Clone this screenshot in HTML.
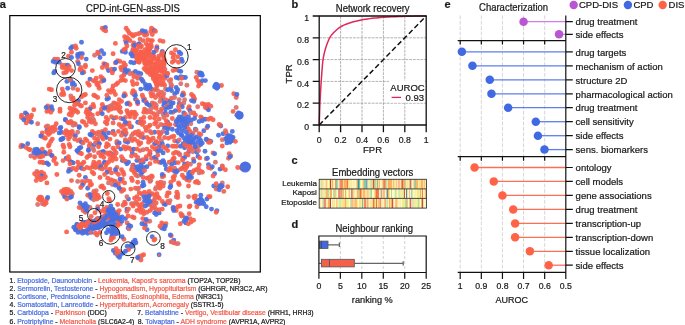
<!DOCTYPE html>
<html><head><meta charset="utf-8"><style>
html,body{margin:0;padding:0;background:#fff;}
svg{display:block;will-change:transform;font-family:"Liberation Sans", sans-serif;}
text{fill:#1a1a1a;stroke:#1a1a1a;stroke-width:0.22px;}
</style></head><body>
<svg width="685" height="325" viewBox="0 0 685 325">
<text x="-0.3" y="8" font-size="11" font-weight="bold">a</text>
<text transform="translate(133 11.6) scale(1 1.08)" font-size="9.5" text-anchor="middle">CPD-int-GEN-ass-DIS</text>
<g><circle cx="113.8" cy="118.3" r="2.45" fill="#4a6fe0" fill-opacity="0.93"/><circle cx="126.9" cy="123.7" r="2.45" fill="#4a6fe0" fill-opacity="0.93"/><circle cx="141.5" cy="122.2" r="2.45" fill="#4a6fe0" fill-opacity="0.93"/><circle cx="131.5" cy="126.8" r="2.45" fill="#4a6fe0" fill-opacity="0.93"/><circle cx="123.1" cy="132.9" r="2.45" fill="#4a6fe0" fill-opacity="0.93"/><circle cx="125.4" cy="134.5" r="2.45" fill="#4a6fe0" fill-opacity="0.93"/><circle cx="113.1" cy="131.4" r="2.45" fill="#4a6fe0" fill-opacity="0.93"/><circle cx="140.0" cy="135.2" r="2.45" fill="#4a6fe0" fill-opacity="0.93"/><circle cx="143.1" cy="137.5" r="2.45" fill="#4a6fe0" fill-opacity="0.93"/><circle cx="125.4" cy="141.4" r="2.45" fill="#4a6fe0" fill-opacity="0.93"/><circle cx="127.7" cy="142.2" r="2.45" fill="#4a6fe0" fill-opacity="0.93"/><circle cx="116.9" cy="142.9" r="2.45" fill="#4a6fe0" fill-opacity="0.93"/><circle cx="132.3" cy="152.9" r="2.45" fill="#4a6fe0" fill-opacity="0.93"/><circle cx="156.2" cy="142.9" r="2.45" fill="#4a6fe0" fill-opacity="0.93"/><circle cx="163.1" cy="152.9" r="2.45" fill="#4a6fe0" fill-opacity="0.93"/><circle cx="156.9" cy="149.1" r="2.45" fill="#4a6fe0" fill-opacity="0.93"/><circle cx="159.2" cy="146.8" r="2.45" fill="#4a6fe0" fill-opacity="0.93"/><circle cx="167.7" cy="146.0" r="2.45" fill="#4a6fe0" fill-opacity="0.93"/><circle cx="156.2" cy="159.1" r="2.45" fill="#4a6fe0" fill-opacity="0.93"/><circle cx="160.8" cy="162.2" r="2.45" fill="#4a6fe0" fill-opacity="0.93"/><circle cx="163.8" cy="162.2" r="2.45" fill="#4a6fe0" fill-opacity="0.93"/><circle cx="143.1" cy="162.2" r="2.45" fill="#4a6fe0" fill-opacity="0.93"/><circle cx="140.8" cy="160.6" r="2.45" fill="#4a6fe0" fill-opacity="0.93"/><circle cx="146.2" cy="159.1" r="2.45" fill="#4a6fe0" fill-opacity="0.93"/><circle cx="122.3" cy="160.6" r="2.45" fill="#4a6fe0" fill-opacity="0.93"/><circle cx="125.4" cy="161.4" r="2.45" fill="#4a6fe0" fill-opacity="0.93"/><circle cx="128.5" cy="162.2" r="2.45" fill="#4a6fe0" fill-opacity="0.93"/><circle cx="133.1" cy="165.2" r="2.45" fill="#4a6fe0" fill-opacity="0.93"/><circle cx="150.0" cy="153.7" r="2.45" fill="#4a6fe0" fill-opacity="0.93"/><circle cx="154.6" cy="132.2" r="2.45" fill="#4a6fe0" fill-opacity="0.93"/><circle cx="160.8" cy="132.9" r="2.45" fill="#4a6fe0" fill-opacity="0.93"/><circle cx="168.5" cy="126.8" r="2.45" fill="#4a6fe0" fill-opacity="0.93"/><circle cx="167.7" cy="122.2" r="2.45" fill="#4a6fe0" fill-opacity="0.93"/><circle cx="110.0" cy="152.9" r="2.45" fill="#4a6fe0" fill-opacity="0.93"/><circle cx="112.3" cy="154.5" r="2.45" fill="#4a6fe0" fill-opacity="0.93"/><circle cx="60.0" cy="128.3" r="2.45" fill="#4a6fe0" fill-opacity="0.93"/><circle cx="61.5" cy="139.1" r="2.45" fill="#4a6fe0" fill-opacity="0.93"/><circle cx="79.2" cy="126.8" r="2.45" fill="#4a6fe0" fill-opacity="0.93"/><circle cx="96.9" cy="142.9" r="2.45" fill="#4a6fe0" fill-opacity="0.93"/><circle cx="99.2" cy="143.7" r="2.45" fill="#4a6fe0" fill-opacity="0.93"/><circle cx="104.6" cy="136.0" r="2.45" fill="#4a6fe0" fill-opacity="0.93"/><circle cx="106.2" cy="137.5" r="2.45" fill="#4a6fe0" fill-opacity="0.93"/><circle cx="76.9" cy="150.6" r="2.45" fill="#4a6fe0" fill-opacity="0.93"/><circle cx="78.5" cy="152.2" r="2.45" fill="#4a6fe0" fill-opacity="0.93"/><circle cx="88.5" cy="150.6" r="2.45" fill="#4a6fe0" fill-opacity="0.93"/><circle cx="103.8" cy="152.2" r="2.45" fill="#4a6fe0" fill-opacity="0.93"/><circle cx="71.5" cy="162.2" r="2.45" fill="#4a6fe0" fill-opacity="0.93"/><circle cx="66.2" cy="158.3" r="2.45" fill="#4a6fe0" fill-opacity="0.93"/><circle cx="104.6" cy="162.2" r="2.45" fill="#4a6fe0" fill-opacity="0.93"/><circle cx="65.4" cy="119.8" r="2.45" fill="#4a6fe0" fill-opacity="0.93"/><circle cx="66.9" cy="132.2" r="2.45" fill="#4a6fe0" fill-opacity="0.93"/><circle cx="145.8" cy="70.3" r="2.45" fill="#f8604c" fill-opacity="0.93"/><circle cx="162.6" cy="55.4" r="2.45" fill="#f8604c" fill-opacity="0.93"/><circle cx="162.6" cy="64.8" r="2.45" fill="#f8604c" fill-opacity="0.93"/><circle cx="163.7" cy="66.9" r="2.45" fill="#f8604c" fill-opacity="0.93"/><circle cx="159.8" cy="69.8" r="2.45" fill="#f8604c" fill-opacity="0.93"/><circle cx="164.1" cy="75.1" r="2.45" fill="#f8604c" fill-opacity="0.93"/><circle cx="137.3" cy="53.6" r="2.45" fill="#f8604c" fill-opacity="0.93"/><circle cx="148.1" cy="71.3" r="2.45" fill="#f8604c" fill-opacity="0.93"/><circle cx="150.7" cy="60.9" r="2.45" fill="#f8604c" fill-opacity="0.93"/><circle cx="153.5" cy="69.5" r="2.45" fill="#f8604c" fill-opacity="0.93"/><circle cx="157.0" cy="84.4" r="2.45" fill="#f8604c" fill-opacity="0.93"/><circle cx="152.9" cy="75.1" r="2.45" fill="#f8604c" fill-opacity="0.93"/><circle cx="162.4" cy="69.0" r="2.45" fill="#f8604c" fill-opacity="0.93"/><circle cx="161.3" cy="62.0" r="2.45" fill="#f8604c" fill-opacity="0.93"/><circle cx="158.3" cy="58.5" r="2.45" fill="#f8604c" fill-opacity="0.93"/><circle cx="133.5" cy="52.7" r="2.45" fill="#f8604c" fill-opacity="0.93"/><circle cx="164.8" cy="60.6" r="2.45" fill="#f8604c" fill-opacity="0.93"/><circle cx="151.2" cy="72.1" r="2.45" fill="#f8604c" fill-opacity="0.93"/><circle cx="152.6" cy="71.1" r="2.45" fill="#f8604c" fill-opacity="0.93"/><circle cx="150.7" cy="62.9" r="2.45" fill="#f8604c" fill-opacity="0.93"/><circle cx="141.0" cy="57.2" r="2.45" fill="#f8604c" fill-opacity="0.93"/><circle cx="151.2" cy="67.9" r="2.45" fill="#d9706e" fill-opacity="0.93"/><circle cx="147.4" cy="69.3" r="2.45" fill="#f8604c" fill-opacity="0.93"/><circle cx="154.6" cy="71.6" r="2.45" fill="#f8604c" fill-opacity="0.93"/><circle cx="155.0" cy="64.4" r="2.45" fill="#f8604c" fill-opacity="0.93"/><circle cx="148.9" cy="69.9" r="2.45" fill="#f8604c" fill-opacity="0.93"/><circle cx="145.5" cy="57.7" r="2.45" fill="#f8604c" fill-opacity="0.93"/><circle cx="153.9" cy="57.2" r="2.45" fill="#f8604c" fill-opacity="0.93"/><circle cx="153.0" cy="76.0" r="2.45" fill="#f8604c" fill-opacity="0.93"/><circle cx="141.0" cy="52.3" r="2.45" fill="#f8604c" fill-opacity="0.93"/><circle cx="144.0" cy="58.7" r="2.45" fill="#f8604c" fill-opacity="0.93"/><circle cx="138.5" cy="58.8" r="2.45" fill="#f8604c" fill-opacity="0.93"/><circle cx="164.3" cy="63.7" r="2.45" fill="#f8604c" fill-opacity="0.93"/><circle cx="155.6" cy="79.1" r="2.45" fill="#f8604c" fill-opacity="0.93"/><circle cx="137.1" cy="56.8" r="2.45" fill="#f8604c" fill-opacity="0.93"/><circle cx="142.2" cy="59.2" r="2.45" fill="#f8604c" fill-opacity="0.93"/><circle cx="147.6" cy="61.9" r="2.45" fill="#f8604c" fill-opacity="0.93"/><circle cx="138.0" cy="44.4" r="2.45" fill="#f8604c" fill-opacity="0.93"/><circle cx="159.3" cy="80.4" r="2.45" fill="#f8604c" fill-opacity="0.93"/><circle cx="151.1" cy="56.7" r="2.45" fill="#f8604c" fill-opacity="0.93"/><circle cx="140.6" cy="47.1" r="2.45" fill="#f8604c" fill-opacity="0.93"/><circle cx="157.4" cy="84.2" r="2.45" fill="#f8604c" fill-opacity="0.93"/><circle cx="164.9" cy="69.2" r="2.45" fill="#d9706e" fill-opacity="0.93"/><circle cx="151.4" cy="62.1" r="2.45" fill="#f8604c" fill-opacity="0.93"/><circle cx="154.5" cy="59.0" r="2.45" fill="#f8604c" fill-opacity="0.93"/><circle cx="163.5" cy="64.9" r="2.45" fill="#f8604c" fill-opacity="0.93"/><circle cx="145.1" cy="52.7" r="2.45" fill="#f8604c" fill-opacity="0.93"/><circle cx="161.0" cy="84.1" r="2.45" fill="#f8604c" fill-opacity="0.93"/><circle cx="155.1" cy="81.5" r="2.45" fill="#f8604c" fill-opacity="0.93"/><circle cx="142.2" cy="55.8" r="2.45" fill="#f8604c" fill-opacity="0.93"/><circle cx="147.7" cy="64.7" r="2.45" fill="#f8604c" fill-opacity="0.93"/><circle cx="137.0" cy="49.6" r="2.45" fill="#f8604c" fill-opacity="0.93"/><circle cx="143.8" cy="57.8" r="2.45" fill="#f8604c" fill-opacity="0.93"/><circle cx="155.8" cy="69.6" r="2.45" fill="#f8604c" fill-opacity="0.93"/><circle cx="139.3" cy="58.4" r="2.45" fill="#f8604c" fill-opacity="0.93"/><circle cx="152.5" cy="75.2" r="2.45" fill="#f8604c" fill-opacity="0.93"/><circle cx="135.3" cy="51.9" r="2.45" fill="#f8604c" fill-opacity="0.93"/><circle cx="154.2" cy="78.1" r="2.45" fill="#f8604c" fill-opacity="0.93"/><circle cx="161.3" cy="71.2" r="2.45" fill="#f8604c" fill-opacity="0.93"/><circle cx="145.8" cy="65.7" r="2.45" fill="#f8604c" fill-opacity="0.93"/><circle cx="149.0" cy="54.8" r="2.45" fill="#f8604c" fill-opacity="0.93"/><circle cx="147.7" cy="62.6" r="2.45" fill="#f8604c" fill-opacity="0.93"/><circle cx="164.8" cy="78.4" r="2.45" fill="#f8604c" fill-opacity="0.93"/><circle cx="149.2" cy="49.5" r="2.45" fill="#f8604c" fill-opacity="0.93"/><circle cx="156.3" cy="82.6" r="2.45" fill="#f8604c" fill-opacity="0.93"/><circle cx="156.5" cy="76.0" r="2.45" fill="#f8604c" fill-opacity="0.93"/><circle cx="132.6" cy="50.4" r="2.45" fill="#f8604c" fill-opacity="0.93"/><circle cx="134.0" cy="48.2" r="2.45" fill="#f8604c" fill-opacity="0.93"/><circle cx="156.7" cy="80.4" r="2.45" fill="#f8604c" fill-opacity="0.93"/><circle cx="153.3" cy="78.8" r="2.45" fill="#f8604c" fill-opacity="0.93"/><circle cx="160.1" cy="66.3" r="2.45" fill="#f8604c" fill-opacity="0.93"/><circle cx="144.1" cy="68.6" r="2.45" fill="#f8604c" fill-opacity="0.93"/><circle cx="141.1" cy="52.0" r="2.45" fill="#f8604c" fill-opacity="0.93"/><circle cx="154.6" cy="76.8" r="2.45" fill="#f8604c" fill-opacity="0.93"/><circle cx="145.7" cy="61.4" r="2.45" fill="#f8604c" fill-opacity="0.93"/><circle cx="147.5" cy="47.8" r="2.45" fill="#f8604c" fill-opacity="0.93"/><circle cx="157.3" cy="76.9" r="2.45" fill="#f8604c" fill-opacity="0.93"/><circle cx="151.1" cy="65.1" r="2.45" fill="#f8604c" fill-opacity="0.93"/><circle cx="139.1" cy="55.8" r="2.45" fill="#f8604c" fill-opacity="0.93"/><circle cx="153.5" cy="57.8" r="2.45" fill="#f8604c" fill-opacity="0.93"/><circle cx="157.3" cy="85.5" r="2.45" fill="#f8604c" fill-opacity="0.93"/><circle cx="157.9" cy="62.1" r="2.45" fill="#f8604c" fill-opacity="0.93"/><circle cx="153.5" cy="55.8" r="2.45" fill="#f8604c" fill-opacity="0.93"/><circle cx="146.2" cy="51.7" r="2.45" fill="#f8604c" fill-opacity="0.93"/><circle cx="149.7" cy="70.1" r="2.45" fill="#f8604c" fill-opacity="0.93"/><circle cx="162.5" cy="79.8" r="2.45" fill="#f8604c" fill-opacity="0.93"/><circle cx="163.3" cy="61.5" r="2.45" fill="#f8604c" fill-opacity="0.93"/><circle cx="140.7" cy="54.4" r="2.45" fill="#f8604c" fill-opacity="0.93"/><circle cx="156.8" cy="85.7" r="2.45" fill="#f8604c" fill-opacity="0.93"/><circle cx="141.1" cy="52.4" r="2.45" fill="#f8604c" fill-opacity="0.93"/><circle cx="163.4" cy="83.2" r="2.45" fill="#f8604c" fill-opacity="0.93"/><circle cx="163.6" cy="57.8" r="2.45" fill="#f8604c" fill-opacity="0.93"/><circle cx="142.9" cy="59.6" r="2.45" fill="#f8604c" fill-opacity="0.93"/><circle cx="144.5" cy="63.1" r="2.45" fill="#f8604c" fill-opacity="0.93"/><circle cx="160.3" cy="77.0" r="2.45" fill="#f8604c" fill-opacity="0.93"/><circle cx="156.8" cy="72.5" r="2.45" fill="#f8604c" fill-opacity="0.93"/><circle cx="167.1" cy="73.3" r="2.45" fill="#f8604c" fill-opacity="0.93"/><circle cx="156.9" cy="68.7" r="2.45" fill="#f8604c" fill-opacity="0.93"/><circle cx="155.7" cy="71.5" r="2.45" fill="#f8604c" fill-opacity="0.93"/><circle cx="164.5" cy="72.6" r="2.45" fill="#f8604c" fill-opacity="0.93"/><circle cx="154.0" cy="68.2" r="2.45" fill="#f8604c" fill-opacity="0.93"/><circle cx="148.9" cy="57.7" r="2.45" fill="#f8604c" fill-opacity="0.93"/><circle cx="159.6" cy="67.7" r="2.45" fill="#f8604c" fill-opacity="0.93"/><circle cx="145.4" cy="55.7" r="2.45" fill="#f8604c" fill-opacity="0.93"/><circle cx="150.6" cy="54.9" r="2.45" fill="#f8604c" fill-opacity="0.93"/><circle cx="145.2" cy="58.6" r="2.45" fill="#f8604c" fill-opacity="0.93"/><circle cx="136.4" cy="55.9" r="2.45" fill="#f8604c" fill-opacity="0.93"/><circle cx="139.2" cy="62.2" r="2.45" fill="#f8604c" fill-opacity="0.93"/><circle cx="161.8" cy="76.6" r="2.45" fill="#f8604c" fill-opacity="0.93"/><circle cx="137.7" cy="61.5" r="2.45" fill="#f8604c" fill-opacity="0.93"/><circle cx="151.4" cy="68.8" r="2.45" fill="#f8604c" fill-opacity="0.93"/><circle cx="164.6" cy="85.3" r="2.45" fill="#f8604c" fill-opacity="0.93"/><circle cx="152.3" cy="69.4" r="2.45" fill="#f8604c" fill-opacity="0.93"/><circle cx="149.9" cy="70.2" r="2.45" fill="#f8604c" fill-opacity="0.93"/><circle cx="156.3" cy="65.5" r="2.45" fill="#f8604c" fill-opacity="0.93"/><circle cx="149.0" cy="52.6" r="2.45" fill="#f8604c" fill-opacity="0.93"/><circle cx="155.7" cy="63.4" r="2.45" fill="#f8604c" fill-opacity="0.93"/><circle cx="145.4" cy="54.3" r="2.45" fill="#f8604c" fill-opacity="0.93"/><circle cx="163.4" cy="70.2" r="2.45" fill="#f8604c" fill-opacity="0.93"/><circle cx="158.2" cy="76.2" r="2.45" fill="#f8604c" fill-opacity="0.93"/><circle cx="161.5" cy="84.5" r="2.45" fill="#f8604c" fill-opacity="0.93"/><circle cx="149.9" cy="48.9" r="2.45" fill="#f8604c" fill-opacity="0.93"/><circle cx="135.2" cy="52.9" r="2.45" fill="#f8604c" fill-opacity="0.93"/><circle cx="150.3" cy="74.5" r="2.45" fill="#f8604c" fill-opacity="0.93"/><circle cx="147.6" cy="72.3" r="2.45" fill="#f8604c" fill-opacity="0.93"/><circle cx="146.9" cy="52.0" r="2.45" fill="#f8604c" fill-opacity="0.93"/><circle cx="158.4" cy="60.1" r="2.45" fill="#f8604c" fill-opacity="0.93"/><circle cx="151.5" cy="70.0" r="2.45" fill="#f8604c" fill-opacity="0.93"/><circle cx="149.0" cy="52.7" r="2.45" fill="#f8604c" fill-opacity="0.93"/><circle cx="138.6" cy="61.7" r="2.45" fill="#f8604c" fill-opacity="0.93"/><circle cx="133.4" cy="49.0" r="2.45" fill="#f8604c" fill-opacity="0.93"/><circle cx="144.9" cy="49.6" r="2.45" fill="#f8604c" fill-opacity="0.93"/><circle cx="158.7" cy="56.1" r="2.45" fill="#f8604c" fill-opacity="0.93"/><circle cx="143.2" cy="55.0" r="2.45" fill="#f8604c" fill-opacity="0.93"/><circle cx="161.8" cy="71.4" r="2.45" fill="#f8604c" fill-opacity="0.93"/><circle cx="135.7" cy="51.6" r="2.45" fill="#f8604c" fill-opacity="0.93"/><circle cx="161.4" cy="83.9" r="2.45" fill="#f8604c" fill-opacity="0.93"/><circle cx="135.6" cy="56.9" r="2.45" fill="#f8604c" fill-opacity="0.93"/><circle cx="136.5" cy="61.1" r="2.45" fill="#f8604c" fill-opacity="0.93"/><circle cx="156.9" cy="84.4" r="2.45" fill="#f8604c" fill-opacity="0.93"/><circle cx="159.1" cy="76.0" r="2.45" fill="#f8604c" fill-opacity="0.93"/><circle cx="145.5" cy="62.2" r="2.45" fill="#f8604c" fill-opacity="0.93"/><circle cx="160.5" cy="65.0" r="2.45" fill="#f8604c" fill-opacity="0.93"/><circle cx="81.2" cy="226.4" r="2.45" fill="#4a6fe0" fill-opacity="0.93"/><circle cx="108.2" cy="218.5" r="2.45" fill="#4a6fe0" fill-opacity="0.93"/><circle cx="80.4" cy="226.2" r="2.45" fill="#4a6fe0" fill-opacity="0.93"/><circle cx="96.0" cy="227.3" r="2.45" fill="#4a6fe0" fill-opacity="0.93"/><circle cx="109.3" cy="217.3" r="2.45" fill="#4a6fe0" fill-opacity="0.93"/><circle cx="76.7" cy="224.7" r="2.45" fill="#4a6fe0" fill-opacity="0.93"/><circle cx="104.9" cy="223.2" r="2.45" fill="#d9706e" fill-opacity="0.93"/><circle cx="84.2" cy="232.2" r="2.45" fill="#4a6fe0" fill-opacity="0.93"/><circle cx="100.8" cy="219.3" r="2.45" fill="#4a6fe0" fill-opacity="0.93"/><circle cx="113.9" cy="212.1" r="2.45" fill="#4a6fe0" fill-opacity="0.93"/><circle cx="116.2" cy="217.6" r="2.45" fill="#4a6fe0" fill-opacity="0.93"/><circle cx="113.4" cy="214.3" r="2.45" fill="#4a6fe0" fill-opacity="0.93"/><circle cx="95.9" cy="226.6" r="2.45" fill="#4a6fe0" fill-opacity="0.93"/><circle cx="90.0" cy="220.8" r="2.45" fill="#4a6fe0" fill-opacity="0.93"/><circle cx="100.3" cy="226.8" r="2.45" fill="#4a6fe0" fill-opacity="0.93"/><circle cx="105.1" cy="223.7" r="2.45" fill="#4a6fe0" fill-opacity="0.93"/><circle cx="80.9" cy="231.4" r="2.45" fill="#4a6fe0" fill-opacity="0.93"/><circle cx="99.4" cy="219.3" r="2.45" fill="#4a6fe0" fill-opacity="0.93"/><circle cx="96.9" cy="227.7" r="2.45" fill="#4a6fe0" fill-opacity="0.93"/><circle cx="87.3" cy="231.4" r="2.45" fill="#4a6fe0" fill-opacity="0.93"/><circle cx="77.5" cy="226.4" r="2.45" fill="#4a6fe0" fill-opacity="0.93"/><circle cx="98.6" cy="224.5" r="2.45" fill="#4a6fe0" fill-opacity="0.93"/><circle cx="109.9" cy="215.9" r="2.45" fill="#4a6fe0" fill-opacity="0.93"/><circle cx="89.9" cy="226.9" r="2.45" fill="#4a6fe0" fill-opacity="0.93"/><circle cx="116.4" cy="218.2" r="2.45" fill="#4a6fe0" fill-opacity="0.93"/><circle cx="98.9" cy="222.2" r="2.45" fill="#4a6fe0" fill-opacity="0.93"/><circle cx="115.2" cy="216.1" r="2.45" fill="#4a6fe0" fill-opacity="0.93"/><circle cx="113.0" cy="209.6" r="2.45" fill="#4a6fe0" fill-opacity="0.93"/><circle cx="99.2" cy="222.0" r="2.45" fill="#4a6fe0" fill-opacity="0.93"/><circle cx="111.1" cy="220.4" r="2.45" fill="#4a6fe0" fill-opacity="0.93"/><circle cx="112.7" cy="219.3" r="2.45" fill="#4a6fe0" fill-opacity="0.93"/><circle cx="104.0" cy="225.3" r="2.45" fill="#4a6fe0" fill-opacity="0.93"/><circle cx="113.0" cy="215.2" r="2.45" fill="#4a6fe0" fill-opacity="0.93"/><circle cx="117.9" cy="220.4" r="2.45" fill="#4a6fe0" fill-opacity="0.93"/><circle cx="102.8" cy="219.2" r="2.45" fill="#4a6fe0" fill-opacity="0.93"/><circle cx="100.0" cy="219.0" r="2.45" fill="#4a6fe0" fill-opacity="0.93"/><circle cx="95.4" cy="228.3" r="2.45" fill="#4a6fe0" fill-opacity="0.93"/><circle cx="88.4" cy="221.7" r="2.45" fill="#4a6fe0" fill-opacity="0.93"/><circle cx="100.1" cy="220.9" r="2.45" fill="#4a6fe0" fill-opacity="0.93"/><circle cx="77.8" cy="225.2" r="2.45" fill="#4a6fe0" fill-opacity="0.93"/><circle cx="82.4" cy="231.1" r="2.45" fill="#4a6fe0" fill-opacity="0.93"/><circle cx="91.8" cy="228.9" r="2.45" fill="#4a6fe0" fill-opacity="0.93"/><circle cx="86.2" cy="231.8" r="2.45" fill="#4a6fe0" fill-opacity="0.93"/><circle cx="99.0" cy="226.9" r="2.45" fill="#4a6fe0" fill-opacity="0.93"/><circle cx="86.1" cy="222.3" r="2.45" fill="#4a6fe0" fill-opacity="0.93"/><circle cx="84.5" cy="232.0" r="2.45" fill="#4a6fe0" fill-opacity="0.93"/><circle cx="117.9" cy="213.6" r="2.45" fill="#4a6fe0" fill-opacity="0.93"/><circle cx="110.6" cy="213.6" r="2.45" fill="#4a6fe0" fill-opacity="0.93"/><circle cx="99.4" cy="218.4" r="2.45" fill="#4a6fe0" fill-opacity="0.93"/><circle cx="96.9" cy="226.0" r="2.45" fill="#4a6fe0" fill-opacity="0.93"/><circle cx="101.1" cy="220.4" r="2.45" fill="#4a6fe0" fill-opacity="0.93"/><circle cx="94.8" cy="222.0" r="2.45" fill="#4a6fe0" fill-opacity="0.93"/><circle cx="82.7" cy="223.4" r="2.45" fill="#4a6fe0" fill-opacity="0.93"/><circle cx="115.0" cy="213.6" r="2.45" fill="#4a6fe0" fill-opacity="0.93"/><circle cx="114.6" cy="213.4" r="2.45" fill="#4a6fe0" fill-opacity="0.93"/><circle cx="116.2" cy="212.1" r="2.45" fill="#d9706e" fill-opacity="0.93"/><circle cx="98.9" cy="227.5" r="2.45" fill="#4a6fe0" fill-opacity="0.93"/><circle cx="99.7" cy="219.8" r="2.45" fill="#4a6fe0" fill-opacity="0.93"/><circle cx="102.7" cy="217.0" r="2.45" fill="#4a6fe0" fill-opacity="0.93"/><circle cx="90.6" cy="223.6" r="2.45" fill="#4a6fe0" fill-opacity="0.93"/><circle cx="114.4" cy="216.2" r="2.45" fill="#4a6fe0" fill-opacity="0.93"/><circle cx="97.7" cy="226.7" r="2.45" fill="#4a6fe0" fill-opacity="0.93"/><circle cx="104.9" cy="216.1" r="2.45" fill="#4a6fe0" fill-opacity="0.93"/><circle cx="95.3" cy="220.7" r="2.45" fill="#4a6fe0" fill-opacity="0.93"/><circle cx="99.1" cy="219.8" r="2.45" fill="#4a6fe0" fill-opacity="0.93"/><circle cx="75.7" cy="229.6" r="2.45" fill="#4a6fe0" fill-opacity="0.93"/><circle cx="83.4" cy="222.3" r="2.45" fill="#4a6fe0" fill-opacity="0.93"/><circle cx="108.2" cy="217.9" r="2.45" fill="#4a6fe0" fill-opacity="0.93"/><circle cx="97.9" cy="218.8" r="2.45" fill="#4a6fe0" fill-opacity="0.93"/><circle cx="99.4" cy="226.8" r="2.45" fill="#4a6fe0" fill-opacity="0.93"/><circle cx="94.7" cy="225.5" r="2.45" fill="#4a6fe0" fill-opacity="0.93"/><circle cx="116.6" cy="218.3" r="2.45" fill="#4a6fe0" fill-opacity="0.93"/><circle cx="117.1" cy="216.2" r="2.45" fill="#4a6fe0" fill-opacity="0.93"/><circle cx="114.2" cy="213.7" r="2.45" fill="#4a6fe0" fill-opacity="0.93"/><circle cx="92.1" cy="221.5" r="2.45" fill="#4a6fe0" fill-opacity="0.93"/><circle cx="104.1" cy="225.0" r="2.45" fill="#4a6fe0" fill-opacity="0.93"/><circle cx="94.7" cy="227.2" r="2.45" fill="#4a6fe0" fill-opacity="0.93"/><circle cx="96.6" cy="219.4" r="2.45" fill="#4a6fe0" fill-opacity="0.93"/><circle cx="113.9" cy="217.2" r="2.45" fill="#4a6fe0" fill-opacity="0.93"/><circle cx="77.1" cy="224.5" r="2.45" fill="#4a6fe0" fill-opacity="0.93"/><circle cx="102.3" cy="28.3" r="2.45" fill="#f8604c" fill-opacity="0.93"/><circle cx="103.8" cy="29.8" r="2.45" fill="#f8604c" fill-opacity="0.93"/><circle cx="105.4" cy="27.5" r="2.45" fill="#4a6fe0" fill-opacity="0.93"/><circle cx="105.7" cy="30.9" r="2.45" fill="#f8604c" fill-opacity="0.93"/><circle cx="81.5" cy="42.2" r="2.45" fill="#4a6fe0" fill-opacity="0.93"/><circle cx="70.8" cy="48.3" r="2.45" fill="#4a6fe0" fill-opacity="0.93"/><circle cx="72.3" cy="46.8" r="2.45" fill="#4a6fe0" fill-opacity="0.93"/><circle cx="75.4" cy="46.0" r="2.45" fill="#f8604c" fill-opacity="0.93"/><circle cx="76.2" cy="48.3" r="2.45" fill="#f8604c" fill-opacity="0.93"/><circle cx="71.5" cy="52.2" r="2.45" fill="#f8604c" fill-opacity="0.93"/><circle cx="77.7" cy="54.5" r="2.45" fill="#4a6fe0" fill-opacity="0.93"/><circle cx="80.0" cy="53.7" r="2.45" fill="#4a6fe0" fill-opacity="0.93"/><circle cx="82.3" cy="53.7" r="2.45" fill="#4a6fe0" fill-opacity="0.93"/><circle cx="81.5" cy="57.5" r="2.45" fill="#f8604c" fill-opacity="0.93"/><circle cx="77.7" cy="56.8" r="2.45" fill="#4a6fe0" fill-opacity="0.93"/><circle cx="86.2" cy="59.1" r="2.45" fill="#4a6fe0" fill-opacity="0.93"/><circle cx="68.5" cy="56.3" r="2.45" fill="#f8604c" fill-opacity="0.93"/><circle cx="71.5" cy="57.5" r="2.45" fill="#4a6fe0" fill-opacity="0.93"/><circle cx="77.7" cy="61.4" r="2.45" fill="#f8604c" fill-opacity="0.93"/><circle cx="78.5" cy="63.7" r="2.45" fill="#4a6fe0" fill-opacity="0.93"/><circle cx="97.7" cy="52.2" r="2.45" fill="#f8604c" fill-opacity="0.93"/><circle cx="101.5" cy="50.6" r="2.45" fill="#4a6fe0" fill-opacity="0.93"/><circle cx="98.5" cy="53.7" r="2.45" fill="#f8604c" fill-opacity="0.93"/><circle cx="94.6" cy="55.2" r="2.45" fill="#d9706e" fill-opacity="0.93"/><circle cx="100.0" cy="57.5" r="2.45" fill="#4a6fe0" fill-opacity="0.93"/><circle cx="103.8" cy="53.7" r="2.45" fill="#4a6fe0" fill-opacity="0.93"/><circle cx="54.6" cy="59.1" r="2.45" fill="#f8604c" fill-opacity="0.93"/><circle cx="57.7" cy="59.1" r="2.45" fill="#f8604c" fill-opacity="0.93"/><circle cx="53.1" cy="61.4" r="2.45" fill="#4a6fe0" fill-opacity="0.93"/><circle cx="55.4" cy="62.2" r="2.45" fill="#4a6fe0" fill-opacity="0.93"/><circle cx="59.2" cy="62.2" r="2.45" fill="#4a6fe0" fill-opacity="0.93"/><circle cx="62.3" cy="65.2" r="2.45" fill="#f8604c" fill-opacity="0.93"/><circle cx="65.4" cy="65.2" r="2.45" fill="#f8604c" fill-opacity="0.93"/><circle cx="67.7" cy="65.2" r="2.45" fill="#4a6fe0" fill-opacity="0.93"/><circle cx="103.8" cy="63.7" r="2.45" fill="#f8604c" fill-opacity="0.93"/><circle cx="105.4" cy="64.5" r="2.45" fill="#4a6fe0" fill-opacity="0.93"/><circle cx="106.9" cy="64.9" r="2.45" fill="#f8604c" fill-opacity="0.93"/><circle cx="85.4" cy="65.2" r="2.45" fill="#d9706e" fill-opacity="0.93"/><circle cx="126.2" cy="28.3" r="2.45" fill="#f8604c" fill-opacity="0.93"/><circle cx="127.7" cy="30.6" r="2.45" fill="#f8604c" fill-opacity="0.93"/><circle cx="129.2" cy="32.9" r="2.45" fill="#f8604c" fill-opacity="0.93"/><circle cx="131.5" cy="34.5" r="2.45" fill="#f8604c" fill-opacity="0.93"/><circle cx="133.1" cy="36.0" r="2.45" fill="#f8604c" fill-opacity="0.93"/><circle cx="124.6" cy="36.8" r="2.45" fill="#f8604c" fill-opacity="0.93"/><circle cx="126.9" cy="37.5" r="2.45" fill="#f8604c" fill-opacity="0.93"/><circle cx="128.5" cy="39.1" r="2.45" fill="#f8604c" fill-opacity="0.93"/><circle cx="130.0" cy="40.6" r="2.45" fill="#f8604c" fill-opacity="0.93"/><circle cx="125.4" cy="40.6" r="2.45" fill="#f8604c" fill-opacity="0.93"/><circle cx="135.4" cy="34.5" r="2.45" fill="#f8604c" fill-opacity="0.93"/><circle cx="138.5" cy="33.7" r="2.45" fill="#f8604c" fill-opacity="0.93"/><circle cx="140.8" cy="32.9" r="2.45" fill="#f8604c" fill-opacity="0.93"/><circle cx="143.1" cy="32.2" r="2.45" fill="#f8604c" fill-opacity="0.93"/><circle cx="145.4" cy="33.7" r="2.45" fill="#f8604c" fill-opacity="0.93"/><circle cx="144.6" cy="35.2" r="2.45" fill="#f8604c" fill-opacity="0.93"/><circle cx="146.9" cy="34.5" r="2.45" fill="#f8604c" fill-opacity="0.93"/><circle cx="142.3" cy="30.6" r="2.45" fill="#4a6fe0" fill-opacity="0.93"/><circle cx="145.4" cy="31.4" r="2.45" fill="#4a6fe0" fill-opacity="0.93"/><circle cx="151.5" cy="28.3" r="2.45" fill="#f8604c" fill-opacity="0.93"/><circle cx="153.1" cy="29.8" r="2.45" fill="#f8604c" fill-opacity="0.93"/><circle cx="150.8" cy="31.4" r="2.45" fill="#f8604c" fill-opacity="0.93"/><circle cx="152.3" cy="34.5" r="2.45" fill="#f8604c" fill-opacity="0.93"/><circle cx="154.6" cy="30.6" r="2.45" fill="#4a6fe0" fill-opacity="0.93"/><circle cx="155.4" cy="31.4" r="2.45" fill="#f8604c" fill-opacity="0.93"/><circle cx="140.0" cy="39.1" r="2.45" fill="#f8604c" fill-opacity="0.93"/><circle cx="143.1" cy="40.6" r="2.45" fill="#f8604c" fill-opacity="0.93"/><circle cx="147.7" cy="39.8" r="2.45" fill="#f8604c" fill-opacity="0.93"/><circle cx="150.8" cy="40.6" r="2.45" fill="#f8604c" fill-opacity="0.93"/><circle cx="152.3" cy="40.6" r="2.45" fill="#f8604c" fill-opacity="0.93"/><circle cx="160.0" cy="40.6" r="2.45" fill="#f8604c" fill-opacity="0.93"/><circle cx="163.1" cy="41.4" r="2.45" fill="#f8604c" fill-opacity="0.93"/><circle cx="115.4" cy="43.4" r="2.45" fill="#f8604c" fill-opacity="0.93"/><circle cx="133.8" cy="42.9" r="2.45" fill="#f8604c" fill-opacity="0.93"/><circle cx="133.1" cy="45.2" r="2.45" fill="#f8604c" fill-opacity="0.93"/><circle cx="134.6" cy="45.2" r="2.45" fill="#4a6fe0" fill-opacity="0.93"/><circle cx="139.2" cy="43.7" r="2.45" fill="#4a6fe0" fill-opacity="0.93"/><circle cx="138.5" cy="46.0" r="2.45" fill="#f8604c" fill-opacity="0.93"/><circle cx="141.5" cy="46.0" r="2.45" fill="#f8604c" fill-opacity="0.93"/><circle cx="146.2" cy="43.7" r="2.45" fill="#f8604c" fill-opacity="0.93"/><circle cx="148.5" cy="45.2" r="2.45" fill="#f8604c" fill-opacity="0.93"/><circle cx="150.8" cy="44.5" r="2.45" fill="#f8604c" fill-opacity="0.93"/><circle cx="151.5" cy="46.8" r="2.45" fill="#f8604c" fill-opacity="0.93"/><circle cx="149.2" cy="48.3" r="2.45" fill="#f8604c" fill-opacity="0.93"/><circle cx="126.2" cy="42.9" r="2.45" fill="#4a6fe0" fill-opacity="0.93"/><circle cx="126.9" cy="46.0" r="2.45" fill="#f8604c" fill-opacity="0.93"/><circle cx="125.4" cy="49.1" r="2.45" fill="#f8604c" fill-opacity="0.93"/><circle cx="122.3" cy="51.4" r="2.45" fill="#4a6fe0" fill-opacity="0.93"/><circle cx="125.4" cy="52.2" r="2.45" fill="#4a6fe0" fill-opacity="0.93"/><circle cx="123.8" cy="49.8" r="2.45" fill="#f8604c" fill-opacity="0.93"/><circle cx="156.9" cy="46.8" r="2.45" fill="#f8604c" fill-opacity="0.93"/><circle cx="156.9" cy="48.3" r="2.45" fill="#4a6fe0" fill-opacity="0.93"/><circle cx="156.2" cy="50.6" r="2.45" fill="#f8604c" fill-opacity="0.93"/><circle cx="113.1" cy="53.7" r="2.45" fill="#f8604c" fill-opacity="0.93"/><circle cx="130.8" cy="53.7" r="2.45" fill="#4a6fe0" fill-opacity="0.93"/><circle cx="132.3" cy="56.0" r="2.45" fill="#4a6fe0" fill-opacity="0.93"/><circle cx="153.8" cy="52.2" r="2.45" fill="#4a6fe0" fill-opacity="0.93"/><circle cx="162.3" cy="51.4" r="2.45" fill="#4a6fe0" fill-opacity="0.93"/><circle cx="130.8" cy="62.2" r="2.45" fill="#4a6fe0" fill-opacity="0.93"/><circle cx="133.8" cy="62.9" r="2.45" fill="#4a6fe0" fill-opacity="0.93"/><circle cx="117.7" cy="60.6" r="2.45" fill="#f8604c" fill-opacity="0.93"/><circle cx="120.0" cy="61.4" r="2.45" fill="#f8604c" fill-opacity="0.93"/><circle cx="115.4" cy="62.9" r="2.45" fill="#f8604c" fill-opacity="0.93"/><circle cx="116.2" cy="62.2" r="2.45" fill="#4a6fe0" fill-opacity="0.93"/><circle cx="123.8" cy="62.9" r="2.45" fill="#f8604c" fill-opacity="0.93"/><circle cx="125.4" cy="65.2" r="2.45" fill="#f8604c" fill-opacity="0.93"/><circle cx="175.4" cy="49.8" r="2.45" fill="#f8604c" fill-opacity="0.93"/><circle cx="171.5" cy="52.9" r="2.45" fill="#f8604c" fill-opacity="0.93"/><circle cx="173.8" cy="54.5" r="2.45" fill="#f8604c" fill-opacity="0.93"/><circle cx="173.1" cy="57.5" r="2.45" fill="#f8604c" fill-opacity="0.93"/><circle cx="174.6" cy="60.6" r="2.45" fill="#f8604c" fill-opacity="0.93"/><circle cx="172.3" cy="62.2" r="2.45" fill="#f8604c" fill-opacity="0.93"/><circle cx="179.2" cy="52.2" r="2.45" fill="#4a6fe0" fill-opacity="0.93"/><circle cx="180.8" cy="53.7" r="2.45" fill="#4a6fe0" fill-opacity="0.93"/><circle cx="181.5" cy="59.1" r="2.45" fill="#4a6fe0" fill-opacity="0.93"/><circle cx="182.3" cy="61.4" r="2.45" fill="#4a6fe0" fill-opacity="0.93"/><circle cx="177.7" cy="56.8" r="2.45" fill="#f8604c" fill-opacity="0.93"/><circle cx="178.5" cy="62.2" r="2.45" fill="#f8604c" fill-opacity="0.93"/><circle cx="163.1" cy="52.9" r="2.45" fill="#f8604c" fill-opacity="0.93"/><circle cx="161.5" cy="53.7" r="2.45" fill="#f8604c" fill-opacity="0.93"/><circle cx="62.3" cy="67.5" r="2.45" fill="#f8604c" fill-opacity="0.93"/><circle cx="65.4" cy="68.3" r="2.45" fill="#f8604c" fill-opacity="0.93"/><circle cx="67.7" cy="69.8" r="2.45" fill="#f8604c" fill-opacity="0.93"/><circle cx="63.8" cy="72.9" r="2.45" fill="#f8604c" fill-opacity="0.93"/><circle cx="66.2" cy="72.2" r="2.45" fill="#f8604c" fill-opacity="0.93"/><circle cx="71.5" cy="70.6" r="2.45" fill="#f8604c" fill-opacity="0.93"/><circle cx="69.2" cy="66.8" r="2.45" fill="#f8604c" fill-opacity="0.93"/><circle cx="54.6" cy="71.4" r="2.45" fill="#4a6fe0" fill-opacity="0.93"/><circle cx="53.8" cy="72.9" r="2.45" fill="#4a6fe0" fill-opacity="0.93"/><circle cx="80.8" cy="67.5" r="2.45" fill="#f8604c" fill-opacity="0.93"/><circle cx="82.3" cy="70.6" r="2.45" fill="#f8604c" fill-opacity="0.93"/><circle cx="83.8" cy="72.2" r="2.45" fill="#f8604c" fill-opacity="0.93"/><circle cx="82.3" cy="72.9" r="2.45" fill="#4a6fe0" fill-opacity="0.93"/><circle cx="80.0" cy="69.8" r="2.45" fill="#f8604c" fill-opacity="0.93"/><circle cx="85.4" cy="66.8" r="2.45" fill="#f8604c" fill-opacity="0.93"/><circle cx="92.3" cy="70.6" r="2.45" fill="#f8604c" fill-opacity="0.93"/><circle cx="102.3" cy="67.5" r="2.45" fill="#f8604c" fill-opacity="0.93"/><circle cx="106.9" cy="67.5" r="2.45" fill="#f8604c" fill-opacity="0.93"/><circle cx="108.5" cy="70.6" r="2.45" fill="#4a6fe0" fill-opacity="0.93"/><circle cx="66.9" cy="81.4" r="2.45" fill="#4a6fe0" fill-opacity="0.93"/><circle cx="70.8" cy="80.6" r="2.45" fill="#4a6fe0" fill-opacity="0.93"/><circle cx="73.1" cy="82.9" r="2.45" fill="#4a6fe0" fill-opacity="0.93"/><circle cx="74.6" cy="85.2" r="2.45" fill="#4a6fe0" fill-opacity="0.93"/><circle cx="72.3" cy="84.5" r="2.45" fill="#4a6fe0" fill-opacity="0.93"/><circle cx="70.0" cy="79.8" r="2.45" fill="#d9706e" fill-opacity="0.93"/><circle cx="67.7" cy="88.3" r="2.45" fill="#4a6fe0" fill-opacity="0.93"/><circle cx="73.1" cy="88.3" r="2.45" fill="#d9706e" fill-opacity="0.93"/><circle cx="62.3" cy="89.1" r="2.45" fill="#f8604c" fill-opacity="0.93"/><circle cx="63.1" cy="92.2" r="2.45" fill="#f8604c" fill-opacity="0.93"/><circle cx="61.5" cy="94.5" r="2.45" fill="#f8604c" fill-opacity="0.93"/><circle cx="63.8" cy="94.5" r="2.45" fill="#f8604c" fill-opacity="0.93"/><circle cx="77.7" cy="89.8" r="2.45" fill="#f8604c" fill-opacity="0.93"/><circle cx="70.8" cy="96.0" r="2.45" fill="#d9706e" fill-opacity="0.93"/><circle cx="71.5" cy="99.1" r="2.45" fill="#f8604c" fill-opacity="0.93"/><circle cx="73.1" cy="98.3" r="2.45" fill="#f8604c" fill-opacity="0.93"/><circle cx="74.6" cy="101.4" r="2.45" fill="#f8604c" fill-opacity="0.93"/><circle cx="77.7" cy="102.2" r="2.45" fill="#f8604c" fill-opacity="0.93"/><circle cx="78.5" cy="100.6" r="2.45" fill="#4a6fe0" fill-opacity="0.93"/><circle cx="49.2" cy="89.1" r="2.45" fill="#f8604c" fill-opacity="0.93"/><circle cx="51.5" cy="89.8" r="2.45" fill="#f8604c" fill-opacity="0.93"/><circle cx="90.0" cy="79.1" r="2.45" fill="#4a6fe0" fill-opacity="0.93"/><circle cx="87.7" cy="82.9" r="2.45" fill="#f8604c" fill-opacity="0.93"/><circle cx="89.2" cy="85.2" r="2.45" fill="#f8604c" fill-opacity="0.93"/><circle cx="93.1" cy="80.6" r="2.45" fill="#f8604c" fill-opacity="0.93"/><circle cx="95.4" cy="81.4" r="2.45" fill="#f8604c" fill-opacity="0.93"/><circle cx="97.7" cy="82.9" r="2.45" fill="#f8604c" fill-opacity="0.93"/><circle cx="96.9" cy="84.5" r="2.45" fill="#f8604c" fill-opacity="0.93"/><circle cx="98.5" cy="86.0" r="2.45" fill="#f8604c" fill-opacity="0.93"/><circle cx="99.2" cy="88.3" r="2.45" fill="#f8604c" fill-opacity="0.93"/><circle cx="96.2" cy="78.3" r="2.45" fill="#f8604c" fill-opacity="0.93"/><circle cx="100.8" cy="76.8" r="2.45" fill="#f8604c" fill-opacity="0.93"/><circle cx="102.3" cy="78.3" r="2.45" fill="#f8604c" fill-opacity="0.93"/><circle cx="103.8" cy="79.8" r="2.45" fill="#f8604c" fill-opacity="0.93"/><circle cx="101.5" cy="81.4" r="2.45" fill="#f8604c" fill-opacity="0.93"/><circle cx="103.8" cy="80.6" r="2.45" fill="#4a6fe0" fill-opacity="0.93"/><circle cx="108.5" cy="90.6" r="2.45" fill="#f8604c" fill-opacity="0.93"/><circle cx="83.8" cy="95.2" r="2.45" fill="#f8604c" fill-opacity="0.93"/><circle cx="85.4" cy="94.5" r="2.45" fill="#f8604c" fill-opacity="0.93"/><circle cx="81.5" cy="96.8" r="2.45" fill="#f8604c" fill-opacity="0.93"/><circle cx="93.8" cy="95.2" r="2.45" fill="#f8604c" fill-opacity="0.93"/><circle cx="95.4" cy="96.0" r="2.45" fill="#f8604c" fill-opacity="0.93"/><circle cx="97.7" cy="97.5" r="2.45" fill="#f8604c" fill-opacity="0.93"/><circle cx="106.9" cy="99.1" r="2.45" fill="#4a6fe0" fill-opacity="0.93"/><circle cx="108.5" cy="98.3" r="2.45" fill="#4a6fe0" fill-opacity="0.93"/><circle cx="106.9" cy="95.2" r="2.45" fill="#f8604c" fill-opacity="0.93"/><circle cx="85.4" cy="102.9" r="2.45" fill="#f8604c" fill-opacity="0.93"/><circle cx="77.7" cy="103.7" r="2.45" fill="#f8604c" fill-opacity="0.93"/><circle cx="80.0" cy="105.2" r="2.45" fill="#f8604c" fill-opacity="0.93"/><circle cx="81.5" cy="106.0" r="2.45" fill="#f8604c" fill-opacity="0.93"/><circle cx="74.6" cy="105.2" r="2.45" fill="#f8604c" fill-opacity="0.93"/><circle cx="70.0" cy="108.3" r="2.45" fill="#f8604c" fill-opacity="0.93"/><circle cx="72.3" cy="109.1" r="2.45" fill="#f8604c" fill-opacity="0.93"/><circle cx="74.6" cy="109.8" r="2.45" fill="#f8604c" fill-opacity="0.93"/><circle cx="70.8" cy="112.2" r="2.45" fill="#f8604c" fill-opacity="0.93"/><circle cx="73.1" cy="112.2" r="2.45" fill="#f8604c" fill-opacity="0.93"/><circle cx="76.2" cy="110.6" r="2.45" fill="#f8604c" fill-opacity="0.93"/><circle cx="77.7" cy="112.2" r="2.45" fill="#f8604c" fill-opacity="0.93"/><circle cx="69.2" cy="114.5" r="2.45" fill="#f8604c" fill-opacity="0.93"/><circle cx="71.5" cy="115.2" r="2.45" fill="#f8604c" fill-opacity="0.93"/><circle cx="93.1" cy="104.5" r="2.45" fill="#f8604c" fill-opacity="0.93"/><circle cx="93.8" cy="106.8" r="2.45" fill="#f8604c" fill-opacity="0.93"/><circle cx="90.8" cy="107.5" r="2.45" fill="#f8604c" fill-opacity="0.93"/><circle cx="90.0" cy="109.1" r="2.45" fill="#4a6fe0" fill-opacity="0.93"/><circle cx="86.9" cy="109.8" r="2.45" fill="#f8604c" fill-opacity="0.93"/><circle cx="88.5" cy="112.2" r="2.45" fill="#f8604c" fill-opacity="0.93"/><circle cx="86.2" cy="112.2" r="2.45" fill="#f8604c" fill-opacity="0.93"/><circle cx="87.7" cy="114.5" r="2.45" fill="#f8604c" fill-opacity="0.93"/><circle cx="90.0" cy="113.7" r="2.45" fill="#f8604c" fill-opacity="0.93"/><circle cx="92.3" cy="115.2" r="2.45" fill="#f8604c" fill-opacity="0.93"/><circle cx="102.3" cy="104.5" r="2.45" fill="#f8604c" fill-opacity="0.93"/><circle cx="103.1" cy="106.8" r="2.45" fill="#f8604c" fill-opacity="0.93"/><circle cx="101.5" cy="109.1" r="2.45" fill="#f8604c" fill-opacity="0.93"/><circle cx="104.6" cy="108.3" r="2.45" fill="#4a6fe0" fill-opacity="0.93"/><circle cx="106.9" cy="107.5" r="2.45" fill="#4a6fe0" fill-opacity="0.93"/><circle cx="109.2" cy="106.8" r="2.45" fill="#f8604c" fill-opacity="0.93"/><circle cx="108.5" cy="110.6" r="2.45" fill="#f8604c" fill-opacity="0.93"/><circle cx="97.7" cy="113.7" r="2.45" fill="#f8604c" fill-opacity="0.93"/><circle cx="100.8" cy="112.2" r="2.45" fill="#f8604c" fill-opacity="0.93"/><circle cx="102.3" cy="113.7" r="2.45" fill="#4a6fe0" fill-opacity="0.93"/><circle cx="47.7" cy="106.0" r="2.45" fill="#f8604c" fill-opacity="0.93"/><circle cx="50.0" cy="108.3" r="2.45" fill="#f8604c" fill-opacity="0.93"/><circle cx="48.5" cy="110.6" r="2.45" fill="#f8604c" fill-opacity="0.93"/><circle cx="46.9" cy="111.4" r="2.45" fill="#f8604c" fill-opacity="0.93"/><circle cx="46.2" cy="107.5" r="2.45" fill="#4a6fe0" fill-opacity="0.93"/><circle cx="51.5" cy="106.8" r="2.45" fill="#4a6fe0" fill-opacity="0.93"/><circle cx="52.3" cy="109.8" r="2.45" fill="#4a6fe0" fill-opacity="0.93"/><circle cx="50.8" cy="112.2" r="2.45" fill="#f8604c" fill-opacity="0.93"/><circle cx="60.0" cy="109.1" r="2.45" fill="#f8604c" fill-opacity="0.93"/><circle cx="60.0" cy="111.4" r="2.45" fill="#f8604c" fill-opacity="0.93"/><circle cx="33.8" cy="109.8" r="2.45" fill="#f8604c" fill-opacity="0.93"/><circle cx="21.5" cy="115.2" r="2.45" fill="#f8604c" fill-opacity="0.93"/><circle cx="25.4" cy="112.9" r="2.45" fill="#4a6fe0" fill-opacity="0.93"/><circle cx="26.9" cy="114.5" r="2.45" fill="#4a6fe0" fill-opacity="0.93"/><circle cx="31.5" cy="115.2" r="2.45" fill="#f8604c" fill-opacity="0.93"/><circle cx="111.5" cy="69.1" r="2.45" fill="#f8604c" fill-opacity="0.93"/><circle cx="113.1" cy="70.6" r="2.45" fill="#f8604c" fill-opacity="0.93"/><circle cx="112.3" cy="72.9" r="2.45" fill="#f8604c" fill-opacity="0.93"/><circle cx="114.6" cy="69.1" r="2.45" fill="#4a6fe0" fill-opacity="0.93"/><circle cx="120.8" cy="67.5" r="2.45" fill="#f8604c" fill-opacity="0.93"/><circle cx="123.1" cy="66.8" r="2.45" fill="#f8604c" fill-opacity="0.93"/><circle cx="121.5" cy="69.8" r="2.45" fill="#f8604c" fill-opacity="0.93"/><circle cx="124.6" cy="68.3" r="2.45" fill="#f8604c" fill-opacity="0.93"/><circle cx="125.4" cy="69.8" r="2.45" fill="#4a6fe0" fill-opacity="0.93"/><circle cx="126.9" cy="72.2" r="2.45" fill="#4a6fe0" fill-opacity="0.93"/><circle cx="128.5" cy="70.6" r="2.45" fill="#4a6fe0" fill-opacity="0.93"/><circle cx="124.6" cy="72.9" r="2.45" fill="#4a6fe0" fill-opacity="0.93"/><circle cx="121.5" cy="76.8" r="2.45" fill="#f8604c" fill-opacity="0.93"/><circle cx="123.1" cy="79.8" r="2.45" fill="#f8604c" fill-opacity="0.93"/><circle cx="120.8" cy="80.6" r="2.45" fill="#f8604c" fill-opacity="0.93"/><circle cx="125.4" cy="80.6" r="2.45" fill="#f8604c" fill-opacity="0.93"/><circle cx="123.8" cy="75.2" r="2.45" fill="#f8604c" fill-opacity="0.93"/><circle cx="117.7" cy="82.9" r="2.45" fill="#f8604c" fill-opacity="0.93"/><circle cx="116.2" cy="84.5" r="2.45" fill="#f8604c" fill-opacity="0.93"/><circle cx="130.0" cy="73.7" r="2.45" fill="#d9706e" fill-opacity="0.93"/><circle cx="133.1" cy="72.9" r="2.45" fill="#f8604c" fill-opacity="0.93"/><circle cx="133.8" cy="76.8" r="2.45" fill="#f8604c" fill-opacity="0.93"/><circle cx="136.9" cy="76.0" r="2.45" fill="#d9706e" fill-opacity="0.93"/><circle cx="137.7" cy="78.3" r="2.45" fill="#f8604c" fill-opacity="0.93"/><circle cx="135.4" cy="71.4" r="2.45" fill="#4a6fe0" fill-opacity="0.93"/><circle cx="138.5" cy="72.9" r="2.45" fill="#4a6fe0" fill-opacity="0.93"/><circle cx="140.8" cy="73.7" r="2.45" fill="#4a6fe0" fill-opacity="0.93"/><circle cx="139.2" cy="76.8" r="2.45" fill="#d9706e" fill-opacity="0.93"/><circle cx="142.3" cy="80.6" r="2.45" fill="#f8604c" fill-opacity="0.93"/><circle cx="143.1" cy="81.4" r="2.45" fill="#4a6fe0" fill-opacity="0.93"/><circle cx="141.5" cy="79.1" r="2.45" fill="#4a6fe0" fill-opacity="0.93"/><circle cx="132.3" cy="81.4" r="2.45" fill="#f8604c" fill-opacity="0.93"/><circle cx="133.1" cy="84.5" r="2.45" fill="#f8604c" fill-opacity="0.93"/><circle cx="136.9" cy="83.7" r="2.45" fill="#f8604c" fill-opacity="0.93"/><circle cx="113.1" cy="86.0" r="2.45" fill="#f8604c" fill-opacity="0.93"/><circle cx="112.3" cy="89.1" r="2.45" fill="#f8604c" fill-opacity="0.93"/><circle cx="113.8" cy="91.4" r="2.45" fill="#f8604c" fill-opacity="0.93"/><circle cx="115.4" cy="94.5" r="2.45" fill="#f8604c" fill-opacity="0.93"/><circle cx="110.8" cy="92.2" r="2.45" fill="#f8604c" fill-opacity="0.93"/><circle cx="124.6" cy="93.7" r="2.45" fill="#f8604c" fill-opacity="0.93"/><circle cx="125.4" cy="95.2" r="2.45" fill="#f8604c" fill-opacity="0.93"/><circle cx="123.8" cy="96.0" r="2.45" fill="#4a6fe0" fill-opacity="0.93"/><circle cx="133.1" cy="90.6" r="2.45" fill="#f8604c" fill-opacity="0.93"/><circle cx="134.6" cy="92.2" r="2.45" fill="#f8604c" fill-opacity="0.93"/><circle cx="133.8" cy="94.5" r="2.45" fill="#4a6fe0" fill-opacity="0.93"/><circle cx="135.4" cy="95.2" r="2.45" fill="#4a6fe0" fill-opacity="0.93"/><circle cx="132.3" cy="92.9" r="2.45" fill="#f8604c" fill-opacity="0.93"/><circle cx="145.4" cy="84.5" r="2.45" fill="#4a6fe0" fill-opacity="0.93"/><circle cx="146.9" cy="86.0" r="2.45" fill="#4a6fe0" fill-opacity="0.93"/><circle cx="148.5" cy="87.5" r="2.45" fill="#4a6fe0" fill-opacity="0.93"/><circle cx="150.0" cy="86.8" r="2.45" fill="#4a6fe0" fill-opacity="0.93"/><circle cx="147.7" cy="89.1" r="2.45" fill="#4a6fe0" fill-opacity="0.93"/><circle cx="145.4" cy="88.3" r="2.45" fill="#4a6fe0" fill-opacity="0.93"/><circle cx="151.5" cy="89.1" r="2.45" fill="#4a6fe0" fill-opacity="0.93"/><circle cx="149.2" cy="85.2" r="2.45" fill="#4a6fe0" fill-opacity="0.93"/><circle cx="140.8" cy="89.1" r="2.45" fill="#4a6fe0" fill-opacity="0.93"/><circle cx="156.2" cy="89.1" r="2.45" fill="#d9706e" fill-opacity="0.93"/><circle cx="157.7" cy="90.6" r="2.45" fill="#d9706e" fill-opacity="0.93"/><circle cx="154.6" cy="89.8" r="2.45" fill="#f8604c" fill-opacity="0.93"/><circle cx="150.8" cy="92.9" r="2.45" fill="#f8604c" fill-opacity="0.93"/><circle cx="153.1" cy="94.5" r="2.45" fill="#f8604c" fill-opacity="0.93"/><circle cx="151.5" cy="96.0" r="2.45" fill="#f8604c" fill-opacity="0.93"/><circle cx="155.4" cy="97.5" r="2.45" fill="#f8604c" fill-opacity="0.93"/><circle cx="157.7" cy="95.2" r="2.45" fill="#d9706e" fill-opacity="0.93"/><circle cx="159.2" cy="94.5" r="2.45" fill="#f8604c" fill-opacity="0.93"/><circle cx="161.5" cy="92.2" r="2.45" fill="#f8604c" fill-opacity="0.93"/><circle cx="163.8" cy="93.7" r="2.45" fill="#d9706e" fill-opacity="0.93"/><circle cx="163.1" cy="96.8" r="2.45" fill="#f8604c" fill-opacity="0.93"/><circle cx="160.8" cy="98.3" r="2.45" fill="#f8604c" fill-opacity="0.93"/><circle cx="165.4" cy="89.1" r="2.45" fill="#d9706e" fill-opacity="0.93"/><circle cx="167.7" cy="89.8" r="2.45" fill="#4a6fe0" fill-opacity="0.93"/><circle cx="170.8" cy="87.5" r="2.45" fill="#4a6fe0" fill-opacity="0.93"/><circle cx="171.5" cy="85.2" r="2.45" fill="#f8604c" fill-opacity="0.93"/><circle cx="170.8" cy="83.7" r="2.45" fill="#d9706e" fill-opacity="0.93"/><circle cx="171.5" cy="90.6" r="2.45" fill="#4a6fe0" fill-opacity="0.93"/><circle cx="176.2" cy="87.5" r="2.45" fill="#4a6fe0" fill-opacity="0.93"/><circle cx="177.7" cy="89.8" r="2.45" fill="#4a6fe0" fill-opacity="0.93"/><circle cx="176.9" cy="92.2" r="2.45" fill="#4a6fe0" fill-opacity="0.93"/><circle cx="174.6" cy="93.7" r="2.45" fill="#4a6fe0" fill-opacity="0.93"/><circle cx="176.2" cy="77.5" r="2.45" fill="#4a6fe0" fill-opacity="0.93"/><circle cx="178.5" cy="78.3" r="2.45" fill="#4a6fe0" fill-opacity="0.93"/><circle cx="180.8" cy="76.8" r="2.45" fill="#4a6fe0" fill-opacity="0.93"/><circle cx="183.1" cy="77.5" r="2.45" fill="#4a6fe0" fill-opacity="0.93"/><circle cx="185.4" cy="77.5" r="2.45" fill="#4a6fe0" fill-opacity="0.93"/><circle cx="181.5" cy="78.3" r="2.45" fill="#f8604c" fill-opacity="0.93"/><circle cx="180.8" cy="83.7" r="2.45" fill="#d9706e" fill-opacity="0.93"/><circle cx="186.9" cy="85.2" r="2.45" fill="#d9706e" fill-opacity="0.93"/><circle cx="178.5" cy="70.6" r="2.45" fill="#4a6fe0" fill-opacity="0.93"/><circle cx="180.8" cy="71.4" r="2.45" fill="#4a6fe0" fill-opacity="0.93"/><circle cx="175.4" cy="69.8" r="2.45" fill="#f8604c" fill-opacity="0.93"/><circle cx="173.1" cy="70.6" r="2.45" fill="#f8604c" fill-opacity="0.93"/><circle cx="166.9" cy="76.0" r="2.45" fill="#4a6fe0" fill-opacity="0.93"/><circle cx="167.7" cy="73.7" r="2.45" fill="#f8604c" fill-opacity="0.93"/><circle cx="170.8" cy="79.8" r="2.45" fill="#f8604c" fill-opacity="0.93"/><circle cx="169.2" cy="80.6" r="2.45" fill="#d9706e" fill-opacity="0.93"/><circle cx="200.0" cy="72.9" r="2.45" fill="#4a6fe0" fill-opacity="0.93"/><circle cx="201.5" cy="73.7" r="2.45" fill="#4a6fe0" fill-opacity="0.93"/><circle cx="202.3" cy="75.2" r="2.45" fill="#4a6fe0" fill-opacity="0.93"/><circle cx="196.9" cy="72.2" r="2.45" fill="#d9706e" fill-opacity="0.93"/><circle cx="196.2" cy="77.5" r="2.45" fill="#f8604c" fill-opacity="0.93"/><circle cx="197.7" cy="80.6" r="2.45" fill="#f8604c" fill-opacity="0.93"/><circle cx="199.2" cy="82.2" r="2.45" fill="#f8604c" fill-opacity="0.93"/><circle cx="198.5" cy="86.0" r="2.45" fill="#f8604c" fill-opacity="0.93"/><circle cx="200.8" cy="83.7" r="2.45" fill="#f8604c" fill-opacity="0.93"/><circle cx="202.3" cy="80.6" r="2.45" fill="#4a6fe0" fill-opacity="0.93"/><circle cx="205.4" cy="80.6" r="2.45" fill="#4a6fe0" fill-opacity="0.93"/><circle cx="183.1" cy="92.9" r="2.45" fill="#f8604c" fill-opacity="0.93"/><circle cx="183.8" cy="94.5" r="2.45" fill="#f8604c" fill-opacity="0.93"/><circle cx="182.3" cy="95.2" r="2.45" fill="#4a6fe0" fill-opacity="0.93"/><circle cx="191.5" cy="94.5" r="2.45" fill="#f8604c" fill-opacity="0.93"/><circle cx="193.1" cy="96.0" r="2.45" fill="#f8604c" fill-opacity="0.93"/><circle cx="193.8" cy="97.5" r="2.45" fill="#f8604c" fill-opacity="0.93"/><circle cx="194.6" cy="99.1" r="2.45" fill="#f8604c" fill-opacity="0.93"/><circle cx="193.8" cy="101.4" r="2.45" fill="#4a6fe0" fill-opacity="0.93"/><circle cx="191.5" cy="100.6" r="2.45" fill="#4a6fe0" fill-opacity="0.93"/><circle cx="142.3" cy="95.2" r="2.45" fill="#f8604c" fill-opacity="0.93"/><circle cx="143.1" cy="97.5" r="2.45" fill="#f8604c" fill-opacity="0.93"/><circle cx="144.6" cy="99.1" r="2.45" fill="#f8604c" fill-opacity="0.93"/><circle cx="143.8" cy="100.6" r="2.45" fill="#4a6fe0" fill-opacity="0.93"/><circle cx="146.2" cy="102.2" r="2.45" fill="#f8604c" fill-opacity="0.93"/><circle cx="146.9" cy="103.7" r="2.45" fill="#4a6fe0" fill-opacity="0.93"/><circle cx="128.5" cy="102.9" r="2.45" fill="#f8604c" fill-opacity="0.93"/><circle cx="130.0" cy="104.5" r="2.45" fill="#f8604c" fill-opacity="0.93"/><circle cx="126.9" cy="103.7" r="2.45" fill="#4a6fe0" fill-opacity="0.93"/><circle cx="137.7" cy="103.7" r="2.45" fill="#f8604c" fill-opacity="0.93"/><circle cx="163.1" cy="100.6" r="2.45" fill="#4a6fe0" fill-opacity="0.93"/><circle cx="165.4" cy="99.8" r="2.45" fill="#d9706e" fill-opacity="0.93"/><circle cx="167.7" cy="100.6" r="2.45" fill="#f8604c" fill-opacity="0.93"/><circle cx="170.0" cy="101.4" r="2.45" fill="#4a6fe0" fill-opacity="0.93"/><circle cx="164.6" cy="102.9" r="2.45" fill="#4a6fe0" fill-opacity="0.93"/><circle cx="166.9" cy="103.7" r="2.45" fill="#4a6fe0" fill-opacity="0.93"/><circle cx="169.2" cy="104.5" r="2.45" fill="#d9706e" fill-opacity="0.93"/><circle cx="163.8" cy="105.2" r="2.45" fill="#4a6fe0" fill-opacity="0.93"/><circle cx="166.2" cy="106.8" r="2.45" fill="#d9706e" fill-opacity="0.93"/><circle cx="168.5" cy="107.5" r="2.45" fill="#4a6fe0" fill-opacity="0.93"/><circle cx="170.8" cy="106.8" r="2.45" fill="#4a6fe0" fill-opacity="0.93"/><circle cx="165.4" cy="109.1" r="2.45" fill="#4a6fe0" fill-opacity="0.93"/><circle cx="161.5" cy="109.1" r="2.45" fill="#f8604c" fill-opacity="0.93"/><circle cx="160.8" cy="111.4" r="2.45" fill="#f8604c" fill-opacity="0.93"/><circle cx="171.5" cy="103.7" r="2.45" fill="#4a6fe0" fill-opacity="0.93"/><circle cx="173.1" cy="102.9" r="2.45" fill="#4a6fe0" fill-opacity="0.93"/><circle cx="160.0" cy="101.4" r="2.45" fill="#d9706e" fill-opacity="0.93"/><circle cx="171.5" cy="98.3" r="2.45" fill="#f8604c" fill-opacity="0.93"/><circle cx="174.6" cy="97.5" r="2.45" fill="#d9706e" fill-opacity="0.93"/><circle cx="179.2" cy="99.8" r="2.45" fill="#d9706e" fill-opacity="0.93"/><circle cx="179.2" cy="103.7" r="2.45" fill="#4a6fe0" fill-opacity="0.93"/><circle cx="184.6" cy="99.8" r="2.45" fill="#d9706e" fill-opacity="0.93"/><circle cx="183.8" cy="102.9" r="2.45" fill="#d9706e" fill-opacity="0.93"/><circle cx="180.8" cy="104.5" r="2.45" fill="#f8604c" fill-opacity="0.93"/><circle cx="182.3" cy="106.8" r="2.45" fill="#4a6fe0" fill-opacity="0.93"/><circle cx="178.5" cy="106.8" r="2.45" fill="#f8604c" fill-opacity="0.93"/><circle cx="179.2" cy="110.6" r="2.45" fill="#f8604c" fill-opacity="0.93"/><circle cx="173.1" cy="112.2" r="2.45" fill="#f8604c" fill-opacity="0.93"/><circle cx="175.4" cy="110.6" r="2.45" fill="#4a6fe0" fill-opacity="0.93"/><circle cx="170.8" cy="112.2" r="2.45" fill="#4a6fe0" fill-opacity="0.93"/><circle cx="152.3" cy="102.9" r="2.45" fill="#f8604c" fill-opacity="0.93"/><circle cx="154.6" cy="103.7" r="2.45" fill="#f8604c" fill-opacity="0.93"/><circle cx="153.1" cy="106.0" r="2.45" fill="#f8604c" fill-opacity="0.93"/><circle cx="156.2" cy="105.2" r="2.45" fill="#d9706e" fill-opacity="0.93"/><circle cx="156.2" cy="108.3" r="2.45" fill="#f8604c" fill-opacity="0.93"/><circle cx="151.5" cy="108.3" r="2.45" fill="#d9706e" fill-opacity="0.93"/><circle cx="150.8" cy="112.2" r="2.45" fill="#f8604c" fill-opacity="0.93"/><circle cx="153.8" cy="113.7" r="2.45" fill="#f8604c" fill-opacity="0.93"/><circle cx="149.2" cy="105.2" r="2.45" fill="#4a6fe0" fill-opacity="0.93"/><circle cx="144.6" cy="109.1" r="2.45" fill="#f8604c" fill-opacity="0.93"/><circle cx="146.2" cy="110.6" r="2.45" fill="#f8604c" fill-opacity="0.93"/><circle cx="146.9" cy="112.2" r="2.45" fill="#f8604c" fill-opacity="0.93"/><circle cx="143.8" cy="112.2" r="2.45" fill="#f8604c" fill-opacity="0.93"/><circle cx="148.5" cy="110.6" r="2.45" fill="#d9706e" fill-opacity="0.93"/><circle cx="135.4" cy="99.1" r="2.45" fill="#4a6fe0" fill-opacity="0.93"/><circle cx="136.9" cy="100.6" r="2.45" fill="#f8604c" fill-opacity="0.93"/><circle cx="137.7" cy="102.2" r="2.45" fill="#4a6fe0" fill-opacity="0.93"/><circle cx="119.2" cy="99.8" r="2.45" fill="#f8604c" fill-opacity="0.93"/><circle cx="121.5" cy="101.4" r="2.45" fill="#f8604c" fill-opacity="0.93"/><circle cx="116.2" cy="103.7" r="2.45" fill="#f8604c" fill-opacity="0.93"/><circle cx="118.5" cy="104.5" r="2.45" fill="#f8604c" fill-opacity="0.93"/><circle cx="113.8" cy="102.9" r="2.45" fill="#f8604c" fill-opacity="0.93"/><circle cx="112.3" cy="105.2" r="2.45" fill="#d9706e" fill-opacity="0.93"/><circle cx="110.8" cy="106.0" r="2.45" fill="#d9706e" fill-opacity="0.93"/><circle cx="111.5" cy="109.1" r="2.45" fill="#f8604c" fill-opacity="0.93"/><circle cx="114.6" cy="108.3" r="2.45" fill="#f8604c" fill-opacity="0.93"/><circle cx="116.9" cy="108.3" r="2.45" fill="#f8604c" fill-opacity="0.93"/><circle cx="120.0" cy="107.5" r="2.45" fill="#f8604c" fill-opacity="0.93"/><circle cx="119.2" cy="110.6" r="2.45" fill="#f8604c" fill-opacity="0.93"/><circle cx="120.8" cy="112.2" r="2.45" fill="#f8604c" fill-opacity="0.93"/><circle cx="126.9" cy="110.6" r="2.45" fill="#f8604c" fill-opacity="0.93"/><circle cx="127.7" cy="112.9" r="2.45" fill="#f8604c" fill-opacity="0.93"/><circle cx="129.2" cy="114.5" r="2.45" fill="#f8604c" fill-opacity="0.93"/><circle cx="131.5" cy="112.2" r="2.45" fill="#f8604c" fill-opacity="0.93"/><circle cx="134.6" cy="112.2" r="2.45" fill="#f8604c" fill-opacity="0.93"/><circle cx="133.1" cy="113.7" r="2.45" fill="#f8604c" fill-opacity="0.93"/><circle cx="136.2" cy="114.5" r="2.45" fill="#f8604c" fill-opacity="0.93"/><circle cx="189.2" cy="106.8" r="2.45" fill="#f8604c" fill-opacity="0.93"/><circle cx="188.5" cy="108.3" r="2.45" fill="#f8604c" fill-opacity="0.93"/><circle cx="190.0" cy="110.6" r="2.45" fill="#4a6fe0" fill-opacity="0.93"/><circle cx="190.8" cy="112.9" r="2.45" fill="#d9706e" fill-opacity="0.93"/><circle cx="193.8" cy="112.9" r="2.45" fill="#f8604c" fill-opacity="0.93"/><circle cx="197.7" cy="106.8" r="2.45" fill="#d9706e" fill-opacity="0.93"/><circle cx="195.4" cy="115.2" r="2.45" fill="#f8604c" fill-opacity="0.93"/><circle cx="202.3" cy="103.7" r="2.45" fill="#f8604c" fill-opacity="0.93"/><circle cx="204.6" cy="104.5" r="2.45" fill="#f8604c" fill-opacity="0.93"/><circle cx="206.9" cy="105.2" r="2.45" fill="#f8604c" fill-opacity="0.93"/><circle cx="206.9" cy="108.3" r="2.45" fill="#4a6fe0" fill-opacity="0.93"/><circle cx="208.5" cy="109.8" r="2.45" fill="#4a6fe0" fill-opacity="0.93"/><circle cx="205.4" cy="107.5" r="2.45" fill="#f8604c" fill-opacity="0.93"/><circle cx="208.5" cy="104.5" r="2.45" fill="#f8604c" fill-opacity="0.93"/><circle cx="183.8" cy="112.9" r="2.45" fill="#4a6fe0" fill-opacity="0.93"/><circle cx="185.4" cy="114.5" r="2.45" fill="#f8604c" fill-opacity="0.93"/><circle cx="163.1" cy="114.5" r="2.45" fill="#d9706e" fill-opacity="0.93"/><circle cx="165.4" cy="112.9" r="2.45" fill="#4a6fe0" fill-opacity="0.93"/><circle cx="166.9" cy="115.2" r="2.45" fill="#f8604c" fill-opacity="0.93"/><circle cx="156.9" cy="115.2" r="2.45" fill="#f8604c" fill-opacity="0.93"/><circle cx="158.5" cy="112.2" r="2.45" fill="#d9706e" fill-opacity="0.93"/><circle cx="215.4" cy="85.2" r="2.45" fill="#4a6fe0" fill-opacity="0.93"/><circle cx="217.7" cy="86.8" r="2.45" fill="#4a6fe0" fill-opacity="0.93"/><circle cx="216.9" cy="88.3" r="2.45" fill="#4a6fe0" fill-opacity="0.93"/><circle cx="214.6" cy="86.8" r="2.45" fill="#4a6fe0" fill-opacity="0.93"/><circle cx="216.2" cy="84.2" r="2.45" fill="#4a6fe0" fill-opacity="0.93"/><circle cx="221.5" cy="85.5" r="2.45" fill="#f8604c" fill-opacity="0.93"/><circle cx="233.8" cy="93.7" r="2.45" fill="#f8604c" fill-opacity="0.93"/><circle cx="236.2" cy="97.5" r="2.45" fill="#f8604c" fill-opacity="0.93"/><circle cx="236.9" cy="94.5" r="2.45" fill="#4a6fe0" fill-opacity="0.93"/><circle cx="210.8" cy="106.3" r="2.45" fill="#f8604c" fill-opacity="0.93"/><circle cx="236.2" cy="107.5" r="2.45" fill="#d9706e" fill-opacity="0.93"/><circle cx="233.1" cy="111.4" r="2.45" fill="#f8604c" fill-opacity="0.93"/><circle cx="238.5" cy="112.9" r="2.45" fill="#4a6fe0" fill-opacity="0.93"/><circle cx="240.8" cy="114.5" r="2.45" fill="#4a6fe0" fill-opacity="0.93"/><circle cx="236.9" cy="115.2" r="2.45" fill="#4a6fe0" fill-opacity="0.93"/><circle cx="21.5" cy="117.5" r="2.45" fill="#f8604c" fill-opacity="0.93"/><circle cx="25.4" cy="118.3" r="2.45" fill="#f8604c" fill-opacity="0.93"/><circle cx="27.7" cy="116.8" r="2.45" fill="#f8604c" fill-opacity="0.93"/><circle cx="28.5" cy="119.1" r="2.45" fill="#f8604c" fill-opacity="0.93"/><circle cx="30.0" cy="121.4" r="2.45" fill="#f8604c" fill-opacity="0.93"/><circle cx="26.2" cy="122.9" r="2.45" fill="#f8604c" fill-opacity="0.93"/><circle cx="23.8" cy="119.8" r="2.45" fill="#4a6fe0" fill-opacity="0.93"/><circle cx="31.5" cy="122.2" r="2.45" fill="#4a6fe0" fill-opacity="0.93"/><circle cx="30.8" cy="117.5" r="2.45" fill="#f8604c" fill-opacity="0.93"/><circle cx="37.7" cy="123.7" r="2.45" fill="#d9706e" fill-opacity="0.93"/><circle cx="46.2" cy="126.8" r="2.45" fill="#f8604c" fill-opacity="0.93"/><circle cx="47.7" cy="126.0" r="2.45" fill="#d9706e" fill-opacity="0.93"/><circle cx="46.9" cy="130.6" r="2.45" fill="#4a6fe0" fill-opacity="0.93"/><circle cx="49.2" cy="129.8" r="2.45" fill="#f8604c" fill-opacity="0.93"/><circle cx="50.8" cy="128.3" r="2.45" fill="#f8604c" fill-opacity="0.93"/><circle cx="52.3" cy="127.5" r="2.45" fill="#f8604c" fill-opacity="0.93"/><circle cx="54.6" cy="126.8" r="2.45" fill="#f8604c" fill-opacity="0.93"/><circle cx="56.2" cy="123.7" r="2.45" fill="#f8604c" fill-opacity="0.93"/><circle cx="55.4" cy="129.8" r="2.45" fill="#f8604c" fill-opacity="0.93"/><circle cx="53.1" cy="131.4" r="2.45" fill="#f8604c" fill-opacity="0.93"/><circle cx="50.0" cy="132.9" r="2.45" fill="#f8604c" fill-opacity="0.93"/><circle cx="48.5" cy="134.5" r="2.45" fill="#f8604c" fill-opacity="0.93"/><circle cx="46.9" cy="132.2" r="2.45" fill="#f8604c" fill-opacity="0.93"/><circle cx="42.3" cy="132.9" r="2.45" fill="#f8604c" fill-opacity="0.93"/><circle cx="41.5" cy="136.0" r="2.45" fill="#f8604c" fill-opacity="0.93"/><circle cx="43.8" cy="137.5" r="2.45" fill="#f8604c" fill-opacity="0.93"/><circle cx="45.4" cy="138.3" r="2.45" fill="#f8604c" fill-opacity="0.93"/><circle cx="40.8" cy="136.0" r="2.45" fill="#4a6fe0" fill-opacity="0.93"/><circle cx="52.3" cy="139.1" r="2.45" fill="#f8604c" fill-opacity="0.93"/><circle cx="50.8" cy="141.4" r="2.45" fill="#f8604c" fill-opacity="0.93"/><circle cx="49.2" cy="144.5" r="2.45" fill="#f8604c" fill-opacity="0.93"/><circle cx="48.5" cy="146.0" r="2.45" fill="#f8604c" fill-opacity="0.93"/><circle cx="60.8" cy="127.5" r="2.45" fill="#4a6fe0" fill-opacity="0.93"/><circle cx="61.5" cy="132.2" r="2.45" fill="#4a6fe0" fill-opacity="0.93"/><circle cx="59.2" cy="132.9" r="2.45" fill="#4a6fe0" fill-opacity="0.93"/><circle cx="62.3" cy="139.1" r="2.45" fill="#4a6fe0" fill-opacity="0.93"/><circle cx="60.8" cy="139.8" r="2.45" fill="#4a6fe0" fill-opacity="0.93"/><circle cx="63.1" cy="138.3" r="2.45" fill="#4a6fe0" fill-opacity="0.93"/><circle cx="64.6" cy="132.9" r="2.45" fill="#f8604c" fill-opacity="0.93"/><circle cx="66.2" cy="130.6" r="2.45" fill="#f8604c" fill-opacity="0.93"/><circle cx="67.7" cy="132.2" r="2.45" fill="#f8604c" fill-opacity="0.93"/><circle cx="66.9" cy="135.2" r="2.45" fill="#f8604c" fill-opacity="0.93"/><circle cx="69.2" cy="133.7" r="2.45" fill="#f8604c" fill-opacity="0.93"/><circle cx="70.8" cy="132.2" r="2.45" fill="#f8604c" fill-opacity="0.93"/><circle cx="72.3" cy="131.4" r="2.45" fill="#f8604c" fill-opacity="0.93"/><circle cx="73.1" cy="134.5" r="2.45" fill="#f8604c" fill-opacity="0.93"/><circle cx="70.0" cy="136.8" r="2.45" fill="#f8604c" fill-opacity="0.93"/><circle cx="68.5" cy="139.1" r="2.45" fill="#f8604c" fill-opacity="0.93"/><circle cx="77.7" cy="132.2" r="2.45" fill="#d9706e" fill-opacity="0.93"/><circle cx="75.4" cy="136.0" r="2.45" fill="#4a6fe0" fill-opacity="0.93"/><circle cx="65.4" cy="119.8" r="2.45" fill="#4a6fe0" fill-opacity="0.93"/><circle cx="67.7" cy="122.2" r="2.45" fill="#f8604c" fill-opacity="0.93"/><circle cx="69.2" cy="122.9" r="2.45" fill="#f8604c" fill-opacity="0.93"/><circle cx="70.8" cy="121.4" r="2.45" fill="#f8604c" fill-opacity="0.93"/><circle cx="72.3" cy="122.9" r="2.45" fill="#f8604c" fill-opacity="0.93"/><circle cx="74.6" cy="123.7" r="2.45" fill="#f8604c" fill-opacity="0.93"/><circle cx="75.4" cy="124.5" r="2.45" fill="#f8604c" fill-opacity="0.93"/><circle cx="73.1" cy="125.2" r="2.45" fill="#d9706e" fill-opacity="0.93"/><circle cx="79.2" cy="127.5" r="2.45" fill="#4a6fe0" fill-opacity="0.93"/><circle cx="82.3" cy="121.4" r="2.45" fill="#f8604c" fill-opacity="0.93"/><circle cx="83.8" cy="122.2" r="2.45" fill="#f8604c" fill-opacity="0.93"/><circle cx="86.2" cy="125.2" r="2.45" fill="#f8604c" fill-opacity="0.93"/><circle cx="90.0" cy="119.1" r="2.45" fill="#d9706e" fill-opacity="0.93"/><circle cx="89.2" cy="121.4" r="2.45" fill="#f8604c" fill-opacity="0.93"/><circle cx="91.5" cy="122.2" r="2.45" fill="#f8604c" fill-opacity="0.93"/><circle cx="93.8" cy="120.6" r="2.45" fill="#f8604c" fill-opacity="0.93"/><circle cx="95.4" cy="123.7" r="2.45" fill="#f8604c" fill-opacity="0.93"/><circle cx="87.7" cy="117.5" r="2.45" fill="#f8604c" fill-opacity="0.93"/><circle cx="93.1" cy="119.1" r="2.45" fill="#d9706e" fill-opacity="0.93"/><circle cx="106.2" cy="117.5" r="2.45" fill="#f8604c" fill-opacity="0.93"/><circle cx="107.7" cy="119.8" r="2.45" fill="#f8604c" fill-opacity="0.93"/><circle cx="106.9" cy="123.7" r="2.45" fill="#f8604c" fill-opacity="0.93"/><circle cx="105.4" cy="122.2" r="2.45" fill="#f8604c" fill-opacity="0.93"/><circle cx="63.1" cy="145.2" r="2.45" fill="#f8604c" fill-opacity="0.93"/><circle cx="63.8" cy="147.5" r="2.45" fill="#f8604c" fill-opacity="0.93"/><circle cx="69.2" cy="144.5" r="2.45" fill="#f8604c" fill-opacity="0.93"/><circle cx="70.0" cy="146.8" r="2.45" fill="#f8604c" fill-opacity="0.93"/><circle cx="74.6" cy="139.1" r="2.45" fill="#f8604c" fill-opacity="0.93"/><circle cx="77.7" cy="140.6" r="2.45" fill="#f8604c" fill-opacity="0.93"/><circle cx="80.0" cy="139.8" r="2.45" fill="#f8604c" fill-opacity="0.93"/><circle cx="81.5" cy="142.2" r="2.45" fill="#4a6fe0" fill-opacity="0.93"/><circle cx="83.1" cy="142.9" r="2.45" fill="#f8604c" fill-opacity="0.93"/><circle cx="85.4" cy="139.1" r="2.45" fill="#f8604c" fill-opacity="0.93"/><circle cx="86.9" cy="140.6" r="2.45" fill="#f8604c" fill-opacity="0.93"/><circle cx="92.3" cy="131.4" r="2.45" fill="#f8604c" fill-opacity="0.93"/><circle cx="93.8" cy="132.9" r="2.45" fill="#f8604c" fill-opacity="0.93"/><circle cx="96.2" cy="133.7" r="2.45" fill="#f8604c" fill-opacity="0.93"/><circle cx="98.5" cy="132.2" r="2.45" fill="#f8604c" fill-opacity="0.93"/><circle cx="100.8" cy="133.7" r="2.45" fill="#f8604c" fill-opacity="0.93"/><circle cx="102.3" cy="131.4" r="2.45" fill="#f8604c" fill-opacity="0.93"/><circle cx="99.2" cy="135.2" r="2.45" fill="#d9706e" fill-opacity="0.93"/><circle cx="90.0" cy="134.5" r="2.45" fill="#4a6fe0" fill-opacity="0.93"/><circle cx="91.5" cy="135.2" r="2.45" fill="#4a6fe0" fill-opacity="0.93"/><circle cx="103.8" cy="132.9" r="2.45" fill="#4a6fe0" fill-opacity="0.93"/><circle cx="108.5" cy="132.9" r="2.45" fill="#4a6fe0" fill-opacity="0.93"/><circle cx="105.4" cy="129.8" r="2.45" fill="#f8604c" fill-opacity="0.93"/><circle cx="102.3" cy="137.5" r="2.45" fill="#f8604c" fill-opacity="0.93"/><circle cx="103.1" cy="139.1" r="2.45" fill="#f8604c" fill-opacity="0.93"/><circle cx="97.7" cy="139.1" r="2.45" fill="#f8604c" fill-opacity="0.93"/><circle cx="94.6" cy="138.3" r="2.45" fill="#f8604c" fill-opacity="0.93"/><circle cx="90.0" cy="143.7" r="2.45" fill="#f8604c" fill-opacity="0.93"/><circle cx="89.2" cy="146.0" r="2.45" fill="#f8604c" fill-opacity="0.93"/><circle cx="88.5" cy="149.8" r="2.45" fill="#4a6fe0" fill-opacity="0.93"/><circle cx="93.8" cy="145.2" r="2.45" fill="#4a6fe0" fill-opacity="0.93"/><circle cx="93.1" cy="148.3" r="2.45" fill="#d9706e" fill-opacity="0.93"/><circle cx="93.8" cy="150.6" r="2.45" fill="#d9706e" fill-opacity="0.93"/><circle cx="95.4" cy="142.9" r="2.45" fill="#d9706e" fill-opacity="0.93"/><circle cx="97.7" cy="141.4" r="2.45" fill="#f8604c" fill-opacity="0.93"/><circle cx="99.2" cy="143.7" r="2.45" fill="#4a6fe0" fill-opacity="0.93"/><circle cx="98.5" cy="146.8" r="2.45" fill="#f8604c" fill-opacity="0.93"/><circle cx="106.9" cy="143.7" r="2.45" fill="#f8604c" fill-opacity="0.93"/><circle cx="106.2" cy="146.8" r="2.45" fill="#f8604c" fill-opacity="0.93"/><circle cx="108.5" cy="145.2" r="2.45" fill="#f8604c" fill-opacity="0.93"/><circle cx="80.8" cy="147.5" r="2.45" fill="#4a6fe0" fill-opacity="0.93"/><circle cx="80.0" cy="152.9" r="2.45" fill="#f8604c" fill-opacity="0.93"/><circle cx="81.5" cy="153.7" r="2.45" fill="#f8604c" fill-opacity="0.93"/><circle cx="77.7" cy="150.6" r="2.45" fill="#4a6fe0" fill-opacity="0.93"/><circle cx="79.2" cy="148.3" r="2.45" fill="#4a6fe0" fill-opacity="0.93"/><circle cx="63.8" cy="152.2" r="2.45" fill="#f8604c" fill-opacity="0.93"/><circle cx="34.6" cy="149.8" r="2.45" fill="#4a6fe0" fill-opacity="0.93"/><circle cx="36.9" cy="149.1" r="2.45" fill="#4a6fe0" fill-opacity="0.93"/><circle cx="38.5" cy="150.6" r="2.45" fill="#4a6fe0" fill-opacity="0.93"/><circle cx="36.2" cy="152.2" r="2.45" fill="#4a6fe0" fill-opacity="0.93"/><circle cx="33.8" cy="152.9" r="2.45" fill="#4a6fe0" fill-opacity="0.93"/><circle cx="39.2" cy="152.9" r="2.45" fill="#4a6fe0" fill-opacity="0.93"/><circle cx="36.9" cy="154.5" r="2.45" fill="#4a6fe0" fill-opacity="0.93"/><circle cx="40.8" cy="152.2" r="2.45" fill="#4a6fe0" fill-opacity="0.93"/><circle cx="44.6" cy="152.2" r="2.45" fill="#4a6fe0" fill-opacity="0.93"/><circle cx="46.2" cy="153.7" r="2.45" fill="#4a6fe0" fill-opacity="0.93"/><circle cx="43.1" cy="153.7" r="2.45" fill="#4a6fe0" fill-opacity="0.93"/><circle cx="35.4" cy="151.1" r="2.45" fill="#4a6fe0" fill-opacity="0.93"/><circle cx="38.0" cy="152.6" r="2.45" fill="#4a6fe0" fill-opacity="0.93"/><circle cx="42.3" cy="149.1" r="2.45" fill="#f8604c" fill-opacity="0.93"/><circle cx="40.8" cy="156.8" r="2.45" fill="#f8604c" fill-opacity="0.93"/><circle cx="43.1" cy="156.0" r="2.45" fill="#f8604c" fill-opacity="0.93"/><circle cx="39.2" cy="156.8" r="2.45" fill="#f8604c" fill-opacity="0.93"/><circle cx="50.0" cy="151.4" r="2.45" fill="#f8604c" fill-opacity="0.93"/><circle cx="49.2" cy="153.7" r="2.45" fill="#f8604c" fill-opacity="0.93"/><circle cx="52.3" cy="156.0" r="2.45" fill="#f8604c" fill-opacity="0.93"/><circle cx="54.6" cy="158.3" r="2.45" fill="#f8604c" fill-opacity="0.93"/><circle cx="53.8" cy="160.6" r="2.45" fill="#f8604c" fill-opacity="0.93"/><circle cx="51.5" cy="155.2" r="2.45" fill="#4a6fe0" fill-opacity="0.93"/><circle cx="30.8" cy="156.0" r="2.45" fill="#d9706e" fill-opacity="0.93"/><circle cx="21.5" cy="145.2" r="2.45" fill="#f8604c" fill-opacity="0.93"/><circle cx="20.8" cy="146.8" r="2.45" fill="#f8604c" fill-opacity="0.93"/><circle cx="23.1" cy="146.0" r="2.45" fill="#4a6fe0" fill-opacity="0.93"/><circle cx="27.7" cy="143.7" r="2.45" fill="#4a6fe0" fill-opacity="0.93"/><circle cx="26.2" cy="147.5" r="2.45" fill="#f8604c" fill-opacity="0.93"/><circle cx="28.5" cy="149.1" r="2.45" fill="#f8604c" fill-opacity="0.93"/><circle cx="30.0" cy="149.8" r="2.45" fill="#f8604c" fill-opacity="0.93"/><circle cx="34.6" cy="157.5" r="2.45" fill="#f8604c" fill-opacity="0.93"/><circle cx="40.0" cy="162.2" r="2.45" fill="#f8604c" fill-opacity="0.93"/><circle cx="42.3" cy="162.2" r="2.45" fill="#f8604c" fill-opacity="0.93"/><circle cx="43.8" cy="162.9" r="2.45" fill="#f8604c" fill-opacity="0.93"/><circle cx="46.9" cy="162.9" r="2.45" fill="#4a6fe0" fill-opacity="0.93"/><circle cx="48.5" cy="164.5" r="2.45" fill="#4a6fe0" fill-opacity="0.93"/><circle cx="56.2" cy="163.7" r="2.45" fill="#f8604c" fill-opacity="0.93"/><circle cx="63.1" cy="160.6" r="2.45" fill="#f8604c" fill-opacity="0.93"/><circle cx="68.5" cy="156.8" r="2.45" fill="#f8604c" fill-opacity="0.93"/><circle cx="69.2" cy="159.8" r="2.45" fill="#f8604c" fill-opacity="0.93"/><circle cx="67.7" cy="159.1" r="2.45" fill="#f8604c" fill-opacity="0.93"/><circle cx="70.8" cy="162.2" r="2.45" fill="#4a6fe0" fill-opacity="0.93"/><circle cx="73.1" cy="162.9" r="2.45" fill="#4a6fe0" fill-opacity="0.93"/><circle cx="70.0" cy="163.7" r="2.45" fill="#f8604c" fill-opacity="0.93"/><circle cx="77.7" cy="162.2" r="2.45" fill="#f8604c" fill-opacity="0.93"/><circle cx="79.2" cy="165.2" r="2.45" fill="#f8604c" fill-opacity="0.93"/><circle cx="82.3" cy="163.7" r="2.45" fill="#f8604c" fill-opacity="0.93"/><circle cx="83.8" cy="162.2" r="2.45" fill="#f8604c" fill-opacity="0.93"/><circle cx="88.5" cy="156.0" r="2.45" fill="#f8604c" fill-opacity="0.93"/><circle cx="86.9" cy="157.5" r="2.45" fill="#f8604c" fill-opacity="0.93"/><circle cx="90.0" cy="155.2" r="2.45" fill="#f8604c" fill-opacity="0.93"/><circle cx="94.6" cy="156.8" r="2.45" fill="#f8604c" fill-opacity="0.93"/><circle cx="98.5" cy="152.9" r="2.45" fill="#f8604c" fill-opacity="0.93"/><circle cx="100.8" cy="152.2" r="2.45" fill="#d9706e" fill-opacity="0.93"/><circle cx="103.1" cy="151.4" r="2.45" fill="#4a6fe0" fill-opacity="0.93"/><circle cx="102.3" cy="154.5" r="2.45" fill="#f8604c" fill-opacity="0.93"/><circle cx="103.8" cy="157.5" r="2.45" fill="#f8604c" fill-opacity="0.93"/><circle cx="100.8" cy="156.0" r="2.45" fill="#f8604c" fill-opacity="0.93"/><circle cx="106.9" cy="152.9" r="2.45" fill="#f8604c" fill-opacity="0.93"/><circle cx="108.5" cy="154.5" r="2.45" fill="#f8604c" fill-opacity="0.93"/><circle cx="93.8" cy="162.2" r="2.45" fill="#f8604c" fill-opacity="0.93"/><circle cx="96.2" cy="163.7" r="2.45" fill="#f8604c" fill-opacity="0.93"/><circle cx="99.2" cy="162.2" r="2.45" fill="#f8604c" fill-opacity="0.93"/><circle cx="100.8" cy="165.2" r="2.45" fill="#f8604c" fill-opacity="0.93"/><circle cx="104.6" cy="162.9" r="2.45" fill="#4a6fe0" fill-opacity="0.93"/><circle cx="108.5" cy="162.2" r="2.45" fill="#f8604c" fill-opacity="0.93"/><circle cx="106.2" cy="164.5" r="2.45" fill="#f8604c" fill-opacity="0.93"/><circle cx="93.1" cy="165.2" r="2.45" fill="#f8604c" fill-opacity="0.93"/><circle cx="111.5" cy="116.8" r="2.45" fill="#f8604c" fill-opacity="0.93"/><circle cx="116.2" cy="117.5" r="2.45" fill="#f8604c" fill-opacity="0.93"/><circle cx="120.8" cy="118.3" r="2.45" fill="#f8604c" fill-opacity="0.93"/><circle cx="125.4" cy="117.5" r="2.45" fill="#f8604c" fill-opacity="0.93"/><circle cx="130.0" cy="116.8" r="2.45" fill="#f8604c" fill-opacity="0.93"/><circle cx="134.6" cy="117.5" r="2.45" fill="#f8604c" fill-opacity="0.93"/><circle cx="123.1" cy="119.1" r="2.45" fill="#4a6fe0" fill-opacity="0.93"/><circle cx="140.8" cy="119.1" r="2.45" fill="#f8604c" fill-opacity="0.93"/><circle cx="143.8" cy="117.5" r="2.45" fill="#f8604c" fill-opacity="0.93"/><circle cx="137.7" cy="122.2" r="2.45" fill="#4a6fe0" fill-opacity="0.93"/><circle cx="150.0" cy="117.5" r="2.45" fill="#f8604c" fill-opacity="0.93"/><circle cx="154.6" cy="118.3" r="2.45" fill="#f8604c" fill-opacity="0.93"/><circle cx="159.2" cy="119.1" r="2.45" fill="#f8604c" fill-opacity="0.93"/><circle cx="163.8" cy="117.5" r="2.45" fill="#d9706e" fill-opacity="0.93"/><circle cx="166.2" cy="120.6" r="2.45" fill="#f8604c" fill-opacity="0.93"/><circle cx="113.1" cy="122.9" r="2.45" fill="#f8604c" fill-opacity="0.93"/><circle cx="119.2" cy="124.5" r="2.45" fill="#f8604c" fill-opacity="0.93"/><circle cx="121.5" cy="126.8" r="2.45" fill="#f8604c" fill-opacity="0.93"/><circle cx="123.8" cy="125.2" r="2.45" fill="#f8604c" fill-opacity="0.93"/><circle cx="126.9" cy="123.7" r="2.45" fill="#f8604c" fill-opacity="0.93"/><circle cx="129.2" cy="122.9" r="2.45" fill="#f8604c" fill-opacity="0.93"/><circle cx="130.0" cy="126.8" r="2.45" fill="#f8604c" fill-opacity="0.93"/><circle cx="125.4" cy="122.2" r="2.45" fill="#4a6fe0" fill-opacity="0.93"/><circle cx="140.0" cy="122.9" r="2.45" fill="#f8604c" fill-opacity="0.93"/><circle cx="142.3" cy="124.5" r="2.45" fill="#f8604c" fill-opacity="0.93"/><circle cx="143.8" cy="122.2" r="2.45" fill="#f8604c" fill-opacity="0.93"/><circle cx="145.4" cy="127.5" r="2.45" fill="#f8604c" fill-opacity="0.93"/><circle cx="148.5" cy="126.8" r="2.45" fill="#f8604c" fill-opacity="0.93"/><circle cx="150.0" cy="125.2" r="2.45" fill="#f8604c" fill-opacity="0.93"/><circle cx="154.6" cy="123.7" r="2.45" fill="#f8604c" fill-opacity="0.93"/><circle cx="156.2" cy="122.2" r="2.45" fill="#f8604c" fill-opacity="0.93"/><circle cx="157.7" cy="126.8" r="2.45" fill="#f8604c" fill-opacity="0.93"/><circle cx="160.8" cy="124.5" r="2.45" fill="#d9706e" fill-opacity="0.93"/><circle cx="163.8" cy="125.2" r="2.45" fill="#f8604c" fill-opacity="0.93"/><circle cx="166.9" cy="123.7" r="2.45" fill="#f8604c" fill-opacity="0.93"/><circle cx="169.2" cy="125.2" r="2.45" fill="#f8604c" fill-opacity="0.93"/><circle cx="164.6" cy="128.3" r="2.45" fill="#4a6fe0" fill-opacity="0.93"/><circle cx="167.7" cy="129.1" r="2.45" fill="#4a6fe0" fill-opacity="0.93"/><circle cx="112.3" cy="132.9" r="2.45" fill="#f8604c" fill-opacity="0.93"/><circle cx="114.6" cy="134.5" r="2.45" fill="#f8604c" fill-opacity="0.93"/><circle cx="118.5" cy="131.4" r="2.45" fill="#f8604c" fill-opacity="0.93"/><circle cx="121.5" cy="135.2" r="2.45" fill="#f8604c" fill-opacity="0.93"/><circle cx="126.2" cy="132.9" r="2.45" fill="#f8604c" fill-opacity="0.93"/><circle cx="125.4" cy="129.8" r="2.45" fill="#f8604c" fill-opacity="0.93"/><circle cx="123.8" cy="130.6" r="2.45" fill="#f8604c" fill-opacity="0.93"/><circle cx="133.1" cy="133.7" r="2.45" fill="#f8604c" fill-opacity="0.93"/><circle cx="135.4" cy="132.2" r="2.45" fill="#f8604c" fill-opacity="0.93"/><circle cx="137.7" cy="134.5" r="2.45" fill="#f8604c" fill-opacity="0.93"/><circle cx="138.5" cy="131.4" r="2.45" fill="#f8604c" fill-opacity="0.93"/><circle cx="131.5" cy="136.0" r="2.45" fill="#d9706e" fill-opacity="0.93"/><circle cx="140.8" cy="136.8" r="2.45" fill="#f8604c" fill-opacity="0.93"/><circle cx="142.3" cy="133.7" r="2.45" fill="#f8604c" fill-opacity="0.93"/><circle cx="146.2" cy="130.6" r="2.45" fill="#f8604c" fill-opacity="0.93"/><circle cx="150.0" cy="131.4" r="2.45" fill="#d9706e" fill-opacity="0.93"/><circle cx="151.5" cy="132.9" r="2.45" fill="#f8604c" fill-opacity="0.93"/><circle cx="158.5" cy="132.2" r="2.45" fill="#f8604c" fill-opacity="0.93"/><circle cx="160.0" cy="134.5" r="2.45" fill="#f8604c" fill-opacity="0.93"/><circle cx="159.2" cy="137.5" r="2.45" fill="#f8604c" fill-opacity="0.93"/><circle cx="163.1" cy="131.4" r="2.45" fill="#d9706e" fill-opacity="0.93"/><circle cx="164.6" cy="137.5" r="2.45" fill="#f8604c" fill-opacity="0.93"/><circle cx="168.5" cy="138.3" r="2.45" fill="#f8604c" fill-opacity="0.93"/><circle cx="166.9" cy="132.9" r="2.45" fill="#4a6fe0" fill-opacity="0.93"/><circle cx="110.0" cy="139.1" r="2.45" fill="#f8604c" fill-opacity="0.93"/><circle cx="116.9" cy="141.4" r="2.45" fill="#f8604c" fill-opacity="0.93"/><circle cx="119.2" cy="142.9" r="2.45" fill="#4a6fe0" fill-opacity="0.93"/><circle cx="125.4" cy="139.8" r="2.45" fill="#f8604c" fill-opacity="0.93"/><circle cx="130.0" cy="139.1" r="2.45" fill="#f8604c" fill-opacity="0.93"/><circle cx="132.3" cy="140.6" r="2.45" fill="#f8604c" fill-opacity="0.93"/><circle cx="134.6" cy="139.1" r="2.45" fill="#f8604c" fill-opacity="0.93"/><circle cx="137.7" cy="141.4" r="2.45" fill="#f8604c" fill-opacity="0.93"/><circle cx="140.8" cy="142.9" r="2.45" fill="#f8604c" fill-opacity="0.93"/><circle cx="139.2" cy="144.5" r="2.45" fill="#f8604c" fill-opacity="0.93"/><circle cx="146.9" cy="137.5" r="2.45" fill="#f8604c" fill-opacity="0.93"/><circle cx="149.2" cy="139.1" r="2.45" fill="#f8604c" fill-opacity="0.93"/><circle cx="150.8" cy="140.6" r="2.45" fill="#f8604c" fill-opacity="0.93"/><circle cx="148.5" cy="142.2" r="2.45" fill="#f8604c" fill-opacity="0.93"/><circle cx="153.1" cy="138.3" r="2.45" fill="#f8604c" fill-opacity="0.93"/><circle cx="154.6" cy="143.7" r="2.45" fill="#4a6fe0" fill-opacity="0.93"/><circle cx="156.2" cy="141.4" r="2.45" fill="#f8604c" fill-opacity="0.93"/><circle cx="159.2" cy="142.9" r="2.45" fill="#f8604c" fill-opacity="0.93"/><circle cx="161.5" cy="140.6" r="2.45" fill="#d9706e" fill-opacity="0.93"/><circle cx="162.3" cy="143.7" r="2.45" fill="#4a6fe0" fill-opacity="0.93"/><circle cx="113.1" cy="148.3" r="2.45" fill="#f8604c" fill-opacity="0.93"/><circle cx="114.6" cy="150.6" r="2.45" fill="#f8604c" fill-opacity="0.93"/><circle cx="116.2" cy="152.9" r="2.45" fill="#f8604c" fill-opacity="0.93"/><circle cx="117.7" cy="146.8" r="2.45" fill="#f8604c" fill-opacity="0.93"/><circle cx="120.8" cy="149.1" r="2.45" fill="#4a6fe0" fill-opacity="0.93"/><circle cx="123.8" cy="146.8" r="2.45" fill="#f8604c" fill-opacity="0.93"/><circle cx="125.4" cy="149.1" r="2.45" fill="#f8604c" fill-opacity="0.93"/><circle cx="126.9" cy="147.5" r="2.45" fill="#f8604c" fill-opacity="0.93"/><circle cx="129.2" cy="148.3" r="2.45" fill="#f8604c" fill-opacity="0.93"/><circle cx="131.5" cy="149.8" r="2.45" fill="#f8604c" fill-opacity="0.93"/><circle cx="133.8" cy="149.1" r="2.45" fill="#4a6fe0" fill-opacity="0.93"/><circle cx="136.9" cy="149.1" r="2.45" fill="#f8604c" fill-opacity="0.93"/><circle cx="140.0" cy="150.6" r="2.45" fill="#f8604c" fill-opacity="0.93"/><circle cx="143.1" cy="149.8" r="2.45" fill="#d9706e" fill-opacity="0.93"/><circle cx="146.9" cy="149.1" r="2.45" fill="#f8604c" fill-opacity="0.93"/><circle cx="150.0" cy="151.4" r="2.45" fill="#f8604c" fill-opacity="0.93"/><circle cx="152.3" cy="146.8" r="2.45" fill="#f8604c" fill-opacity="0.93"/><circle cx="154.6" cy="149.1" r="2.45" fill="#f8604c" fill-opacity="0.93"/><circle cx="156.9" cy="148.3" r="2.45" fill="#f8604c" fill-opacity="0.93"/><circle cx="157.7" cy="151.4" r="2.45" fill="#4a6fe0" fill-opacity="0.93"/><circle cx="160.8" cy="150.6" r="2.45" fill="#4a6fe0" fill-opacity="0.93"/><circle cx="163.1" cy="146.8" r="2.45" fill="#f8604c" fill-opacity="0.93"/><circle cx="165.4" cy="148.3" r="2.45" fill="#f8604c" fill-opacity="0.93"/><circle cx="167.7" cy="150.6" r="2.45" fill="#f8604c" fill-opacity="0.93"/><circle cx="110.0" cy="152.9" r="2.45" fill="#f8604c" fill-opacity="0.93"/><circle cx="111.5" cy="155.2" r="2.45" fill="#f8604c" fill-opacity="0.93"/><circle cx="113.1" cy="157.5" r="2.45" fill="#f8604c" fill-opacity="0.93"/><circle cx="114.6" cy="156.0" r="2.45" fill="#f8604c" fill-opacity="0.93"/><circle cx="110.0" cy="159.1" r="2.45" fill="#f8604c" fill-opacity="0.93"/><circle cx="112.3" cy="160.6" r="2.45" fill="#f8604c" fill-opacity="0.93"/><circle cx="116.2" cy="159.1" r="2.45" fill="#f8604c" fill-opacity="0.93"/><circle cx="121.5" cy="156.8" r="2.45" fill="#f8604c" fill-opacity="0.93"/><circle cx="123.1" cy="159.1" r="2.45" fill="#f8604c" fill-opacity="0.93"/><circle cx="125.4" cy="161.4" r="2.45" fill="#f8604c" fill-opacity="0.93"/><circle cx="126.9" cy="163.7" r="2.45" fill="#4a6fe0" fill-opacity="0.93"/><circle cx="131.5" cy="156.0" r="2.45" fill="#f8604c" fill-opacity="0.93"/><circle cx="135.4" cy="155.2" r="2.45" fill="#f8604c" fill-opacity="0.93"/><circle cx="136.9" cy="160.6" r="2.45" fill="#4a6fe0" fill-opacity="0.93"/><circle cx="137.7" cy="157.5" r="2.45" fill="#f8604c" fill-opacity="0.93"/><circle cx="140.8" cy="162.2" r="2.45" fill="#f8604c" fill-opacity="0.93"/><circle cx="143.1" cy="159.8" r="2.45" fill="#f8604c" fill-opacity="0.93"/><circle cx="146.2" cy="156.8" r="2.45" fill="#f8604c" fill-opacity="0.93"/><circle cx="149.2" cy="154.5" r="2.45" fill="#f8604c" fill-opacity="0.93"/><circle cx="151.5" cy="158.3" r="2.45" fill="#f8604c" fill-opacity="0.93"/><circle cx="154.6" cy="157.5" r="2.45" fill="#4a6fe0" fill-opacity="0.93"/><circle cx="157.7" cy="155.2" r="2.45" fill="#f8604c" fill-opacity="0.93"/><circle cx="155.4" cy="161.4" r="2.45" fill="#f8604c" fill-opacity="0.93"/><circle cx="159.2" cy="162.2" r="2.45" fill="#f8604c" fill-opacity="0.93"/><circle cx="161.5" cy="162.2" r="2.45" fill="#4a6fe0" fill-opacity="0.93"/><circle cx="163.1" cy="160.6" r="2.45" fill="#4a6fe0" fill-opacity="0.93"/><circle cx="165.4" cy="165.2" r="2.45" fill="#4a6fe0" fill-opacity="0.93"/><circle cx="169.2" cy="162.2" r="2.45" fill="#f8604c" fill-opacity="0.93"/><circle cx="140.8" cy="165.2" r="2.45" fill="#4a6fe0" fill-opacity="0.93"/><circle cx="150.0" cy="163.7" r="2.45" fill="#f8604c" fill-opacity="0.93"/><circle cx="133.1" cy="165.2" r="2.45" fill="#f8604c" fill-opacity="0.93"/><circle cx="188.5" cy="116.9" r="2.45" fill="#4a6fe0" fill-opacity="0.93"/><circle cx="179.2" cy="116.9" r="2.45" fill="#4a6fe0" fill-opacity="0.93"/><circle cx="177.7" cy="119.2" r="2.45" fill="#4a6fe0" fill-opacity="0.93"/><circle cx="180.8" cy="120.0" r="2.45" fill="#4a6fe0" fill-opacity="0.93"/><circle cx="183.8" cy="119.2" r="2.45" fill="#4a6fe0" fill-opacity="0.93"/><circle cx="172.3" cy="118.5" r="2.45" fill="#f8604c" fill-opacity="0.93"/><circle cx="200.8" cy="116.9" r="2.45" fill="#f8604c" fill-opacity="0.93"/><circle cx="202.3" cy="118.5" r="2.45" fill="#f8604c" fill-opacity="0.93"/><circle cx="194.6" cy="118.5" r="2.45" fill="#4a6fe0" fill-opacity="0.93"/><circle cx="199.2" cy="121.5" r="2.45" fill="#4a6fe0" fill-opacity="0.93"/><circle cx="202.3" cy="120.8" r="2.45" fill="#4a6fe0" fill-opacity="0.93"/><circle cx="205.4" cy="119.2" r="2.45" fill="#4a6fe0" fill-opacity="0.93"/><circle cx="208.5" cy="119.2" r="2.45" fill="#f8604c" fill-opacity="0.93"/><circle cx="175.4" cy="124.6" r="2.45" fill="#f8604c" fill-opacity="0.93"/><circle cx="177.7" cy="125.4" r="2.45" fill="#4a6fe0" fill-opacity="0.93"/><circle cx="180.8" cy="126.2" r="2.45" fill="#4a6fe0" fill-opacity="0.93"/><circle cx="183.8" cy="124.6" r="2.45" fill="#4a6fe0" fill-opacity="0.93"/><circle cx="179.2" cy="128.5" r="2.45" fill="#4a6fe0" fill-opacity="0.93"/><circle cx="182.3" cy="130.8" r="2.45" fill="#4a6fe0" fill-opacity="0.93"/><circle cx="176.9" cy="130.8" r="2.45" fill="#4a6fe0" fill-opacity="0.93"/><circle cx="190.8" cy="123.8" r="2.45" fill="#d9706e" fill-opacity="0.93"/><circle cx="186.9" cy="126.9" r="2.45" fill="#f8604c" fill-opacity="0.93"/><circle cx="188.5" cy="129.2" r="2.45" fill="#f8604c" fill-opacity="0.93"/><circle cx="190.0" cy="131.5" r="2.45" fill="#f8604c" fill-opacity="0.93"/><circle cx="193.1" cy="133.1" r="2.45" fill="#f8604c" fill-opacity="0.93"/><circle cx="186.2" cy="132.3" r="2.45" fill="#4a6fe0" fill-opacity="0.93"/><circle cx="191.5" cy="135.4" r="2.45" fill="#4a6fe0" fill-opacity="0.93"/><circle cx="195.4" cy="129.2" r="2.45" fill="#4a6fe0" fill-opacity="0.93"/><circle cx="196.2" cy="130.0" r="2.45" fill="#d9706e" fill-opacity="0.93"/><circle cx="199.2" cy="133.8" r="2.45" fill="#f8604c" fill-opacity="0.93"/><circle cx="200.8" cy="134.6" r="2.45" fill="#f8604c" fill-opacity="0.93"/><circle cx="203.8" cy="130.8" r="2.45" fill="#4a6fe0" fill-opacity="0.93"/><circle cx="206.9" cy="127.7" r="2.45" fill="#f8604c" fill-opacity="0.93"/><circle cx="207.7" cy="126.2" r="2.45" fill="#4a6fe0" fill-opacity="0.93"/><circle cx="170.0" cy="124.6" r="2.45" fill="#f8604c" fill-opacity="0.93"/><circle cx="172.3" cy="129.2" r="2.45" fill="#4a6fe0" fill-opacity="0.93"/><circle cx="171.5" cy="136.9" r="2.45" fill="#f8604c" fill-opacity="0.93"/><circle cx="173.8" cy="136.2" r="2.45" fill="#f8604c" fill-opacity="0.93"/><circle cx="174.6" cy="140.8" r="2.45" fill="#f8604c" fill-opacity="0.93"/><circle cx="172.3" cy="146.2" r="2.45" fill="#f8604c" fill-opacity="0.93"/><circle cx="174.6" cy="146.2" r="2.45" fill="#f8604c" fill-opacity="0.93"/><circle cx="176.9" cy="146.2" r="2.45" fill="#f8604c" fill-opacity="0.93"/><circle cx="177.7" cy="141.5" r="2.45" fill="#4a6fe0" fill-opacity="0.93"/><circle cx="179.2" cy="140.0" r="2.45" fill="#d9706e" fill-opacity="0.93"/><circle cx="181.5" cy="135.4" r="2.45" fill="#4a6fe0" fill-opacity="0.93"/><circle cx="183.8" cy="137.7" r="2.45" fill="#4a6fe0" fill-opacity="0.93"/><circle cx="186.9" cy="138.5" r="2.45" fill="#4a6fe0" fill-opacity="0.93"/><circle cx="185.4" cy="140.8" r="2.45" fill="#4a6fe0" fill-opacity="0.93"/><circle cx="189.2" cy="140.0" r="2.45" fill="#4a6fe0" fill-opacity="0.93"/><circle cx="191.5" cy="139.2" r="2.45" fill="#4a6fe0" fill-opacity="0.93"/><circle cx="193.1" cy="141.5" r="2.45" fill="#4a6fe0" fill-opacity="0.93"/><circle cx="190.0" cy="143.8" r="2.45" fill="#4a6fe0" fill-opacity="0.93"/><circle cx="186.9" cy="144.6" r="2.45" fill="#4a6fe0" fill-opacity="0.93"/><circle cx="194.6" cy="144.6" r="2.45" fill="#4a6fe0" fill-opacity="0.93"/><circle cx="197.7" cy="142.3" r="2.45" fill="#4a6fe0" fill-opacity="0.93"/><circle cx="200.8" cy="140.8" r="2.45" fill="#4a6fe0" fill-opacity="0.93"/><circle cx="183.1" cy="143.8" r="2.45" fill="#4a6fe0" fill-opacity="0.93"/><circle cx="180.8" cy="146.2" r="2.45" fill="#4a6fe0" fill-opacity="0.93"/><circle cx="184.6" cy="147.7" r="2.45" fill="#4a6fe0" fill-opacity="0.93"/><circle cx="184.6" cy="144.6" r="2.45" fill="#f8604c" fill-opacity="0.93"/><circle cx="186.9" cy="146.2" r="2.45" fill="#f8604c" fill-opacity="0.93"/><circle cx="190.0" cy="146.2" r="2.45" fill="#f8604c" fill-opacity="0.93"/><circle cx="193.1" cy="148.5" r="2.45" fill="#f8604c" fill-opacity="0.93"/><circle cx="196.9" cy="149.2" r="2.45" fill="#f8604c" fill-opacity="0.93"/><circle cx="198.5" cy="146.2" r="2.45" fill="#d9706e" fill-opacity="0.93"/><circle cx="206.9" cy="140.0" r="2.45" fill="#f8604c" fill-opacity="0.93"/><circle cx="209.2" cy="140.8" r="2.45" fill="#f8604c" fill-opacity="0.93"/><circle cx="208.5" cy="142.3" r="2.45" fill="#f8604c" fill-opacity="0.93"/><circle cx="206.2" cy="139.2" r="2.45" fill="#4a6fe0" fill-opacity="0.93"/><circle cx="179.2" cy="121.5" r="2.45" fill="#4a6fe0" fill-opacity="0.93"/><circle cx="182.3" cy="122.3" r="2.45" fill="#4a6fe0" fill-opacity="0.93"/><circle cx="185.4" cy="121.5" r="2.45" fill="#4a6fe0" fill-opacity="0.93"/><circle cx="188.5" cy="120.8" r="2.45" fill="#4a6fe0" fill-opacity="0.93"/><circle cx="191.5" cy="120.0" r="2.45" fill="#4a6fe0" fill-opacity="0.93"/><circle cx="185.4" cy="118.5" r="2.45" fill="#4a6fe0" fill-opacity="0.93"/><circle cx="181.5" cy="116.9" r="2.45" fill="#4a6fe0" fill-opacity="0.93"/><circle cx="176.2" cy="121.5" r="2.45" fill="#4a6fe0" fill-opacity="0.93"/><circle cx="186.9" cy="123.8" r="2.45" fill="#4a6fe0" fill-opacity="0.93"/><circle cx="184.6" cy="127.7" r="2.45" fill="#4a6fe0" fill-opacity="0.93"/><circle cx="181.5" cy="134.6" r="2.45" fill="#4a6fe0" fill-opacity="0.93"/><circle cx="178.5" cy="133.1" r="2.45" fill="#4a6fe0" fill-opacity="0.93"/><circle cx="187.7" cy="135.4" r="2.45" fill="#4a6fe0" fill-opacity="0.93"/><circle cx="189.2" cy="136.9" r="2.45" fill="#4a6fe0" fill-opacity="0.93"/><circle cx="194.6" cy="138.5" r="2.45" fill="#4a6fe0" fill-opacity="0.93"/><circle cx="196.2" cy="136.9" r="2.45" fill="#4a6fe0" fill-opacity="0.93"/><circle cx="199.2" cy="138.5" r="2.45" fill="#4a6fe0" fill-opacity="0.93"/><circle cx="191.5" cy="142.3" r="2.45" fill="#4a6fe0" fill-opacity="0.93"/><circle cx="188.5" cy="141.5" r="2.45" fill="#4a6fe0" fill-opacity="0.93"/><circle cx="195.4" cy="146.9" r="2.45" fill="#4a6fe0" fill-opacity="0.93"/><circle cx="200.8" cy="144.6" r="2.45" fill="#4a6fe0" fill-opacity="0.93"/><circle cx="202.3" cy="143.1" r="2.45" fill="#4a6fe0" fill-opacity="0.93"/><circle cx="239.2" cy="116.8" r="2.6" fill="#4a6fe0" fill-opacity="0.93"/><circle cx="240.8" cy="116.3" r="2.45" fill="#4a6fe0" fill-opacity="0.93"/><circle cx="213.1" cy="119.8" r="2.45" fill="#f8604c" fill-opacity="0.93"/><circle cx="210.8" cy="118.3" r="2.45" fill="#f8604c" fill-opacity="0.93"/><circle cx="219.2" cy="124.5" r="2.45" fill="#f8604c" fill-opacity="0.93"/><circle cx="220.8" cy="126.0" r="2.45" fill="#4a6fe0" fill-opacity="0.93"/><circle cx="220.0" cy="125.2" r="2.45" fill="#f8604c" fill-opacity="0.93"/><circle cx="218.5" cy="135.2" r="2.45" fill="#4a6fe0" fill-opacity="0.93"/><circle cx="223.1" cy="133.7" r="2.45" fill="#4a6fe0" fill-opacity="0.93"/><circle cx="225.4" cy="130.6" r="2.45" fill="#d9706e" fill-opacity="0.93"/><circle cx="226.2" cy="132.9" r="2.45" fill="#f8604c" fill-opacity="0.93"/><circle cx="232.3" cy="131.4" r="2.45" fill="#4a6fe0" fill-opacity="0.93"/><circle cx="229.2" cy="139.1" r="4.5" fill="#4a6fe0" fill-opacity="0.93"/><circle cx="228.5" cy="136.8" r="2.45" fill="#4a6fe0" fill-opacity="0.93"/><circle cx="230.8" cy="138.3" r="2.45" fill="#4a6fe0" fill-opacity="0.93"/><circle cx="227.7" cy="140.6" r="2.45" fill="#4a6fe0" fill-opacity="0.93"/><circle cx="230.0" cy="142.2" r="2.45" fill="#4a6fe0" fill-opacity="0.93"/><circle cx="232.3" cy="140.6" r="2.45" fill="#4a6fe0" fill-opacity="0.93"/><circle cx="233.1" cy="137.5" r="2.45" fill="#4a6fe0" fill-opacity="0.93"/><circle cx="225.4" cy="139.1" r="2.45" fill="#4a6fe0" fill-opacity="0.93"/><circle cx="226.9" cy="142.9" r="2.45" fill="#4a6fe0" fill-opacity="0.93"/><circle cx="235.4" cy="141.4" r="2.45" fill="#f8604c" fill-opacity="0.93"/><circle cx="222.3" cy="139.8" r="2.45" fill="#d9706e" fill-opacity="0.93"/><circle cx="210.8" cy="141.4" r="2.45" fill="#4a6fe0" fill-opacity="0.93"/><circle cx="210.0" cy="142.2" r="2.45" fill="#f8604c" fill-opacity="0.93"/><circle cx="222.3" cy="146.0" r="2.45" fill="#f8604c" fill-opacity="0.93"/><circle cx="213.1" cy="152.9" r="2.45" fill="#f8604c" fill-opacity="0.93"/><circle cx="214.6" cy="153.7" r="2.45" fill="#4a6fe0" fill-opacity="0.93"/><circle cx="229.2" cy="153.7" r="2.45" fill="#f8604c" fill-opacity="0.93"/><circle cx="230.8" cy="156.0" r="2.45" fill="#d9706e" fill-opacity="0.93"/><circle cx="228.5" cy="158.3" r="2.45" fill="#f8604c" fill-opacity="0.93"/><circle cx="230.0" cy="156.8" r="2.45" fill="#4a6fe0" fill-opacity="0.93"/><circle cx="215.4" cy="162.2" r="2.45" fill="#d9706e" fill-opacity="0.93"/><circle cx="245.4" cy="165.2" r="3.5" fill="#4a6fe0" fill-opacity="0.93"/><circle cx="243.1" cy="165.5" r="2.45" fill="#4a6fe0" fill-opacity="0.93"/><circle cx="247.7" cy="165.5" r="2.45" fill="#4a6fe0" fill-opacity="0.93"/><circle cx="222.3" cy="166.0" r="2.45" fill="#d9706e" fill-opacity="0.93"/><circle cx="173.5" cy="153.5" r="2.45" fill="#f8604c" fill-opacity="0.93"/><circle cx="175.8" cy="152.3" r="2.45" fill="#f8604c" fill-opacity="0.93"/><circle cx="178.2" cy="152.9" r="2.45" fill="#f8604c" fill-opacity="0.93"/><circle cx="179.3" cy="154.1" r="2.45" fill="#f8604c" fill-opacity="0.93"/><circle cx="179.9" cy="154.7" r="2.45" fill="#d9706e" fill-opacity="0.93"/><circle cx="188.7" cy="151.8" r="2.45" fill="#4a6fe0" fill-opacity="0.93"/><circle cx="189.3" cy="150.0" r="2.45" fill="#f8604c" fill-opacity="0.93"/><circle cx="192.8" cy="151.8" r="2.45" fill="#d9706e" fill-opacity="0.93"/><circle cx="196.9" cy="152.3" r="2.45" fill="#4a6fe0" fill-opacity="0.93"/><circle cx="198.6" cy="150.6" r="2.45" fill="#d9706e" fill-opacity="0.93"/><circle cx="205.0" cy="151.2" r="2.45" fill="#4a6fe0" fill-opacity="0.93"/><circle cx="185.8" cy="154.1" r="2.45" fill="#f8604c" fill-opacity="0.93"/><circle cx="188.1" cy="155.0" r="2.45" fill="#f8604c" fill-opacity="0.93"/><circle cx="182.8" cy="158.2" r="2.45" fill="#f8604c" fill-opacity="0.93"/><circle cx="184.6" cy="157.6" r="2.45" fill="#4a6fe0" fill-opacity="0.93"/><circle cx="182.6" cy="160.2" r="2.45" fill="#f8604c" fill-opacity="0.93"/><circle cx="172.9" cy="159.3" r="2.45" fill="#f8604c" fill-opacity="0.93"/><circle cx="174.1" cy="158.2" r="2.45" fill="#f8604c" fill-opacity="0.93"/><circle cx="172.3" cy="161.1" r="2.45" fill="#f8604c" fill-opacity="0.93"/><circle cx="175.3" cy="162.8" r="2.45" fill="#4a6fe0" fill-opacity="0.93"/><circle cx="178.2" cy="162.6" r="2.45" fill="#f8604c" fill-opacity="0.93"/><circle cx="171.8" cy="164.6" r="2.45" fill="#4a6fe0" fill-opacity="0.93"/><circle cx="193.4" cy="159.1" r="2.45" fill="#f8604c" fill-opacity="0.93"/><circle cx="193.9" cy="161.4" r="2.45" fill="#4a6fe0" fill-opacity="0.93"/><circle cx="198.0" cy="156.4" r="2.45" fill="#4a6fe0" fill-opacity="0.93"/><circle cx="199.8" cy="157.9" r="2.45" fill="#f8604c" fill-opacity="0.93"/><circle cx="206.2" cy="158.8" r="2.45" fill="#d9706e" fill-opacity="0.93"/><circle cx="207.4" cy="158.2" r="2.45" fill="#4a6fe0" fill-opacity="0.93"/><circle cx="187.5" cy="163.4" r="2.45" fill="#f8604c" fill-opacity="0.93"/><circle cx="184.6" cy="164.3" r="2.45" fill="#4a6fe0" fill-opacity="0.93"/><circle cx="190.4" cy="164.3" r="2.45" fill="#d9706e" fill-opacity="0.93"/><circle cx="186.4" cy="165.5" r="2.45" fill="#f8604c" fill-opacity="0.93"/><circle cx="199.2" cy="164.6" r="2.45" fill="#f8604c" fill-opacity="0.93"/><circle cx="208.5" cy="164.6" r="2.45" fill="#4a6fe0" fill-opacity="0.93"/><circle cx="36.9" cy="171.4" r="2.45" fill="#d9706e" fill-opacity="0.93"/><circle cx="34.6" cy="173.7" r="2.45" fill="#f8604c" fill-opacity="0.93"/><circle cx="38.5" cy="172.9" r="2.45" fill="#f8604c" fill-opacity="0.93"/><circle cx="41.5" cy="172.2" r="2.45" fill="#f8604c" fill-opacity="0.93"/><circle cx="43.8" cy="173.7" r="2.45" fill="#f8604c" fill-opacity="0.93"/><circle cx="41.5" cy="176.0" r="2.45" fill="#4a6fe0" fill-opacity="0.93"/><circle cx="36.9" cy="176.8" r="2.45" fill="#f8604c" fill-opacity="0.93"/><circle cx="39.2" cy="177.5" r="2.45" fill="#f8604c" fill-opacity="0.93"/><circle cx="43.8" cy="178.3" r="2.45" fill="#f8604c" fill-opacity="0.93"/><circle cx="45.4" cy="176.8" r="2.45" fill="#f8604c" fill-opacity="0.93"/><circle cx="36.2" cy="180.6" r="2.45" fill="#f8604c" fill-opacity="0.93"/><circle cx="40.8" cy="179.8" r="2.45" fill="#f8604c" fill-opacity="0.93"/><circle cx="46.9" cy="182.9" r="2.45" fill="#f8604c" fill-opacity="0.93"/><circle cx="56.9" cy="174.5" r="2.45" fill="#f8604c" fill-opacity="0.93"/><circle cx="71.5" cy="180.6" r="2.45" fill="#f8604c" fill-opacity="0.93"/><circle cx="69.2" cy="169.1" r="2.45" fill="#f8604c" fill-opacity="0.93"/><circle cx="70.8" cy="169.8" r="2.45" fill="#4a6fe0" fill-opacity="0.93"/><circle cx="68.5" cy="171.4" r="2.45" fill="#4a6fe0" fill-opacity="0.93"/><circle cx="73.1" cy="168.3" r="2.45" fill="#f8604c" fill-opacity="0.93"/><circle cx="76.2" cy="169.8" r="2.45" fill="#f8604c" fill-opacity="0.93"/><circle cx="77.7" cy="167.5" r="2.45" fill="#f8604c" fill-opacity="0.93"/><circle cx="81.5" cy="168.3" r="2.45" fill="#4a6fe0" fill-opacity="0.93"/><circle cx="83.8" cy="169.1" r="2.45" fill="#f8604c" fill-opacity="0.93"/><circle cx="86.9" cy="167.5" r="2.45" fill="#f8604c" fill-opacity="0.93"/><circle cx="90.0" cy="168.3" r="2.45" fill="#f8604c" fill-opacity="0.93"/><circle cx="93.1" cy="166.8" r="2.45" fill="#f8604c" fill-opacity="0.93"/><circle cx="95.4" cy="167.5" r="2.45" fill="#f8604c" fill-opacity="0.93"/><circle cx="97.7" cy="166.8" r="2.45" fill="#f8604c" fill-opacity="0.93"/><circle cx="100.0" cy="168.3" r="2.45" fill="#f8604c" fill-opacity="0.93"/><circle cx="100.8" cy="166.8" r="2.45" fill="#4a6fe0" fill-opacity="0.93"/><circle cx="102.3" cy="169.1" r="2.45" fill="#f8604c" fill-opacity="0.93"/><circle cx="105.4" cy="167.5" r="2.45" fill="#f8604c" fill-opacity="0.93"/><circle cx="108.5" cy="170.6" r="2.45" fill="#f8604c" fill-opacity="0.93"/><circle cx="106.9" cy="172.2" r="2.45" fill="#4a6fe0" fill-opacity="0.93"/><circle cx="79.2" cy="175.2" r="2.45" fill="#f8604c" fill-opacity="0.93"/><circle cx="85.4" cy="177.5" r="2.45" fill="#4a6fe0" fill-opacity="0.93"/><circle cx="77.7" cy="181.4" r="2.45" fill="#d9706e" fill-opacity="0.93"/><circle cx="82.3" cy="181.4" r="2.45" fill="#f8604c" fill-opacity="0.93"/><circle cx="83.8" cy="182.9" r="2.45" fill="#f8604c" fill-opacity="0.93"/><circle cx="86.9" cy="180.6" r="2.45" fill="#f8604c" fill-opacity="0.93"/><circle cx="90.0" cy="181.4" r="2.45" fill="#f8604c" fill-opacity="0.93"/><circle cx="82.3" cy="185.2" r="2.45" fill="#4a6fe0" fill-opacity="0.93"/><circle cx="87.7" cy="188.3" r="2.45" fill="#4a6fe0" fill-opacity="0.93"/><circle cx="80.8" cy="187.5" r="2.45" fill="#f8604c" fill-opacity="0.93"/><circle cx="91.5" cy="184.5" r="2.45" fill="#f8604c" fill-opacity="0.93"/><circle cx="90.0" cy="185.2" r="2.45" fill="#f8604c" fill-opacity="0.93"/><circle cx="92.3" cy="172.2" r="2.45" fill="#f8604c" fill-opacity="0.93"/><circle cx="93.8" cy="173.7" r="2.45" fill="#f8604c" fill-opacity="0.93"/><circle cx="100.0" cy="177.5" r="2.45" fill="#f8604c" fill-opacity="0.93"/><circle cx="104.6" cy="174.5" r="2.45" fill="#f8604c" fill-opacity="0.93"/><circle cx="107.7" cy="178.3" r="2.45" fill="#f8604c" fill-opacity="0.93"/><circle cx="108.5" cy="182.9" r="2.45" fill="#d9706e" fill-opacity="0.93"/><circle cx="102.3" cy="186.0" r="2.45" fill="#f8604c" fill-opacity="0.93"/><circle cx="103.8" cy="188.3" r="2.45" fill="#f8604c" fill-opacity="0.93"/><circle cx="100.8" cy="186.8" r="2.45" fill="#f8604c" fill-opacity="0.93"/><circle cx="61.5" cy="191.4" r="2.45" fill="#f8604c" fill-opacity="0.93"/><circle cx="63.8" cy="189.8" r="2.45" fill="#f8604c" fill-opacity="0.93"/><circle cx="66.2" cy="189.1" r="2.45" fill="#f8604c" fill-opacity="0.93"/><circle cx="68.5" cy="189.8" r="2.45" fill="#f8604c" fill-opacity="0.93"/><circle cx="70.8" cy="191.4" r="2.45" fill="#f8604c" fill-opacity="0.93"/><circle cx="72.3" cy="193.7" r="2.45" fill="#f8604c" fill-opacity="0.93"/><circle cx="63.1" cy="193.7" r="2.45" fill="#f8604c" fill-opacity="0.93"/><circle cx="65.4" cy="192.9" r="2.45" fill="#f8604c" fill-opacity="0.93"/><circle cx="68.5" cy="192.9" r="2.45" fill="#f8604c" fill-opacity="0.93"/><circle cx="64.6" cy="196.8" r="2.45" fill="#4a6fe0" fill-opacity="0.93"/><circle cx="66.9" cy="198.3" r="2.45" fill="#4a6fe0" fill-opacity="0.93"/><circle cx="70.0" cy="197.5" r="2.45" fill="#4a6fe0" fill-opacity="0.93"/><circle cx="71.5" cy="196.8" r="2.45" fill="#4a6fe0" fill-opacity="0.93"/><circle cx="66.9" cy="199.1" r="2.45" fill="#f8604c" fill-opacity="0.93"/><circle cx="40.0" cy="197.5" r="2.45" fill="#f8604c" fill-opacity="0.93"/><circle cx="38.5" cy="199.1" r="2.45" fill="#f8604c" fill-opacity="0.93"/><circle cx="40.8" cy="199.8" r="2.45" fill="#f8604c" fill-opacity="0.93"/><circle cx="43.8" cy="201.4" r="2.45" fill="#f8604c" fill-opacity="0.93"/><circle cx="46.9" cy="199.1" r="2.45" fill="#f8604c" fill-opacity="0.93"/><circle cx="46.2" cy="202.9" r="2.45" fill="#f8604c" fill-opacity="0.93"/><circle cx="47.7" cy="197.5" r="2.45" fill="#4a6fe0" fill-opacity="0.93"/><circle cx="42.3" cy="203.7" r="2.45" fill="#d9706e" fill-opacity="0.93"/><circle cx="37.7" cy="204.5" r="2.45" fill="#d9706e" fill-opacity="0.93"/><circle cx="44.6" cy="204.5" r="2.45" fill="#f8604c" fill-opacity="0.93"/><circle cx="93.8" cy="191.4" r="2.45" fill="#f8604c" fill-opacity="0.93"/><circle cx="96.2" cy="190.6" r="2.45" fill="#d9706e" fill-opacity="0.93"/><circle cx="95.4" cy="193.7" r="2.45" fill="#f8604c" fill-opacity="0.93"/><circle cx="97.7" cy="195.2" r="2.45" fill="#f8604c" fill-opacity="0.93"/><circle cx="92.3" cy="195.2" r="2.45" fill="#f8604c" fill-opacity="0.93"/><circle cx="90.0" cy="196.8" r="2.45" fill="#f8604c" fill-opacity="0.93"/><circle cx="87.7" cy="195.2" r="2.45" fill="#f8604c" fill-opacity="0.93"/><circle cx="90.0" cy="194.5" r="2.45" fill="#4a6fe0" fill-opacity="0.93"/><circle cx="91.5" cy="198.3" r="2.45" fill="#4a6fe0" fill-opacity="0.93"/><circle cx="94.6" cy="197.5" r="2.45" fill="#f8604c" fill-opacity="0.93"/><circle cx="99.2" cy="197.5" r="2.45" fill="#f8604c" fill-opacity="0.93"/><circle cx="96.9" cy="199.1" r="2.45" fill="#f8604c" fill-opacity="0.93"/><circle cx="93.8" cy="199.8" r="2.45" fill="#d9706e" fill-opacity="0.93"/><circle cx="80.0" cy="202.9" r="2.45" fill="#4a6fe0" fill-opacity="0.93"/><circle cx="82.3" cy="205.2" r="2.45" fill="#4a6fe0" fill-opacity="0.93"/><circle cx="83.8" cy="206.8" r="2.45" fill="#4a6fe0" fill-opacity="0.93"/><circle cx="81.5" cy="207.5" r="2.45" fill="#4a6fe0" fill-opacity="0.93"/><circle cx="85.4" cy="203.7" r="2.45" fill="#4a6fe0" fill-opacity="0.93"/><circle cx="79.2" cy="207.5" r="2.45" fill="#f8604c" fill-opacity="0.93"/><circle cx="83.1" cy="210.6" r="2.45" fill="#f8604c" fill-opacity="0.93"/><circle cx="85.4" cy="212.2" r="2.45" fill="#f8604c" fill-opacity="0.93"/><circle cx="86.9" cy="210.6" r="2.45" fill="#4a6fe0" fill-opacity="0.93"/><circle cx="90.0" cy="207.5" r="2.45" fill="#d9706e" fill-opacity="0.93"/><circle cx="97.7" cy="206.8" r="2.45" fill="#f8604c" fill-opacity="0.93"/><circle cx="97.7" cy="209.1" r="2.45" fill="#4a6fe0" fill-opacity="0.93"/><circle cx="103.8" cy="209.1" r="2.45" fill="#f8604c" fill-opacity="0.93"/><circle cx="105.4" cy="212.2" r="2.45" fill="#f8604c" fill-opacity="0.93"/><circle cx="106.9" cy="207.5" r="2.45" fill="#f8604c" fill-opacity="0.93"/><circle cx="108.5" cy="209.8" r="2.45" fill="#4a6fe0" fill-opacity="0.93"/><circle cx="100.8" cy="211.4" r="2.45" fill="#f8604c" fill-opacity="0.93"/><circle cx="134.6" cy="167.5" r="2.45" fill="#4a6fe0" fill-opacity="0.93"/><circle cx="137.7" cy="166.8" r="2.45" fill="#4a6fe0" fill-opacity="0.93"/><circle cx="140.8" cy="168.3" r="2.45" fill="#4a6fe0" fill-opacity="0.93"/><circle cx="143.8" cy="167.5" r="2.45" fill="#4a6fe0" fill-opacity="0.93"/><circle cx="146.9" cy="166.8" r="2.45" fill="#4a6fe0" fill-opacity="0.93"/><circle cx="139.2" cy="170.6" r="2.45" fill="#4a6fe0" fill-opacity="0.93"/><circle cx="142.3" cy="172.2" r="2.45" fill="#4a6fe0" fill-opacity="0.93"/><circle cx="136.9" cy="169.8" r="2.45" fill="#4a6fe0" fill-opacity="0.93"/><circle cx="140.8" cy="174.5" r="2.45" fill="#4a6fe0" fill-opacity="0.93"/><circle cx="131.5" cy="169.8" r="2.45" fill="#f8604c" fill-opacity="0.93"/><circle cx="134.6" cy="172.9" r="2.45" fill="#f8604c" fill-opacity="0.93"/><circle cx="136.2" cy="175.2" r="2.45" fill="#f8604c" fill-opacity="0.93"/><circle cx="133.8" cy="171.4" r="2.45" fill="#f8604c" fill-opacity="0.93"/><circle cx="132.3" cy="167.5" r="2.45" fill="#d9706e" fill-opacity="0.93"/><circle cx="144.6" cy="170.6" r="2.45" fill="#f8604c" fill-opacity="0.93"/><circle cx="116.2" cy="172.2" r="2.45" fill="#f8604c" fill-opacity="0.93"/><circle cx="118.5" cy="174.5" r="2.45" fill="#f8604c" fill-opacity="0.93"/><circle cx="116.9" cy="167.5" r="2.45" fill="#f8604c" fill-opacity="0.93"/><circle cx="123.1" cy="172.2" r="2.45" fill="#f8604c" fill-opacity="0.93"/><circle cx="123.8" cy="174.5" r="2.45" fill="#f8604c" fill-opacity="0.93"/><circle cx="121.5" cy="169.8" r="2.45" fill="#f8604c" fill-opacity="0.93"/><circle cx="115.4" cy="169.8" r="2.45" fill="#4a6fe0" fill-opacity="0.93"/><circle cx="110.0" cy="169.1" r="2.45" fill="#f8604c" fill-opacity="0.93"/><circle cx="111.5" cy="172.9" r="2.45" fill="#f8604c" fill-opacity="0.93"/><circle cx="110.8" cy="179.8" r="2.45" fill="#f8604c" fill-opacity="0.93"/><circle cx="113.1" cy="180.6" r="2.45" fill="#f8604c" fill-opacity="0.93"/><circle cx="115.4" cy="181.4" r="2.45" fill="#f8604c" fill-opacity="0.93"/><circle cx="112.3" cy="184.5" r="2.45" fill="#d9706e" fill-opacity="0.93"/><circle cx="117.7" cy="183.7" r="2.45" fill="#f8604c" fill-opacity="0.93"/><circle cx="118.5" cy="186.0" r="2.45" fill="#f8604c" fill-opacity="0.93"/><circle cx="120.8" cy="181.4" r="2.45" fill="#f8604c" fill-opacity="0.93"/><circle cx="122.3" cy="179.1" r="2.45" fill="#f8604c" fill-opacity="0.93"/><circle cx="120.0" cy="179.1" r="2.45" fill="#4a6fe0" fill-opacity="0.93"/><circle cx="115.4" cy="185.2" r="2.45" fill="#4a6fe0" fill-opacity="0.93"/><circle cx="124.6" cy="182.9" r="2.45" fill="#f8604c" fill-opacity="0.93"/><circle cx="121.5" cy="191.4" r="2.45" fill="#d9706e" fill-opacity="0.93"/><circle cx="120.8" cy="189.1" r="2.45" fill="#f8604c" fill-opacity="0.93"/><circle cx="122.3" cy="190.6" r="2.45" fill="#f8604c" fill-opacity="0.93"/><circle cx="123.8" cy="189.8" r="2.45" fill="#f8604c" fill-opacity="0.93"/><circle cx="119.2" cy="188.3" r="2.45" fill="#4a6fe0" fill-opacity="0.93"/><circle cx="131.5" cy="178.3" r="2.45" fill="#f8604c" fill-opacity="0.93"/><circle cx="132.3" cy="180.6" r="2.45" fill="#f8604c" fill-opacity="0.93"/><circle cx="137.7" cy="176.0" r="2.45" fill="#d9706e" fill-opacity="0.93"/><circle cx="137.7" cy="182.2" r="2.45" fill="#f8604c" fill-opacity="0.93"/><circle cx="143.1" cy="177.5" r="2.45" fill="#f8604c" fill-opacity="0.93"/><circle cx="143.1" cy="182.2" r="2.45" fill="#4a6fe0" fill-opacity="0.93"/><circle cx="143.8" cy="185.2" r="2.45" fill="#4a6fe0" fill-opacity="0.93"/><circle cx="142.3" cy="186.0" r="2.45" fill="#4a6fe0" fill-opacity="0.93"/><circle cx="146.9" cy="178.3" r="2.45" fill="#f8604c" fill-opacity="0.93"/><circle cx="149.2" cy="177.5" r="2.45" fill="#f8604c" fill-opacity="0.93"/><circle cx="151.5" cy="176.0" r="2.45" fill="#f8604c" fill-opacity="0.93"/><circle cx="150.0" cy="181.4" r="2.45" fill="#f8604c" fill-opacity="0.93"/><circle cx="150.8" cy="180.6" r="2.45" fill="#d9706e" fill-opacity="0.93"/><circle cx="152.3" cy="176.8" r="2.45" fill="#f8604c" fill-opacity="0.93"/><circle cx="157.7" cy="182.9" r="2.45" fill="#f8604c" fill-opacity="0.93"/><circle cx="159.2" cy="184.5" r="2.45" fill="#f8604c" fill-opacity="0.93"/><circle cx="160.8" cy="182.2" r="2.45" fill="#f8604c" fill-opacity="0.93"/><circle cx="158.5" cy="186.8" r="2.45" fill="#f8604c" fill-opacity="0.93"/><circle cx="160.0" cy="188.3" r="2.45" fill="#f8604c" fill-opacity="0.93"/><circle cx="155.4" cy="189.1" r="2.45" fill="#f8604c" fill-opacity="0.93"/><circle cx="156.2" cy="187.5" r="2.45" fill="#d9706e" fill-opacity="0.93"/><circle cx="163.8" cy="182.9" r="2.45" fill="#d9706e" fill-opacity="0.93"/><circle cx="163.1" cy="186.0" r="2.45" fill="#f8604c" fill-opacity="0.93"/><circle cx="162.3" cy="176.8" r="2.45" fill="#f8604c" fill-opacity="0.93"/><circle cx="163.8" cy="176.0" r="2.45" fill="#f8604c" fill-opacity="0.93"/><circle cx="162.3" cy="174.5" r="2.45" fill="#4a6fe0" fill-opacity="0.93"/><circle cx="166.2" cy="169.1" r="2.45" fill="#4a6fe0" fill-opacity="0.93"/><circle cx="170.0" cy="168.3" r="2.45" fill="#f8604c" fill-opacity="0.93"/><circle cx="168.5" cy="170.6" r="2.45" fill="#f8604c" fill-opacity="0.93"/><circle cx="171.5" cy="169.8" r="2.45" fill="#f8604c" fill-opacity="0.93"/><circle cx="174.6" cy="168.3" r="2.45" fill="#f8604c" fill-opacity="0.93"/><circle cx="174.6" cy="171.4" r="2.45" fill="#4a6fe0" fill-opacity="0.93"/><circle cx="176.2" cy="172.2" r="2.45" fill="#4a6fe0" fill-opacity="0.93"/><circle cx="177.7" cy="170.6" r="2.45" fill="#4a6fe0" fill-opacity="0.93"/><circle cx="180.8" cy="169.1" r="2.45" fill="#f8604c" fill-opacity="0.93"/><circle cx="182.3" cy="168.3" r="2.45" fill="#f8604c" fill-opacity="0.93"/><circle cx="185.4" cy="169.8" r="2.45" fill="#f8604c" fill-opacity="0.93"/><circle cx="186.9" cy="166.8" r="2.45" fill="#f8604c" fill-opacity="0.93"/><circle cx="183.8" cy="166.8" r="2.45" fill="#f8604c" fill-opacity="0.93"/><circle cx="188.5" cy="173.7" r="2.45" fill="#4a6fe0" fill-opacity="0.93"/><circle cx="190.0" cy="172.2" r="2.45" fill="#4a6fe0" fill-opacity="0.93"/><circle cx="192.3" cy="172.9" r="2.45" fill="#f8604c" fill-opacity="0.93"/><circle cx="193.8" cy="170.6" r="2.45" fill="#f8604c" fill-opacity="0.93"/><circle cx="196.2" cy="169.8" r="2.45" fill="#f8604c" fill-opacity="0.93"/><circle cx="198.5" cy="168.3" r="2.45" fill="#f8604c" fill-opacity="0.93"/><circle cx="200.8" cy="171.4" r="2.45" fill="#f8604c" fill-opacity="0.93"/><circle cx="202.3" cy="172.2" r="2.45" fill="#f8604c" fill-opacity="0.93"/><circle cx="199.2" cy="172.9" r="2.45" fill="#d9706e" fill-opacity="0.93"/><circle cx="208.5" cy="167.5" r="2.45" fill="#f8604c" fill-opacity="0.93"/><circle cx="174.6" cy="176.0" r="2.45" fill="#f8604c" fill-opacity="0.93"/><circle cx="173.1" cy="177.5" r="2.45" fill="#f8604c" fill-opacity="0.93"/><circle cx="173.8" cy="179.8" r="2.45" fill="#f8604c" fill-opacity="0.93"/><circle cx="170.8" cy="182.2" r="2.45" fill="#f8604c" fill-opacity="0.93"/><circle cx="178.5" cy="182.9" r="2.45" fill="#f8604c" fill-opacity="0.93"/><circle cx="179.2" cy="184.5" r="2.45" fill="#f8604c" fill-opacity="0.93"/><circle cx="170.8" cy="186.0" r="2.45" fill="#4a6fe0" fill-opacity="0.93"/><circle cx="170.0" cy="187.5" r="2.45" fill="#4a6fe0" fill-opacity="0.93"/><circle cx="182.3" cy="175.2" r="2.45" fill="#f8604c" fill-opacity="0.93"/><circle cx="183.8" cy="177.5" r="2.45" fill="#f8604c" fill-opacity="0.93"/><circle cx="185.4" cy="178.3" r="2.45" fill="#f8604c" fill-opacity="0.93"/><circle cx="186.9" cy="179.8" r="2.45" fill="#f8604c" fill-opacity="0.93"/><circle cx="189.2" cy="180.6" r="2.45" fill="#f8604c" fill-opacity="0.93"/><circle cx="187.7" cy="177.5" r="2.45" fill="#4a6fe0" fill-opacity="0.93"/><circle cx="190.0" cy="176.0" r="2.45" fill="#4a6fe0" fill-opacity="0.93"/><circle cx="191.5" cy="177.5" r="2.45" fill="#4a6fe0" fill-opacity="0.93"/><circle cx="188.5" cy="186.0" r="2.45" fill="#f8604c" fill-opacity="0.93"/><circle cx="195.4" cy="182.2" r="2.45" fill="#f8604c" fill-opacity="0.93"/><circle cx="196.9" cy="181.4" r="2.45" fill="#f8604c" fill-opacity="0.93"/><circle cx="198.5" cy="182.9" r="2.45" fill="#f8604c" fill-opacity="0.93"/><circle cx="130.8" cy="189.1" r="2.45" fill="#f8604c" fill-opacity="0.93"/><circle cx="135.4" cy="188.3" r="2.45" fill="#f8604c" fill-opacity="0.93"/><circle cx="138.5" cy="188.3" r="2.45" fill="#f8604c" fill-opacity="0.93"/><circle cx="137.7" cy="189.1" r="2.45" fill="#d9706e" fill-opacity="0.93"/><circle cx="139.2" cy="192.9" r="2.45" fill="#f8604c" fill-opacity="0.93"/><circle cx="141.5" cy="193.7" r="2.45" fill="#f8604c" fill-opacity="0.93"/><circle cx="144.6" cy="192.2" r="2.45" fill="#f8604c" fill-opacity="0.93"/><circle cx="146.9" cy="194.5" r="2.45" fill="#f8604c" fill-opacity="0.93"/><circle cx="149.2" cy="191.4" r="2.45" fill="#f8604c" fill-opacity="0.93"/><circle cx="150.0" cy="194.5" r="2.45" fill="#f8604c" fill-opacity="0.93"/><circle cx="152.3" cy="193.7" r="2.45" fill="#f8604c" fill-opacity="0.93"/><circle cx="154.6" cy="195.2" r="2.45" fill="#f8604c" fill-opacity="0.93"/><circle cx="156.9" cy="193.7" r="2.45" fill="#f8604c" fill-opacity="0.93"/><circle cx="157.7" cy="196.8" r="2.45" fill="#f8604c" fill-opacity="0.93"/><circle cx="159.2" cy="198.3" r="2.45" fill="#f8604c" fill-opacity="0.93"/><circle cx="154.6" cy="199.1" r="2.45" fill="#f8604c" fill-opacity="0.93"/><circle cx="153.1" cy="201.4" r="2.45" fill="#f8604c" fill-opacity="0.93"/><circle cx="156.2" cy="202.9" r="2.45" fill="#f8604c" fill-opacity="0.93"/><circle cx="134.6" cy="198.3" r="2.45" fill="#f8604c" fill-opacity="0.93"/><circle cx="136.9" cy="196.8" r="2.45" fill="#f8604c" fill-opacity="0.93"/><circle cx="139.2" cy="199.1" r="2.45" fill="#f8604c" fill-opacity="0.93"/><circle cx="136.2" cy="202.2" r="2.45" fill="#f8604c" fill-opacity="0.93"/><circle cx="137.7" cy="204.5" r="2.45" fill="#f8604c" fill-opacity="0.93"/><circle cx="140.0" cy="206.0" r="2.45" fill="#f8604c" fill-opacity="0.93"/><circle cx="142.3" cy="203.7" r="2.45" fill="#f8604c" fill-opacity="0.93"/><circle cx="141.5" cy="207.5" r="2.45" fill="#f8604c" fill-opacity="0.93"/><circle cx="139.2" cy="209.1" r="2.45" fill="#f8604c" fill-opacity="0.93"/><circle cx="136.9" cy="210.6" r="2.45" fill="#f8604c" fill-opacity="0.93"/><circle cx="140.8" cy="212.2" r="2.45" fill="#f8604c" fill-opacity="0.93"/><circle cx="143.1" cy="210.6" r="2.45" fill="#f8604c" fill-opacity="0.93"/><circle cx="143.8" cy="213.7" r="2.45" fill="#f8604c" fill-opacity="0.93"/><circle cx="146.9" cy="212.2" r="2.45" fill="#f8604c" fill-opacity="0.93"/><circle cx="150.0" cy="210.6" r="2.45" fill="#f8604c" fill-opacity="0.93"/><circle cx="143.8" cy="196.8" r="2.45" fill="#4a6fe0" fill-opacity="0.93"/><circle cx="146.2" cy="197.5" r="2.45" fill="#4a6fe0" fill-opacity="0.93"/><circle cx="148.5" cy="199.1" r="2.45" fill="#4a6fe0" fill-opacity="0.93"/><circle cx="146.9" cy="201.4" r="2.45" fill="#4a6fe0" fill-opacity="0.93"/><circle cx="150.0" cy="201.4" r="2.45" fill="#4a6fe0" fill-opacity="0.93"/><circle cx="147.7" cy="204.5" r="2.45" fill="#4a6fe0" fill-opacity="0.93"/><circle cx="150.8" cy="203.7" r="2.45" fill="#4a6fe0" fill-opacity="0.93"/><circle cx="144.6" cy="200.6" r="2.45" fill="#4a6fe0" fill-opacity="0.93"/><circle cx="149.2" cy="196.0" r="2.45" fill="#4a6fe0" fill-opacity="0.93"/><circle cx="145.4" cy="206.0" r="2.45" fill="#4a6fe0" fill-opacity="0.93"/><circle cx="131.5" cy="203.7" r="2.45" fill="#f8604c" fill-opacity="0.93"/><circle cx="133.8" cy="203.7" r="2.45" fill="#d9706e" fill-opacity="0.93"/><circle cx="133.1" cy="206.0" r="2.45" fill="#f8604c" fill-opacity="0.93"/><circle cx="128.5" cy="199.1" r="2.45" fill="#4a6fe0" fill-opacity="0.93"/><circle cx="126.9" cy="196.8" r="2.45" fill="#d9706e" fill-opacity="0.93"/><circle cx="124.6" cy="202.2" r="2.45" fill="#f8604c" fill-opacity="0.93"/><circle cx="125.4" cy="203.7" r="2.45" fill="#f8604c" fill-opacity="0.93"/><circle cx="123.1" cy="205.2" r="2.45" fill="#f8604c" fill-opacity="0.93"/><circle cx="163.8" cy="203.7" r="2.45" fill="#4a6fe0" fill-opacity="0.93"/><circle cx="165.4" cy="204.5" r="2.45" fill="#4a6fe0" fill-opacity="0.93"/><circle cx="162.3" cy="201.4" r="2.45" fill="#f8604c" fill-opacity="0.93"/><circle cx="167.7" cy="201.4" r="2.45" fill="#f8604c" fill-opacity="0.93"/><circle cx="169.2" cy="202.9" r="2.45" fill="#f8604c" fill-opacity="0.93"/><circle cx="170.0" cy="200.6" r="2.45" fill="#d9706e" fill-opacity="0.93"/><circle cx="166.9" cy="196.0" r="2.45" fill="#f8604c" fill-opacity="0.93"/><circle cx="167.7" cy="192.9" r="2.45" fill="#f8604c" fill-opacity="0.93"/><circle cx="169.2" cy="192.9" r="2.45" fill="#f8604c" fill-opacity="0.93"/><circle cx="151.5" cy="206.0" r="2.45" fill="#f8604c" fill-opacity="0.93"/><circle cx="152.3" cy="208.3" r="2.45" fill="#f8604c" fill-opacity="0.93"/><circle cx="154.6" cy="206.8" r="2.45" fill="#f8604c" fill-opacity="0.93"/><circle cx="153.8" cy="204.5" r="2.45" fill="#d9706e" fill-opacity="0.93"/><circle cx="156.2" cy="209.8" r="2.45" fill="#f8604c" fill-opacity="0.93"/><circle cx="154.6" cy="212.9" r="2.45" fill="#4a6fe0" fill-opacity="0.93"/><circle cx="156.2" cy="214.5" r="2.45" fill="#4a6fe0" fill-opacity="0.93"/><circle cx="159.2" cy="212.9" r="2.45" fill="#4a6fe0" fill-opacity="0.93"/><circle cx="159.2" cy="209.8" r="2.45" fill="#f8604c" fill-opacity="0.93"/><circle cx="162.3" cy="209.1" r="2.45" fill="#f8604c" fill-opacity="0.93"/><circle cx="173.1" cy="209.1" r="2.45" fill="#f8604c" fill-opacity="0.93"/><circle cx="174.6" cy="208.3" r="2.45" fill="#f8604c" fill-opacity="0.93"/><circle cx="177.7" cy="206.8" r="2.45" fill="#f8604c" fill-opacity="0.93"/><circle cx="180.0" cy="206.0" r="2.45" fill="#f8604c" fill-opacity="0.93"/><circle cx="176.2" cy="210.6" r="2.45" fill="#f8604c" fill-opacity="0.93"/><circle cx="173.8" cy="210.6" r="2.45" fill="#4a6fe0" fill-opacity="0.93"/><circle cx="173.1" cy="207.5" r="2.45" fill="#4a6fe0" fill-opacity="0.93"/><circle cx="176.2" cy="196.8" r="2.45" fill="#d9706e" fill-opacity="0.93"/><circle cx="177.7" cy="194.5" r="2.45" fill="#f8604c" fill-opacity="0.93"/><circle cx="176.9" cy="192.2" r="2.45" fill="#f8604c" fill-opacity="0.93"/><circle cx="177.7" cy="197.5" r="2.45" fill="#f8604c" fill-opacity="0.93"/><circle cx="188.5" cy="196.8" r="2.45" fill="#d9706e" fill-opacity="0.93"/><circle cx="189.2" cy="206.8" r="2.45" fill="#f8604c" fill-opacity="0.93"/><circle cx="190.0" cy="206.0" r="2.45" fill="#f8604c" fill-opacity="0.93"/><circle cx="199.2" cy="201.4" r="3.0" fill="#4a6fe0" fill-opacity="0.93"/><circle cx="197.7" cy="200.6" r="2.45" fill="#4a6fe0" fill-opacity="0.93"/><circle cx="201.5" cy="202.9" r="2.45" fill="#4a6fe0" fill-opacity="0.93"/><circle cx="200.8" cy="199.1" r="2.45" fill="#4a6fe0" fill-opacity="0.93"/><circle cx="198.5" cy="203.7" r="2.45" fill="#4a6fe0" fill-opacity="0.93"/><circle cx="196.2" cy="202.2" r="2.45" fill="#4a6fe0" fill-opacity="0.93"/><circle cx="202.3" cy="201.4" r="2.45" fill="#4a6fe0" fill-opacity="0.93"/><circle cx="203.8" cy="203.7" r="2.45" fill="#4a6fe0" fill-opacity="0.93"/><circle cx="195.4" cy="196.0" r="2.45" fill="#f8604c" fill-opacity="0.93"/><circle cx="194.6" cy="198.3" r="2.45" fill="#f8604c" fill-opacity="0.93"/><circle cx="193.8" cy="196.8" r="2.45" fill="#f8604c" fill-opacity="0.93"/><circle cx="196.9" cy="206.8" r="2.45" fill="#f8604c" fill-opacity="0.93"/><circle cx="200.8" cy="195.2" r="2.45" fill="#4a6fe0" fill-opacity="0.93"/><circle cx="206.2" cy="206.8" r="2.45" fill="#4a6fe0" fill-opacity="0.93"/><circle cx="208.5" cy="196.8" r="2.45" fill="#f8604c" fill-opacity="0.93"/><circle cx="206.9" cy="199.1" r="2.45" fill="#4a6fe0" fill-opacity="0.93"/><circle cx="180.8" cy="213.7" r="2.45" fill="#f8604c" fill-opacity="0.93"/><circle cx="182.3" cy="215.2" r="2.45" fill="#f8604c" fill-opacity="0.93"/><circle cx="189.2" cy="213.7" r="2.45" fill="#f8604c" fill-opacity="0.93"/><circle cx="112.3" cy="209.1" r="2.45" fill="#4a6fe0" fill-opacity="0.93"/><circle cx="111.5" cy="212.2" r="2.45" fill="#4a6fe0" fill-opacity="0.93"/><circle cx="113.1" cy="213.7" r="2.45" fill="#4a6fe0" fill-opacity="0.93"/><circle cx="110.8" cy="206.0" r="2.45" fill="#4a6fe0" fill-opacity="0.93"/><circle cx="117.7" cy="204.5" r="2.45" fill="#f8604c" fill-opacity="0.93"/><circle cx="119.2" cy="210.6" r="2.45" fill="#f8604c" fill-opacity="0.93"/><circle cx="126.9" cy="211.4" r="2.45" fill="#f8604c" fill-opacity="0.93"/><circle cx="126.9" cy="209.1" r="2.45" fill="#4a6fe0" fill-opacity="0.93"/><circle cx="128.5" cy="209.1" r="2.45" fill="#f8604c" fill-opacity="0.93"/><circle cx="117.7" cy="213.7" r="2.45" fill="#f8604c" fill-opacity="0.93"/><circle cx="246.2" cy="167.5" r="3.5" fill="#4a6fe0" fill-opacity="0.93"/><circle cx="248.5" cy="166.8" r="2.45" fill="#4a6fe0" fill-opacity="0.93"/><circle cx="243.8" cy="169.1" r="2.45" fill="#4a6fe0" fill-opacity="0.93"/><circle cx="237.7" cy="167.5" r="2.45" fill="#f8604c" fill-opacity="0.93"/><circle cx="241.5" cy="168.3" r="2.45" fill="#f8604c" fill-opacity="0.93"/><circle cx="210.8" cy="168.3" r="2.45" fill="#f8604c" fill-opacity="0.93"/><circle cx="212.3" cy="166.8" r="2.45" fill="#4a6fe0" fill-opacity="0.93"/><circle cx="222.3" cy="168.3" r="2.45" fill="#f8604c" fill-opacity="0.93"/><circle cx="225.4" cy="169.8" r="2.45" fill="#f8604c" fill-opacity="0.93"/><circle cx="220.0" cy="169.1" r="2.45" fill="#4a6fe0" fill-opacity="0.93"/><circle cx="222.3" cy="166.8" r="2.45" fill="#f8604c" fill-opacity="0.93"/><circle cx="214.6" cy="173.7" r="2.45" fill="#4a6fe0" fill-opacity="0.93"/><circle cx="213.1" cy="176.0" r="2.45" fill="#f8604c" fill-opacity="0.93"/><circle cx="220.0" cy="186.8" r="3.0" fill="#4a6fe0" fill-opacity="0.93"/><circle cx="213.8" cy="186.0" r="2.45" fill="#4a6fe0" fill-opacity="0.93"/><circle cx="217.7" cy="187.5" r="2.45" fill="#4a6fe0" fill-opacity="0.93"/><circle cx="222.3" cy="186.0" r="2.45" fill="#4a6fe0" fill-opacity="0.93"/><circle cx="216.2" cy="183.7" r="2.45" fill="#f8604c" fill-opacity="0.93"/><circle cx="222.3" cy="182.9" r="2.45" fill="#d9706e" fill-opacity="0.93"/><circle cx="216.2" cy="189.1" r="2.45" fill="#f8604c" fill-opacity="0.93"/><circle cx="223.8" cy="191.4" r="2.45" fill="#f8604c" fill-opacity="0.93"/><circle cx="227.7" cy="186.8" r="2.45" fill="#f8604c" fill-opacity="0.93"/><circle cx="219.2" cy="189.8" r="2.45" fill="#4a6fe0" fill-opacity="0.93"/><circle cx="210.0" cy="196.8" r="2.45" fill="#f8604c" fill-opacity="0.93"/><circle cx="211.5" cy="209.1" r="2.45" fill="#4a6fe0" fill-opacity="0.93"/><circle cx="216.9" cy="210.6" r="2.45" fill="#4a6fe0" fill-opacity="0.93"/><circle cx="216.2" cy="212.2" r="2.45" fill="#f8604c" fill-opacity="0.93"/><circle cx="66.6" cy="231.9" r="2.45" fill="#f8604c" fill-opacity="0.93"/><circle cx="73.8" cy="227.2" r="2.45" fill="#4a6fe0" fill-opacity="0.93"/><circle cx="75.5" cy="229.8" r="2.45" fill="#4a6fe0" fill-opacity="0.93"/><circle cx="78.1" cy="232.4" r="2.45" fill="#4a6fe0" fill-opacity="0.93"/><circle cx="80.7" cy="230.7" r="2.45" fill="#4a6fe0" fill-opacity="0.93"/><circle cx="82.4" cy="233.2" r="2.45" fill="#4a6fe0" fill-opacity="0.93"/><circle cx="85.9" cy="231.5" r="2.45" fill="#4a6fe0" fill-opacity="0.93"/><circle cx="89.3" cy="229.8" r="2.45" fill="#4a6fe0" fill-opacity="0.93"/><circle cx="92.8" cy="228.9" r="2.45" fill="#4a6fe0" fill-opacity="0.93"/><circle cx="96.2" cy="227.2" r="2.45" fill="#4a6fe0" fill-opacity="0.93"/><circle cx="99.7" cy="226.3" r="2.45" fill="#4a6fe0" fill-opacity="0.93"/><circle cx="103.1" cy="225.5" r="2.45" fill="#4a6fe0" fill-opacity="0.93"/><circle cx="106.6" cy="223.8" r="2.45" fill="#4a6fe0" fill-opacity="0.93"/><circle cx="109.1" cy="222.9" r="2.45" fill="#4a6fe0" fill-opacity="0.93"/><circle cx="87.6" cy="233.2" r="2.45" fill="#4a6fe0" fill-opacity="0.93"/><circle cx="91.0" cy="232.4" r="2.45" fill="#4a6fe0" fill-opacity="0.93"/><circle cx="77.2" cy="228.1" r="2.45" fill="#4a6fe0" fill-opacity="0.93"/><circle cx="79.0" cy="225.5" r="2.45" fill="#f8604c" fill-opacity="0.93"/><circle cx="81.6" cy="223.8" r="2.45" fill="#f8604c" fill-opacity="0.93"/><circle cx="84.1" cy="224.6" r="2.45" fill="#f8604c" fill-opacity="0.93"/><circle cx="87.6" cy="222.9" r="2.45" fill="#f8604c" fill-opacity="0.93"/><circle cx="80.7" cy="227.2" r="2.45" fill="#f8604c" fill-opacity="0.93"/><circle cx="89.3" cy="221.2" r="2.45" fill="#f8604c" fill-opacity="0.93"/><circle cx="85.9" cy="226.3" r="2.45" fill="#f8604c" fill-opacity="0.93"/><circle cx="90.2" cy="231.5" r="2.45" fill="#d9706e" fill-opacity="0.93"/><circle cx="95.3" cy="233.2" r="2.45" fill="#f8604c" fill-opacity="0.93"/><circle cx="97.1" cy="235.0" r="2.45" fill="#f8604c" fill-opacity="0.93"/><circle cx="99.7" cy="232.4" r="2.45" fill="#f8604c" fill-opacity="0.93"/><circle cx="94.5" cy="223.8" r="2.45" fill="#f8604c" fill-opacity="0.93"/><circle cx="97.9" cy="222.9" r="2.45" fill="#f8604c" fill-opacity="0.93"/><circle cx="101.4" cy="221.2" r="2.45" fill="#f8604c" fill-opacity="0.93"/><circle cx="104.8" cy="219.4" r="2.45" fill="#f8604c" fill-opacity="0.93"/><circle cx="108.3" cy="217.7" r="2.45" fill="#f8604c" fill-opacity="0.93"/><circle cx="104.0" cy="216.9" r="2.45" fill="#f8604c" fill-opacity="0.93"/><circle cx="111.7" cy="217.7" r="2.45" fill="#4a6fe0" fill-opacity="0.93"/><circle cx="114.3" cy="219.4" r="2.45" fill="#4a6fe0" fill-opacity="0.93"/><circle cx="116.9" cy="218.6" r="2.45" fill="#4a6fe0" fill-opacity="0.93"/><circle cx="119.5" cy="217.7" r="2.45" fill="#4a6fe0" fill-opacity="0.93"/><circle cx="122.1" cy="216.9" r="2.45" fill="#4a6fe0" fill-opacity="0.93"/><circle cx="113.4" cy="222.9" r="2.45" fill="#4a6fe0" fill-opacity="0.93"/><circle cx="116.0" cy="224.6" r="2.45" fill="#4a6fe0" fill-opacity="0.93"/><circle cx="111.7" cy="226.3" r="2.45" fill="#4a6fe0" fill-opacity="0.93"/><circle cx="114.3" cy="228.9" r="2.45" fill="#4a6fe0" fill-opacity="0.93"/><circle cx="116.9" cy="230.7" r="2.45" fill="#4a6fe0" fill-opacity="0.93"/><circle cx="112.6" cy="232.4" r="2.45" fill="#4a6fe0" fill-opacity="0.93"/><circle cx="115.2" cy="234.1" r="2.45" fill="#4a6fe0" fill-opacity="0.93"/><circle cx="111.7" cy="236.7" r="2.45" fill="#4a6fe0" fill-opacity="0.93"/><circle cx="111.7" cy="238.4" r="2.45" fill="#f8604c" fill-opacity="0.93"/><circle cx="113.4" cy="237.6" r="2.45" fill="#f8604c" fill-opacity="0.93"/><circle cx="110.9" cy="240.1" r="2.45" fill="#f8604c" fill-opacity="0.93"/><circle cx="117.8" cy="233.2" r="2.45" fill="#4a6fe0" fill-opacity="0.93"/><circle cx="118.6" cy="221.2" r="2.45" fill="#f8604c" fill-opacity="0.93"/><circle cx="120.3" cy="223.8" r="2.45" fill="#f8604c" fill-opacity="0.93"/><circle cx="117.8" cy="225.5" r="2.45" fill="#f8604c" fill-opacity="0.93"/><circle cx="127.2" cy="222.9" r="2.45" fill="#f8604c" fill-opacity="0.93"/><circle cx="125.5" cy="218.6" r="2.45" fill="#4a6fe0" fill-opacity="0.93"/><circle cx="129.0" cy="225.5" r="2.45" fill="#4a6fe0" fill-opacity="0.93"/><circle cx="128.1" cy="228.1" r="2.45" fill="#4a6fe0" fill-opacity="0.93"/><circle cx="129.0" cy="228.9" r="2.45" fill="#d9706e" fill-opacity="0.93"/><circle cx="130.7" cy="226.3" r="2.45" fill="#4a6fe0" fill-opacity="0.93"/><circle cx="123.8" cy="239.3" r="2.45" fill="#f8604c" fill-opacity="0.93"/><circle cx="122.1" cy="236.7" r="2.45" fill="#4a6fe0" fill-opacity="0.93"/><circle cx="128.1" cy="216.0" r="2.45" fill="#f8604c" fill-opacity="0.93"/><circle cx="132.4" cy="216.9" r="2.45" fill="#f8604c" fill-opacity="0.93"/><circle cx="134.1" cy="217.7" r="2.45" fill="#f8604c" fill-opacity="0.93"/><circle cx="142.8" cy="218.6" r="2.45" fill="#f8604c" fill-opacity="0.93"/><circle cx="144.5" cy="222.9" r="2.45" fill="#f8604c" fill-opacity="0.93"/><circle cx="147.1" cy="221.2" r="2.45" fill="#f8604c" fill-opacity="0.93"/><circle cx="149.7" cy="221.2" r="2.45" fill="#d9706e" fill-opacity="0.93"/><circle cx="141.9" cy="223.8" r="2.45" fill="#4a6fe0" fill-opacity="0.93"/><circle cx="145.3" cy="225.5" r="2.45" fill="#4a6fe0" fill-opacity="0.93"/><circle cx="147.1" cy="229.8" r="2.45" fill="#4a6fe0" fill-opacity="0.93"/><circle cx="144.5" cy="228.1" r="2.45" fill="#f8604c" fill-opacity="0.93"/><circle cx="146.2" cy="219.4" r="2.45" fill="#4a6fe0" fill-opacity="0.93"/><circle cx="161.7" cy="222.9" r="2.45" fill="#f8604c" fill-opacity="0.93"/><circle cx="163.4" cy="224.6" r="2.45" fill="#f8604c" fill-opacity="0.93"/><circle cx="166.0" cy="223.8" r="2.45" fill="#f8604c" fill-opacity="0.93"/><circle cx="161.7" cy="228.1" r="2.45" fill="#4a6fe0" fill-opacity="0.93"/><circle cx="164.3" cy="228.9" r="2.45" fill="#4a6fe0" fill-opacity="0.93"/><circle cx="165.2" cy="226.3" r="2.45" fill="#4a6fe0" fill-opacity="0.93"/><circle cx="160.0" cy="226.3" r="2.45" fill="#f8604c" fill-opacity="0.93"/><circle cx="180.3" cy="223.8" r="2.45" fill="#f8604c" fill-opacity="0.93"/><circle cx="184.1" cy="221.2" r="2.45" fill="#4a6fe0" fill-opacity="0.93"/><circle cx="186.7" cy="218.6" r="2.45" fill="#4a6fe0" fill-opacity="0.93"/><circle cx="185.9" cy="222.9" r="2.45" fill="#4a6fe0" fill-opacity="0.93"/><circle cx="188.4" cy="223.8" r="2.45" fill="#f8604c" fill-opacity="0.93"/><circle cx="191.0" cy="222.0" r="2.45" fill="#f8604c" fill-opacity="0.93"/><circle cx="193.6" cy="220.3" r="2.45" fill="#f8604c" fill-opacity="0.93"/><circle cx="190.2" cy="218.6" r="2.45" fill="#f8604c" fill-opacity="0.93"/><circle cx="181.6" cy="216.0" r="2.45" fill="#f8604c" fill-opacity="0.93"/><circle cx="171.2" cy="235.8" r="2.45" fill="#f8604c" fill-opacity="0.93"/><circle cx="170.3" cy="235.0" r="2.45" fill="#4a6fe0" fill-opacity="0.93"/><circle cx="173.8" cy="240.1" r="2.45" fill="#4a6fe0" fill-opacity="0.93"/><circle cx="171.2" cy="241.9" r="2.45" fill="#f8604c" fill-opacity="0.93"/><circle cx="173.8" cy="242.7" r="2.45" fill="#f8604c" fill-opacity="0.93"/><circle cx="176.4" cy="243.6" r="2.45" fill="#f8604c" fill-opacity="0.93"/><circle cx="178.1" cy="243.6" r="2.45" fill="#d9706e" fill-opacity="0.93"/><circle cx="172.1" cy="241.9" r="2.45" fill="#d9706e" fill-opacity="0.93"/><circle cx="152.2" cy="236.7" r="2.45" fill="#4a6fe0" fill-opacity="0.93"/><circle cx="154.8" cy="239.3" r="2.45" fill="#f8604c" fill-opacity="0.93"/><circle cx="154.0" cy="240.1" r="2.45" fill="#f8604c" fill-opacity="0.93"/><circle cx="127.2" cy="246.2" r="2.45" fill="#4a6fe0" fill-opacity="0.93"/><circle cx="129.8" cy="247.0" r="2.45" fill="#4a6fe0" fill-opacity="0.93"/><circle cx="128.6" cy="249.6" r="2.45" fill="#f8604c" fill-opacity="0.93"/><circle cx="131.6" cy="244.4" r="2.45" fill="#4a6fe0" fill-opacity="0.93"/><circle cx="133.3" cy="241.9" r="2.45" fill="#4a6fe0" fill-opacity="0.93"/><circle cx="135.0" cy="240.1" r="2.45" fill="#4a6fe0" fill-opacity="0.93"/><circle cx="134.1" cy="243.6" r="2.45" fill="#4a6fe0" fill-opacity="0.93"/><circle cx="135.9" cy="242.7" r="2.45" fill="#4a6fe0" fill-opacity="0.93"/><circle cx="132.4" cy="246.2" r="2.45" fill="#4a6fe0" fill-opacity="0.93"/><circle cx="125.5" cy="251.3" r="2.45" fill="#4a6fe0" fill-opacity="0.93"/><circle cx="122.9" cy="253.1" r="2.45" fill="#4a6fe0" fill-opacity="0.93"/><circle cx="113.4" cy="250.5" r="2.45" fill="#4a6fe0" fill-opacity="0.93"/><circle cx="115.2" cy="253.1" r="2.45" fill="#4a6fe0" fill-opacity="0.93"/><circle cx="117.8" cy="255.7" r="2.45" fill="#4a6fe0" fill-opacity="0.93"/><circle cx="119.5" cy="257.4" r="2.45" fill="#4a6fe0" fill-opacity="0.93"/><circle cx="120.3" cy="254.8" r="2.45" fill="#4a6fe0" fill-opacity="0.93"/><circle cx="116.0" cy="248.8" r="2.45" fill="#f8604c" fill-opacity="0.93"/><circle cx="118.6" cy="251.3" r="2.45" fill="#f8604c" fill-opacity="0.93"/><circle cx="116.9" cy="253.1" r="2.45" fill="#f8604c" fill-opacity="0.93"/><circle cx="139.3" cy="256.5" r="2.45" fill="#f8604c" fill-opacity="0.93"/><circle cx="141.9" cy="255.7" r="2.45" fill="#f8604c" fill-opacity="0.93"/><circle cx="143.6" cy="254.8" r="2.45" fill="#f8604c" fill-opacity="0.93"/><circle cx="141.0" cy="260.0" r="2.45" fill="#f8604c" fill-opacity="0.93"/><circle cx="138.4" cy="258.2" r="2.45" fill="#f8604c" fill-opacity="0.93"/><circle cx="140.2" cy="258.2" r="2.45" fill="#d9706e" fill-opacity="0.93"/><circle cx="137.6" cy="257.4" r="2.45" fill="#4a6fe0" fill-opacity="0.93"/><circle cx="159.1" cy="254.8" r="2.45" fill="#4a6fe0" fill-opacity="0.93"/><circle cx="159.1" cy="255.3" r="1.3" fill="#d9706e" fill-opacity="0.93"/><circle cx="107.3" cy="193.5" r="2.45" fill="#f8604c" fill-opacity="0.93"/><circle cx="108.8" cy="198.8" r="2.45" fill="#f8604c" fill-opacity="0.93"/><circle cx="109.6" cy="200.4" r="2.45" fill="#f8604c" fill-opacity="0.93"/><circle cx="95.0" cy="212.7" r="2.45" fill="#f8604c" fill-opacity="0.93"/><circle cx="91.2" cy="216.5" r="2.45" fill="#f8604c" fill-opacity="0.93"/><circle cx="97.3" cy="218.8" r="2.45" fill="#f8604c" fill-opacity="0.93"/><circle cx="108.1" cy="211.2" r="2.45" fill="#4a6fe0" fill-opacity="0.93"/><circle cx="110.4" cy="209.6" r="2.45" fill="#4a6fe0" fill-opacity="0.93"/><circle cx="112.7" cy="211.9" r="2.45" fill="#4a6fe0" fill-opacity="0.93"/><circle cx="115.8" cy="214.2" r="2.45" fill="#4a6fe0" fill-opacity="0.93"/><circle cx="111.9" cy="215.8" r="2.45" fill="#4a6fe0" fill-opacity="0.93"/><circle cx="114.2" cy="217.3" r="2.45" fill="#4a6fe0" fill-opacity="0.93"/><circle cx="117.3" cy="218.1" r="2.45" fill="#4a6fe0" fill-opacity="0.93"/><circle cx="119.6" cy="218.8" r="2.45" fill="#4a6fe0" fill-opacity="0.93"/><circle cx="121.9" cy="221.2" r="2.45" fill="#4a6fe0" fill-opacity="0.93"/><circle cx="109.6" cy="213.5" r="2.45" fill="#4a6fe0" fill-opacity="0.93"/><circle cx="107.3" cy="215.8" r="2.45" fill="#4a6fe0" fill-opacity="0.93"/><circle cx="105.0" cy="218.1" r="2.45" fill="#4a6fe0" fill-opacity="0.93"/><circle cx="103.5" cy="220.4" r="2.45" fill="#4a6fe0" fill-opacity="0.93"/><circle cx="101.9" cy="222.7" r="2.45" fill="#4a6fe0" fill-opacity="0.93"/><circle cx="99.6" cy="224.2" r="2.45" fill="#4a6fe0" fill-opacity="0.93"/><circle cx="97.3" cy="225.8" r="2.45" fill="#4a6fe0" fill-opacity="0.93"/><circle cx="94.2" cy="226.5" r="2.45" fill="#4a6fe0" fill-opacity="0.93"/><circle cx="91.2" cy="228.1" r="2.45" fill="#4a6fe0" fill-opacity="0.93"/><circle cx="88.1" cy="229.6" r="2.45" fill="#4a6fe0" fill-opacity="0.93"/><circle cx="85.8" cy="231.2" r="2.45" fill="#4a6fe0" fill-opacity="0.93"/><circle cx="85.0" cy="205.8" r="2.45" fill="#4a6fe0" fill-opacity="0.93"/><circle cx="87.3" cy="206.5" r="2.45" fill="#4a6fe0" fill-opacity="0.93"/><circle cx="85.8" cy="209.6" r="2.45" fill="#4a6fe0" fill-opacity="0.93"/><circle cx="108.1" cy="229.6" r="2.45" fill="#4a6fe0" fill-opacity="0.93"/><circle cx="110.4" cy="231.2" r="2.45" fill="#4a6fe0" fill-opacity="0.93"/><circle cx="112.7" cy="228.8" r="2.45" fill="#4a6fe0" fill-opacity="0.93"/><circle cx="106.5" cy="232.7" r="2.45" fill="#4a6fe0" fill-opacity="0.93"/><circle cx="111.9" cy="233.5" r="2.45" fill="#4a6fe0" fill-opacity="0.93"/><circle cx="115.0" cy="231.2" r="2.45" fill="#4a6fe0" fill-opacity="0.93"/><circle cx="239.4" cy="115.2" r="4.2" fill="#4a6fe0" fill-opacity="0.93"/><circle cx="229.3" cy="138.2" r="5.0" fill="#4a6fe0" fill-opacity="0.93"/><circle cx="245.2" cy="167.0" r="5.6" fill="#4a6fe0" fill-opacity="0.93"/><circle cx="200.5" cy="201.5" r="4.2" fill="#4a6fe0" fill-opacity="0.93"/><circle cx="220.8" cy="186.0" r="3.0" fill="#4a6fe0" fill-opacity="0.93"/><circle cx="186.0" cy="218.5" r="3.0" fill="#4a6fe0" fill-opacity="0.93"/><circle cx="40.5" cy="198.5" r="3.8" fill="#f8604c" fill-opacity="0.93"/><circle cx="37.5" cy="152.0" r="3.3" fill="#4a6fe0" fill-opacity="0.93"/><circle cx="66.5" cy="192.5" r="3.2" fill="#f8604c" fill-opacity="0.93"/><circle cx="200.5" cy="74.0" r="3.2" fill="#4a6fe0" fill-opacity="0.93"/><circle cx="216.8" cy="86.2" r="3.6" fill="#4a6fe0" fill-opacity="0.93"/><circle cx="78.6" cy="226.3" r="2.45" fill="#f8604c" fill-opacity="0.93"/><circle cx="82.0" cy="224.6" r="2.45" fill="#f8604c" fill-opacity="0.93"/><circle cx="85.4" cy="225.5" r="2.45" fill="#f8604c" fill-opacity="0.93"/><circle cx="80.3" cy="228.0" r="2.45" fill="#f8604c" fill-opacity="0.93"/><circle cx="87.0" cy="223.0" r="2.45" fill="#f8604c" fill-opacity="0.93"/><circle cx="176.5" cy="56.3" r="11.7" fill="none" stroke="#111" stroke-width="0.9"/><circle cx="65.5" cy="68.3" r="9.8" fill="none" stroke="#111" stroke-width="0.9"/><circle cx="69.2" cy="90.0" r="12.7" fill="none" stroke="#111" stroke-width="0.9"/><circle cx="108.7" cy="196.6" r="6.1" fill="none" stroke="#111" stroke-width="0.9"/><circle cx="94.2" cy="215.1" r="6.6" fill="none" stroke="#111" stroke-width="0.9"/><circle cx="110.4" cy="234.7" r="9.5" fill="none" stroke="#111" stroke-width="0.9"/><circle cx="128.1" cy="248.8" r="6.9" fill="none" stroke="#111" stroke-width="0.9"/><circle cx="153.4" cy="238.4" r="6.9" fill="none" stroke="#111" stroke-width="0.9"/><text x="189.2" y="49.5" font-size="8.2" text-anchor="middle">1</text><text x="63.5" y="57.5" font-size="8.2" text-anchor="middle">2</text><text x="55.0" y="102.0" font-size="8.2" text-anchor="middle">3</text><text x="102.1" y="206.5" font-size="8.2" text-anchor="middle">4</text><text x="81.0" y="220.7" font-size="8.2" text-anchor="middle">5</text><text x="101.0" y="246.2" font-size="8.2" text-anchor="middle">6</text><text x="132.4" y="262.5" font-size="8.2" text-anchor="middle">7</text><text x="162.6" y="249.0" font-size="8.2" text-anchor="middle">8</text></g>
<rect x="9.8" y="15.6" width="250.5" height="256.4" fill="none" stroke="#000" stroke-width="1.2"/>
<text x="9.6" y="282.50" font-size="6.87" xml:space="preserve"><tspan fill="#1a1a1a" stroke="#1a1a1a">1. </tspan><tspan fill="#4a6ede" stroke="#4a6ede">Etoposide, Daunorubicin</tspan><tspan fill="#1a1a1a" stroke="#1a1a1a"> - </tspan><tspan fill="#f25a48" stroke="#f25a48">Leukemia, Kaposi&#39;s sarcoma</tspan><tspan fill="#1a1a1a" stroke="#1a1a1a"> (TOP2A, TOP2B)</tspan></text>
<text x="9.6" y="290.70" font-size="6.87" xml:space="preserve"><tspan fill="#1a1a1a" stroke="#1a1a1a">2. </tspan><tspan fill="#4a6ede" stroke="#4a6ede">Sermorelin, Testosterone</tspan><tspan fill="#1a1a1a" stroke="#1a1a1a"> - </tspan><tspan fill="#f25a48" stroke="#f25a48">Hypogonadism, Hypopituitarism</tspan><tspan fill="#1a1a1a" stroke="#1a1a1a"> (GHRGR, NR3C2, AR)</tspan></text>
<text x="9.6" y="298.90" font-size="6.87" xml:space="preserve"><tspan fill="#1a1a1a" stroke="#1a1a1a">3. </tspan><tspan fill="#4a6ede" stroke="#4a6ede">Cortisone, Prednisolone</tspan><tspan fill="#1a1a1a" stroke="#1a1a1a"> - </tspan><tspan fill="#f25a48" stroke="#f25a48">Dermatitis, Eosinophilia, Edema</tspan><tspan fill="#1a1a1a" stroke="#1a1a1a"> (NR3C1)</tspan></text>
<text x="9.6" y="307.10" font-size="6.87" xml:space="preserve"><tspan fill="#1a1a1a" stroke="#1a1a1a">4. </tspan><tspan fill="#4a6ede" stroke="#4a6ede">Somatostatin, Lanreotide</tspan><tspan fill="#1a1a1a" stroke="#1a1a1a"> - </tspan><tspan fill="#f25a48" stroke="#f25a48">Hyperpituitarism, Acromegaly</tspan><tspan fill="#1a1a1a" stroke="#1a1a1a"> (SSTR1-5)</tspan></text>
<text x="9.6" y="315.30" font-size="6.87" xml:space="preserve"><tspan fill="#1a1a1a" stroke="#1a1a1a">5. </tspan><tspan fill="#4a6ede" stroke="#4a6ede">Carbidopa</tspan><tspan fill="#1a1a1a" stroke="#1a1a1a"> - </tspan><tspan fill="#f25a48" stroke="#f25a48">Parkinson</tspan><tspan fill="#1a1a1a" stroke="#1a1a1a"> (DDC)</tspan></text>
<text x="9.6" y="323.50" font-size="6.87" xml:space="preserve"><tspan fill="#1a1a1a" stroke="#1a1a1a">6. </tspan><tspan fill="#4a6ede" stroke="#4a6ede">Protriptyline</tspan><tspan fill="#1a1a1a" stroke="#1a1a1a"> - </tspan><tspan fill="#f25a48" stroke="#f25a48">Melancholia</tspan><tspan fill="#1a1a1a" stroke="#1a1a1a"> (SLC6A2-4)</tspan></text>
<text x="137.3" y="315.30" font-size="6.87" xml:space="preserve"><tspan fill="#1a1a1a" stroke="#1a1a1a">7. </tspan><tspan fill="#4a6ede" stroke="#4a6ede">Betahistine</tspan><tspan fill="#1a1a1a" stroke="#1a1a1a"> - </tspan><tspan fill="#f25a48" stroke="#f25a48">Vertigo, Vestibular disease</tspan><tspan fill="#1a1a1a" stroke="#1a1a1a"> (HRH1, HRH3)</tspan></text>
<text x="137.8" y="323.50" font-size="6.87" xml:space="preserve"><tspan fill="#1a1a1a" stroke="#1a1a1a">8. </tspan><tspan fill="#4a6ede" stroke="#4a6ede">Tolvaptan</tspan><tspan fill="#1a1a1a" stroke="#1a1a1a"> - </tspan><tspan fill="#f25a48" stroke="#f25a48">ADH syndrome</tspan><tspan fill="#1a1a1a" stroke="#1a1a1a"> (AVPR1A, AVPR2)</tspan></text>
<text x="291.6" y="8" font-size="11" font-weight="bold">b</text>
<text transform="translate(372.7 11.5) scale(1 1.08)" font-size="9.5" text-anchor="middle">Network recovery</text>
<path d="M340.60 16.00V125.00M319.20 103.20H426.20M362.00 16.00V125.00M319.20 81.40H426.20M383.40 16.00V125.00M319.20 59.60H426.20M404.80 16.00V125.00M319.20 37.80H426.20" stroke="#999" stroke-width="0.75" stroke-dasharray="2.8 0.95" fill="none"/>
<path d="M319.2 125.0L426.2 16.0" stroke="#111" stroke-width="1.5" stroke-dasharray="5.2 2.8" fill="none"/>
<rect x="389" y="80.5" width="36" height="22" fill="#fff"/>
<path d="M319.20 125.00 L319.41 118.36 L319.63 112.14 L319.84 106.50 L320.06 101.61 L320.27 97.22 L320.48 93.19 L320.70 89.45 L320.91 85.98 L321.13 82.74 L321.34 79.65 L321.55 76.61 L321.77 73.64 L321.98 70.78 L322.20 68.08 L322.41 65.56 L322.62 63.29 L322.84 61.28 L323.05 59.60 L323.27 58.19 L323.48 56.95 L323.69 55.85 L323.91 54.85 L324.12 53.92 L324.34 53.03 L324.55 52.16 L324.76 51.33 L325.31 49.32 L325.86 47.49 L326.40 45.81 L326.95 44.26 L327.49 42.82 L328.04 41.44 L328.59 40.14 L329.13 38.95 L329.68 37.87 L330.22 36.93 L330.77 36.11 L331.32 35.35 L331.86 34.65 L332.41 34.00 L332.96 33.39 L333.50 32.81 L334.05 32.26 L334.59 31.73 L335.14 31.21 L335.69 30.69 L336.23 30.19 L336.78 29.70 L337.32 29.22 L337.87 28.76 L338.42 28.33 L338.96 27.91 L339.51 27.53 L340.05 27.17 L340.60 26.84 L341.67 26.24 L343.84 25.17 L346.00 24.24 L348.17 23.43 L350.34 22.70 L352.51 22.04 L354.67 21.45 L356.84 20.92 L359.01 20.44 L361.18 19.99 L363.34 19.58 L365.51 19.21 L367.68 18.90 L369.85 18.62 L372.01 18.35 L374.18 18.11 L376.35 17.89 L378.52 17.68 L380.68 17.50 L382.85 17.34 L385.02 17.21 L387.19 17.07 L389.35 16.95 L391.52 16.83 L393.69 16.73 L395.86 16.63 L398.02 16.54 L400.19 16.46 L402.36 16.39 L404.53 16.33 L406.69 16.28 L408.86 16.24 L411.03 16.19 L413.20 16.14 L415.36 16.10 L417.53 16.07 L419.70 16.04 L421.87 16.02 L424.03 16.00 L426.20 16.00" stroke="#e2275b" stroke-width="1.5" fill="none" stroke-linejoin="round"/>
<path d="M319.2 16.0H426.2V125.0" stroke="#111" stroke-width="1.3" fill="none"/>
<path d="M319.2 15.5V125.0H426.7M312.70 125.00H319.2M319.20 125.0V132.30M312.70 103.20H319.2M340.60 125.0V132.30M312.70 81.40H319.2M362.00 125.0V132.30M312.70 59.60H319.2M383.40 125.0V132.30M312.70 37.80H319.2M404.80 125.0V132.30M312.70 16.00H319.2M426.20 125.0V132.30" stroke="#111" stroke-width="1.3" fill="none"/>
<text transform="translate(309.0 130.20) scale(0.97 1.08)" font-size="9" text-anchor="end">0</text>
<text transform="translate(319.20 142.6) scale(0.97 1.08)" font-size="9" text-anchor="middle">0</text>
<text transform="translate(309.0 108.40) scale(0.97 1.08)" font-size="9" text-anchor="end">0.2</text>
<text transform="translate(340.60 142.6) scale(0.97 1.08)" font-size="9" text-anchor="middle">0.2</text>
<text transform="translate(309.0 86.60) scale(0.97 1.08)" font-size="9" text-anchor="end">0.4</text>
<text transform="translate(362.00 142.6) scale(0.97 1.08)" font-size="9" text-anchor="middle">0.4</text>
<text transform="translate(309.0 64.80) scale(0.97 1.08)" font-size="9" text-anchor="end">0.6</text>
<text transform="translate(383.40 142.6) scale(0.97 1.08)" font-size="9" text-anchor="middle">0.6</text>
<text transform="translate(309.0 43.00) scale(0.97 1.08)" font-size="9" text-anchor="end">0.8</text>
<text transform="translate(404.80 142.6) scale(0.97 1.08)" font-size="9" text-anchor="middle">0.8</text>
<text transform="translate(309.0 21.20) scale(0.97 1.08)" font-size="9" text-anchor="end">1</text>
<text transform="translate(426.20 142.6) scale(0.97 1.08)" font-size="9" text-anchor="middle">1</text>
<text x="372.5" y="153.4" font-size="9.5" text-anchor="middle">FPR</text>
<text transform="translate(292.3 73.9) rotate(-90)" font-size="9.5" text-anchor="middle">TPR</text>
<text x="407.5" y="91" font-size="9.5" text-anchor="middle">AUROC</text>
<path d="M391.6 97.4H401" stroke="#e0245e" stroke-width="1.3"/>
<text x="405.5" y="100.8" font-size="9.5">0.93</text>
<text x="291.5" y="164" font-size="11" font-weight="bold">c</text>
<text transform="translate(372.7 175.7) scale(1 1.08)" font-size="9.5" text-anchor="middle">Embedding vectors</text>
<text x="316.9" y="185.60" font-size="8" text-anchor="end">Leukemia</text>
<text x="316.9" y="195.40" font-size="8" text-anchor="end">Kaposi</text>
<text x="316.9" y="205.20" font-size="8" text-anchor="end">Etoposide</text>
<g><rect x="319.20" y="179.3" width="1.22" height="9.60" fill="#fee08b"/><rect x="320.27" y="179.3" width="1.22" height="9.60" fill="#fee08b"/><rect x="321.34" y="179.3" width="1.22" height="9.60" fill="#abdda4"/><rect x="322.42" y="179.3" width="1.22" height="9.60" fill="#fee08b"/><rect x="323.49" y="179.3" width="1.22" height="9.60" fill="#fee08b"/><rect x="324.56" y="179.3" width="1.22" height="9.60" fill="#ffffbf"/><rect x="325.63" y="179.3" width="1.22" height="9.60" fill="#fdae61"/><rect x="326.70" y="179.3" width="1.22" height="9.60" fill="#fee08b"/><rect x="327.78" y="179.3" width="1.22" height="9.60" fill="#ffffbf"/><rect x="328.85" y="179.3" width="1.22" height="9.60" fill="#e6f598"/><rect x="329.92" y="179.3" width="1.22" height="9.60" fill="#c8344c"/><rect x="330.99" y="179.3" width="1.22" height="9.60" fill="#fee08b"/><rect x="332.06" y="179.3" width="1.22" height="9.60" fill="#fdae61"/><rect x="333.14" y="179.3" width="1.22" height="9.60" fill="#e6f598"/><rect x="334.21" y="179.3" width="1.22" height="9.60" fill="#ffffbf"/><rect x="335.28" y="179.3" width="1.22" height="9.60" fill="#f46d43"/><rect x="336.35" y="179.3" width="1.22" height="9.60" fill="#66c2a5"/><rect x="337.42" y="179.3" width="1.22" height="9.60" fill="#abdda4"/><rect x="338.50" y="179.3" width="1.22" height="9.60" fill="#ffffbf"/><rect x="339.57" y="179.3" width="1.22" height="9.60" fill="#f46d43"/><rect x="340.64" y="179.3" width="1.22" height="9.60" fill="#f88a50"/><rect x="341.71" y="179.3" width="1.22" height="9.60" fill="#f46d43"/><rect x="342.78" y="179.3" width="1.22" height="9.60" fill="#fee08b"/><rect x="343.86" y="179.3" width="1.22" height="9.60" fill="#fdae61"/><rect x="344.93" y="179.3" width="1.22" height="9.60" fill="#fdae61"/><rect x="346.00" y="179.3" width="1.22" height="9.60" fill="#fdae61"/><rect x="347.07" y="179.3" width="1.22" height="9.60" fill="#f46d43"/><rect x="348.14" y="179.3" width="1.22" height="9.60" fill="#fee08b"/><rect x="349.22" y="179.3" width="1.22" height="9.60" fill="#fee08b"/><rect x="350.29" y="179.3" width="1.22" height="9.60" fill="#e6f598"/><rect x="351.36" y="179.3" width="1.22" height="9.60" fill="#fee08b"/><rect x="352.43" y="179.3" width="1.22" height="9.60" fill="#ffffbf"/><rect x="353.50" y="179.3" width="1.22" height="9.60" fill="#fee08b"/><rect x="354.58" y="179.3" width="1.22" height="9.60" fill="#ffffbf"/><rect x="355.65" y="179.3" width="1.22" height="9.60" fill="#fee08b"/><rect x="356.72" y="179.3" width="1.22" height="9.60" fill="#fdae61"/><rect x="357.79" y="179.3" width="1.22" height="9.60" fill="#3288bd"/><rect x="358.86" y="179.3" width="1.22" height="9.60" fill="#66c2a5"/><rect x="359.94" y="179.3" width="1.22" height="9.60" fill="#e6f598"/><rect x="361.01" y="179.3" width="1.22" height="9.60" fill="#ffffbf"/><rect x="362.08" y="179.3" width="1.22" height="9.60" fill="#fee08b"/><rect x="363.15" y="179.3" width="1.22" height="9.60" fill="#fdae61"/><rect x="364.22" y="179.3" width="1.22" height="9.60" fill="#66c2a5"/><rect x="365.30" y="179.3" width="1.22" height="9.60" fill="#66c2a5"/><rect x="366.37" y="179.3" width="1.22" height="9.60" fill="#4a86c0"/><rect x="367.44" y="179.3" width="1.22" height="9.60" fill="#fee08b"/><rect x="368.51" y="179.3" width="1.22" height="9.60" fill="#e6f598"/><rect x="369.58" y="179.3" width="1.22" height="9.60" fill="#fee08b"/><rect x="370.66" y="179.3" width="1.22" height="9.60" fill="#abdda4"/><rect x="371.73" y="179.3" width="1.22" height="9.60" fill="#e6f598"/><rect x="372.80" y="179.3" width="1.22" height="9.60" fill="#d53e4f"/><rect x="373.87" y="179.3" width="1.22" height="9.60" fill="#fdae61"/><rect x="374.94" y="179.3" width="1.22" height="9.60" fill="#abdda4"/><rect x="376.02" y="179.3" width="1.22" height="9.60" fill="#fee08b"/><rect x="377.09" y="179.3" width="1.22" height="9.60" fill="#66c2a5"/><rect x="378.16" y="179.3" width="1.22" height="9.60" fill="#fee08b"/><rect x="379.23" y="179.3" width="1.22" height="9.60" fill="#fdae61"/><rect x="380.30" y="179.3" width="1.22" height="9.60" fill="#ffffbf"/><rect x="381.38" y="179.3" width="1.22" height="9.60" fill="#e6f598"/><rect x="382.45" y="179.3" width="1.22" height="9.60" fill="#fdae61"/><rect x="383.52" y="179.3" width="1.22" height="9.60" fill="#f06040"/><rect x="384.59" y="179.3" width="1.22" height="9.60" fill="#f46d43"/><rect x="385.66" y="179.3" width="1.22" height="9.60" fill="#abdda4"/><rect x="386.74" y="179.3" width="1.22" height="9.60" fill="#e6f598"/><rect x="387.81" y="179.3" width="1.22" height="9.60" fill="#fdae61"/><rect x="388.88" y="179.3" width="1.22" height="9.60" fill="#fdae61"/><rect x="389.95" y="179.3" width="1.22" height="9.60" fill="#fdae61"/><rect x="391.02" y="179.3" width="1.22" height="9.60" fill="#fdae61"/><rect x="392.10" y="179.3" width="1.22" height="9.60" fill="#e6f598"/><rect x="393.17" y="179.3" width="1.22" height="9.60" fill="#fdae61"/><rect x="394.24" y="179.3" width="1.22" height="9.60" fill="#fee08b"/><rect x="395.31" y="179.3" width="1.22" height="9.60" fill="#fee08b"/><rect x="396.38" y="179.3" width="1.22" height="9.60" fill="#fdae61"/><rect x="397.46" y="179.3" width="1.22" height="9.60" fill="#ffffbf"/><rect x="398.53" y="179.3" width="1.22" height="9.60" fill="#f46d43"/><rect x="399.60" y="179.3" width="1.22" height="9.60" fill="#ffffbf"/><rect x="400.67" y="179.3" width="1.22" height="9.60" fill="#fdae61"/><rect x="401.74" y="179.3" width="1.22" height="9.60" fill="#d9464e"/><rect x="402.82" y="179.3" width="1.22" height="9.60" fill="#fdae61"/><rect x="403.89" y="179.3" width="1.22" height="9.60" fill="#fdae61"/><rect x="404.96" y="179.3" width="1.22" height="9.60" fill="#abdda4"/><rect x="406.03" y="179.3" width="1.22" height="9.60" fill="#e6f598"/><rect x="407.10" y="179.3" width="1.22" height="9.60" fill="#fee08b"/><rect x="408.18" y="179.3" width="1.22" height="9.60" fill="#e6f598"/><rect x="409.25" y="179.3" width="1.22" height="9.60" fill="#fdae61"/><rect x="410.32" y="179.3" width="1.22" height="9.60" fill="#c8344c"/><rect x="411.39" y="179.3" width="1.22" height="9.60" fill="#e6f598"/><rect x="412.46" y="179.3" width="1.22" height="9.60" fill="#ffffbf"/><rect x="413.54" y="179.3" width="1.22" height="9.60" fill="#fdae61"/><rect x="414.61" y="179.3" width="1.22" height="9.60" fill="#66c2a5"/><rect x="415.68" y="179.3" width="1.22" height="9.60" fill="#fdae61"/><rect x="416.75" y="179.3" width="1.22" height="9.60" fill="#fdae61"/><rect x="417.82" y="179.3" width="1.22" height="9.60" fill="#e6f598"/><rect x="418.90" y="179.3" width="1.22" height="9.60" fill="#fee08b"/><rect x="419.97" y="179.3" width="1.22" height="9.60" fill="#fee08b"/><rect x="421.04" y="179.3" width="1.22" height="9.60" fill="#fdae61"/><rect x="422.11" y="179.3" width="1.22" height="9.60" fill="#fdae61"/><rect x="423.18" y="179.3" width="1.22" height="9.60" fill="#fee08b"/><rect x="424.26" y="179.3" width="1.22" height="9.60" fill="#fdae61"/><rect x="425.33" y="179.3" width="1.22" height="9.60" fill="#ffffbf"/><rect x="319.20" y="188.9" width="1.22" height="9.50" fill="#fee08b"/><rect x="320.27" y="188.9" width="1.22" height="9.50" fill="#fee08b"/><rect x="321.34" y="188.9" width="1.22" height="9.50" fill="#abdda4"/><rect x="322.42" y="188.9" width="1.22" height="9.50" fill="#fee08b"/><rect x="323.49" y="188.9" width="1.22" height="9.50" fill="#fee08b"/><rect x="324.56" y="188.9" width="1.22" height="9.50" fill="#e6f598"/><rect x="325.63" y="188.9" width="1.22" height="9.50" fill="#fdae61"/><rect x="326.70" y="188.9" width="1.22" height="9.50" fill="#fdae61"/><rect x="327.78" y="188.9" width="1.22" height="9.50" fill="#abdda4"/><rect x="328.85" y="188.9" width="1.22" height="9.50" fill="#e6f598"/><rect x="329.92" y="188.9" width="1.22" height="9.50" fill="#fdae61"/><rect x="330.99" y="188.9" width="1.22" height="9.50" fill="#fdae61"/><rect x="332.06" y="188.9" width="1.22" height="9.50" fill="#ffffbf"/><rect x="333.14" y="188.9" width="1.22" height="9.50" fill="#abdda4"/><rect x="334.21" y="188.9" width="1.22" height="9.50" fill="#fdae61"/><rect x="335.28" y="188.9" width="1.22" height="9.50" fill="#abdda4"/><rect x="336.35" y="188.9" width="1.22" height="9.50" fill="#e6f598"/><rect x="337.42" y="188.9" width="1.22" height="9.50" fill="#ffffbf"/><rect x="338.50" y="188.9" width="1.22" height="9.50" fill="#c8344c"/><rect x="339.57" y="188.9" width="1.22" height="9.50" fill="#fdae61"/><rect x="340.64" y="188.9" width="1.22" height="9.50" fill="#f46d43"/><rect x="341.71" y="188.9" width="1.22" height="9.50" fill="#abdda4"/><rect x="342.78" y="188.9" width="1.22" height="9.50" fill="#fdae61"/><rect x="343.86" y="188.9" width="1.22" height="9.50" fill="#ffffbf"/><rect x="344.93" y="188.9" width="1.22" height="9.50" fill="#fdae61"/><rect x="346.00" y="188.9" width="1.22" height="9.50" fill="#e6f598"/><rect x="347.07" y="188.9" width="1.22" height="9.50" fill="#ffffbf"/><rect x="348.14" y="188.9" width="1.22" height="9.50" fill="#fee08b"/><rect x="349.22" y="188.9" width="1.22" height="9.50" fill="#fdae61"/><rect x="350.29" y="188.9" width="1.22" height="9.50" fill="#ffffbf"/><rect x="351.36" y="188.9" width="1.22" height="9.50" fill="#a04a70"/><rect x="352.43" y="188.9" width="1.22" height="9.50" fill="#fdae61"/><rect x="353.50" y="188.9" width="1.22" height="9.50" fill="#fee08b"/><rect x="354.58" y="188.9" width="1.22" height="9.50" fill="#e6f598"/><rect x="355.65" y="188.9" width="1.22" height="9.50" fill="#ffffbf"/><rect x="356.72" y="188.9" width="1.22" height="9.50" fill="#fdae61"/><rect x="357.79" y="188.9" width="1.22" height="9.50" fill="#abdda4"/><rect x="358.86" y="188.9" width="1.22" height="9.50" fill="#fdae61"/><rect x="359.94" y="188.9" width="1.22" height="9.50" fill="#f46d43"/><rect x="361.01" y="188.9" width="1.22" height="9.50" fill="#fdae61"/><rect x="362.08" y="188.9" width="1.22" height="9.50" fill="#fee08b"/><rect x="363.15" y="188.9" width="1.22" height="9.50" fill="#fdae61"/><rect x="364.22" y="188.9" width="1.22" height="9.50" fill="#fdae61"/><rect x="365.30" y="188.9" width="1.22" height="9.50" fill="#fee08b"/><rect x="366.37" y="188.9" width="1.22" height="9.50" fill="#fee08b"/><rect x="367.44" y="188.9" width="1.22" height="9.50" fill="#fdae61"/><rect x="368.51" y="188.9" width="1.22" height="9.50" fill="#fee08b"/><rect x="369.58" y="188.9" width="1.22" height="9.50" fill="#e6f598"/><rect x="370.66" y="188.9" width="1.22" height="9.50" fill="#66c2a5"/><rect x="371.73" y="188.9" width="1.22" height="9.50" fill="#ffffbf"/><rect x="372.80" y="188.9" width="1.22" height="9.50" fill="#ffffbf"/><rect x="373.87" y="188.9" width="1.22" height="9.50" fill="#fee08b"/><rect x="374.94" y="188.9" width="1.22" height="9.50" fill="#fdae61"/><rect x="376.02" y="188.9" width="1.22" height="9.50" fill="#f46d43"/><rect x="377.09" y="188.9" width="1.22" height="9.50" fill="#f46d43"/><rect x="378.16" y="188.9" width="1.22" height="9.50" fill="#f46d43"/><rect x="379.23" y="188.9" width="1.22" height="9.50" fill="#ffffbf"/><rect x="380.30" y="188.9" width="1.22" height="9.50" fill="#abdda4"/><rect x="381.38" y="188.9" width="1.22" height="9.50" fill="#f46d43"/><rect x="382.45" y="188.9" width="1.22" height="9.50" fill="#ffffbf"/><rect x="383.52" y="188.9" width="1.22" height="9.50" fill="#f46d43"/><rect x="384.59" y="188.9" width="1.22" height="9.50" fill="#ffffbf"/><rect x="385.66" y="188.9" width="1.22" height="9.50" fill="#fee08b"/><rect x="386.74" y="188.9" width="1.22" height="9.50" fill="#3288bd"/><rect x="387.81" y="188.9" width="1.22" height="9.50" fill="#fdae61"/><rect x="388.88" y="188.9" width="1.22" height="9.50" fill="#fee08b"/><rect x="389.95" y="188.9" width="1.22" height="9.50" fill="#ffffbf"/><rect x="391.02" y="188.9" width="1.22" height="9.50" fill="#abdda4"/><rect x="392.10" y="188.9" width="1.22" height="9.50" fill="#ffffbf"/><rect x="393.17" y="188.9" width="1.22" height="9.50" fill="#ffffbf"/><rect x="394.24" y="188.9" width="1.22" height="9.50" fill="#e6f598"/><rect x="395.31" y="188.9" width="1.22" height="9.50" fill="#abdda4"/><rect x="396.38" y="188.9" width="1.22" height="9.50" fill="#fee08b"/><rect x="397.46" y="188.9" width="1.22" height="9.50" fill="#ffffbf"/><rect x="398.53" y="188.9" width="1.22" height="9.50" fill="#abdda4"/><rect x="399.60" y="188.9" width="1.22" height="9.50" fill="#e6f598"/><rect x="400.67" y="188.9" width="1.22" height="9.50" fill="#fee08b"/><rect x="401.74" y="188.9" width="1.22" height="9.50" fill="#e6f598"/><rect x="402.82" y="188.9" width="1.22" height="9.50" fill="#e6f598"/><rect x="403.89" y="188.9" width="1.22" height="9.50" fill="#d9464e"/><rect x="404.96" y="188.9" width="1.22" height="9.50" fill="#ffffbf"/><rect x="406.03" y="188.9" width="1.22" height="9.50" fill="#3a88c0"/><rect x="407.10" y="188.9" width="1.22" height="9.50" fill="#fee08b"/><rect x="408.18" y="188.9" width="1.22" height="9.50" fill="#ffffbf"/><rect x="409.25" y="188.9" width="1.22" height="9.50" fill="#fdae61"/><rect x="410.32" y="188.9" width="1.22" height="9.50" fill="#ffffbf"/><rect x="411.39" y="188.9" width="1.22" height="9.50" fill="#66c2a5"/><rect x="412.46" y="188.9" width="1.22" height="9.50" fill="#e6f598"/><rect x="413.54" y="188.9" width="1.22" height="9.50" fill="#ffffbf"/><rect x="414.61" y="188.9" width="1.22" height="9.50" fill="#fee08b"/><rect x="415.68" y="188.9" width="1.22" height="9.50" fill="#ffffbf"/><rect x="416.75" y="188.9" width="1.22" height="9.50" fill="#fee08b"/><rect x="417.82" y="188.9" width="1.22" height="9.50" fill="#fee08b"/><rect x="418.90" y="188.9" width="1.22" height="9.50" fill="#e6f598"/><rect x="419.97" y="188.9" width="1.22" height="9.50" fill="#fdae61"/><rect x="421.04" y="188.9" width="1.22" height="9.50" fill="#e6f598"/><rect x="422.11" y="188.9" width="1.22" height="9.50" fill="#f46d43"/><rect x="423.18" y="188.9" width="1.22" height="9.50" fill="#ffffbf"/><rect x="424.26" y="188.9" width="1.22" height="9.50" fill="#fee08b"/><rect x="425.33" y="188.9" width="1.22" height="9.50" fill="#fdae61"/><rect x="319.20" y="198.4" width="1.22" height="9.70" fill="#ffffbf"/><rect x="320.27" y="198.4" width="1.22" height="9.70" fill="#fee08b"/><rect x="321.34" y="198.4" width="1.22" height="9.70" fill="#ffffbf"/><rect x="322.42" y="198.4" width="1.22" height="9.70" fill="#abdda4"/><rect x="323.49" y="198.4" width="1.22" height="9.70" fill="#fdae61"/><rect x="324.56" y="198.4" width="1.22" height="9.70" fill="#d53e4f"/><rect x="325.63" y="198.4" width="1.22" height="9.70" fill="#fee08b"/><rect x="326.70" y="198.4" width="1.22" height="9.70" fill="#ffffbf"/><rect x="327.78" y="198.4" width="1.22" height="9.70" fill="#fdae61"/><rect x="328.85" y="198.4" width="1.22" height="9.70" fill="#fdae61"/><rect x="329.92" y="198.4" width="1.22" height="9.70" fill="#c8344c"/><rect x="330.99" y="198.4" width="1.22" height="9.70" fill="#ffffbf"/><rect x="332.06" y="198.4" width="1.22" height="9.70" fill="#fee08b"/><rect x="333.14" y="198.4" width="1.22" height="9.70" fill="#e6f598"/><rect x="334.21" y="198.4" width="1.22" height="9.70" fill="#fee08b"/><rect x="335.28" y="198.4" width="1.22" height="9.70" fill="#ffffbf"/><rect x="336.35" y="198.4" width="1.22" height="9.70" fill="#fdae61"/><rect x="337.42" y="198.4" width="1.22" height="9.70" fill="#fee08b"/><rect x="338.50" y="198.4" width="1.22" height="9.70" fill="#e6f598"/><rect x="339.57" y="198.4" width="1.22" height="9.70" fill="#abdda4"/><rect x="340.64" y="198.4" width="1.22" height="9.70" fill="#e6f598"/><rect x="341.71" y="198.4" width="1.22" height="9.70" fill="#fee08b"/><rect x="342.78" y="198.4" width="1.22" height="9.70" fill="#fee08b"/><rect x="343.86" y="198.4" width="1.22" height="9.70" fill="#fee08b"/><rect x="344.93" y="198.4" width="1.22" height="9.70" fill="#fdae61"/><rect x="346.00" y="198.4" width="1.22" height="9.70" fill="#fee08b"/><rect x="347.07" y="198.4" width="1.22" height="9.70" fill="#e6f598"/><rect x="348.14" y="198.4" width="1.22" height="9.70" fill="#e6f598"/><rect x="349.22" y="198.4" width="1.22" height="9.70" fill="#ffffbf"/><rect x="350.29" y="198.4" width="1.22" height="9.70" fill="#abdda4"/><rect x="351.36" y="198.4" width="1.22" height="9.70" fill="#fdae61"/><rect x="352.43" y="198.4" width="1.22" height="9.70" fill="#fdae61"/><rect x="353.50" y="198.4" width="1.22" height="9.70" fill="#fee08b"/><rect x="354.58" y="198.4" width="1.22" height="9.70" fill="#fdae61"/><rect x="355.65" y="198.4" width="1.22" height="9.70" fill="#fdae61"/><rect x="356.72" y="198.4" width="1.22" height="9.70" fill="#fee08b"/><rect x="357.79" y="198.4" width="1.22" height="9.70" fill="#ffffbf"/><rect x="358.86" y="198.4" width="1.22" height="9.70" fill="#fee08b"/><rect x="359.94" y="198.4" width="1.22" height="9.70" fill="#fee08b"/><rect x="361.01" y="198.4" width="1.22" height="9.70" fill="#e6f598"/><rect x="362.08" y="198.4" width="1.22" height="9.70" fill="#66c2a5"/><rect x="363.15" y="198.4" width="1.22" height="9.70" fill="#fee08b"/><rect x="364.22" y="198.4" width="1.22" height="9.70" fill="#f46d43"/><rect x="365.30" y="198.4" width="1.22" height="9.70" fill="#f46d43"/><rect x="366.37" y="198.4" width="1.22" height="9.70" fill="#e6f598"/><rect x="367.44" y="198.4" width="1.22" height="9.70" fill="#f46d43"/><rect x="368.51" y="198.4" width="1.22" height="9.70" fill="#ffffbf"/><rect x="369.58" y="198.4" width="1.22" height="9.70" fill="#fee08b"/><rect x="370.66" y="198.4" width="1.22" height="9.70" fill="#fee08b"/><rect x="371.73" y="198.4" width="1.22" height="9.70" fill="#e6f598"/><rect x="372.80" y="198.4" width="1.22" height="9.70" fill="#f46d43"/><rect x="373.87" y="198.4" width="1.22" height="9.70" fill="#fdae61"/><rect x="374.94" y="198.4" width="1.22" height="9.70" fill="#fee08b"/><rect x="376.02" y="198.4" width="1.22" height="9.70" fill="#f46d43"/><rect x="377.09" y="198.4" width="1.22" height="9.70" fill="#e6f598"/><rect x="378.16" y="198.4" width="1.22" height="9.70" fill="#fdae61"/><rect x="379.23" y="198.4" width="1.22" height="9.70" fill="#fdae61"/><rect x="380.30" y="198.4" width="1.22" height="9.70" fill="#f46d43"/><rect x="381.38" y="198.4" width="1.22" height="9.70" fill="#ffffbf"/><rect x="382.45" y="198.4" width="1.22" height="9.70" fill="#fee08b"/><rect x="383.52" y="198.4" width="1.22" height="9.70" fill="#ffffbf"/><rect x="384.59" y="198.4" width="1.22" height="9.70" fill="#f46d43"/><rect x="385.66" y="198.4" width="1.22" height="9.70" fill="#e6f598"/><rect x="386.74" y="198.4" width="1.22" height="9.70" fill="#abdda4"/><rect x="387.81" y="198.4" width="1.22" height="9.70" fill="#ffffbf"/><rect x="388.88" y="198.4" width="1.22" height="9.70" fill="#fdae61"/><rect x="389.95" y="198.4" width="1.22" height="9.70" fill="#fee08b"/><rect x="391.02" y="198.4" width="1.22" height="9.70" fill="#fdae61"/><rect x="392.10" y="198.4" width="1.22" height="9.70" fill="#d53e4f"/><rect x="393.17" y="198.4" width="1.22" height="9.70" fill="#fee08b"/><rect x="394.24" y="198.4" width="1.22" height="9.70" fill="#ffffbf"/><rect x="395.31" y="198.4" width="1.22" height="9.70" fill="#fdae61"/><rect x="396.38" y="198.4" width="1.22" height="9.70" fill="#fdae61"/><rect x="397.46" y="198.4" width="1.22" height="9.70" fill="#fee08b"/><rect x="398.53" y="198.4" width="1.22" height="9.70" fill="#ffffbf"/><rect x="399.60" y="198.4" width="1.22" height="9.70" fill="#fee08b"/><rect x="400.67" y="198.4" width="1.22" height="9.70" fill="#ffffbf"/><rect x="401.74" y="198.4" width="1.22" height="9.70" fill="#e6f598"/><rect x="402.82" y="198.4" width="1.22" height="9.70" fill="#fee08b"/><rect x="403.89" y="198.4" width="1.22" height="9.70" fill="#e6f598"/><rect x="404.96" y="198.4" width="1.22" height="9.70" fill="#abdda4"/><rect x="406.03" y="198.4" width="1.22" height="9.70" fill="#fdae61"/><rect x="407.10" y="198.4" width="1.22" height="9.70" fill="#abdda4"/><rect x="408.18" y="198.4" width="1.22" height="9.70" fill="#ffffbf"/><rect x="409.25" y="198.4" width="1.22" height="9.70" fill="#fdae61"/><rect x="410.32" y="198.4" width="1.22" height="9.70" fill="#c8344c"/><rect x="411.39" y="198.4" width="1.22" height="9.70" fill="#ffffbf"/><rect x="412.46" y="198.4" width="1.22" height="9.70" fill="#abdda4"/><rect x="413.54" y="198.4" width="1.22" height="9.70" fill="#fee08b"/><rect x="414.61" y="198.4" width="1.22" height="9.70" fill="#fee08b"/><rect x="415.68" y="198.4" width="1.22" height="9.70" fill="#e6f598"/><rect x="416.75" y="198.4" width="1.22" height="9.70" fill="#e6f598"/><rect x="417.82" y="198.4" width="1.22" height="9.70" fill="#abdda4"/><rect x="418.90" y="198.4" width="1.22" height="9.70" fill="#fee08b"/><rect x="419.97" y="198.4" width="1.22" height="9.70" fill="#ffffbf"/><rect x="421.04" y="198.4" width="1.22" height="9.70" fill="#fdae61"/><rect x="422.11" y="198.4" width="1.22" height="9.70" fill="#c8344c"/><rect x="423.18" y="198.4" width="1.22" height="9.70" fill="#e6f598"/><rect x="424.26" y="198.4" width="1.22" height="9.70" fill="#ffffbf"/><rect x="425.33" y="198.4" width="1.22" height="9.70" fill="#ffffbf"/></g>
<rect x="319.2" y="179.3" width="107.2" height="28.8" fill="none" stroke="#333" stroke-width="0.9"/>
<path d="M319.2 188.9H426.4M319.2 198.4H426.4" stroke="#333" stroke-width="0.9"/>
<text x="291.5" y="227.8" font-size="11" font-weight="bold">d</text>
<text transform="translate(374.2 232.4) scale(1 1.08)" font-size="9.5" text-anchor="middle">Neighbour ranking</text>
<path d="M340.36 236V272.5M361.82 236V272.5M383.28 236V272.5M404.74 236V272.5" stroke="#bbb" stroke-width="0.7" stroke-dasharray="3 2" fill="none"/>
<path d="M328 244.8H339.4M339.4 242.6V247" stroke="#666" stroke-width="1.3"/>
<rect x="319.5" y="241.1" width="8.5" height="7.4" fill="#4169e1" stroke="#555" stroke-width="0.8"/>
<path d="M321.4 241.1V248.5" stroke="#444" stroke-width="0.9"/>
<path d="M318.9 263.3H321.4M354.3 263.3H403.2M403.2 261.2V265.4" stroke="#666" stroke-width="1.3"/>
<rect x="321.4" y="259.3" width="32.9" height="7.6" fill="#f5604a" stroke="#555" stroke-width="0.8"/>
<path d="M329.5 259.3V266.9" stroke="#555" stroke-width="0.9"/>
<path d="M318.9 236H426.2V272.5H318.9ZM318.90 272.5V278.8M340.36 272.5V278.8M361.82 272.5V278.8M383.28 272.5V278.8M404.74 272.5V278.8M426.20 272.5V278.8" stroke="#111" stroke-width="1.2" fill="none"/>
<text transform="translate(318.90 289) scale(0.97 1.08)" font-size="9" text-anchor="middle">0</text>
<text transform="translate(340.36 289) scale(0.97 1.08)" font-size="9" text-anchor="middle">5</text>
<text transform="translate(361.82 289) scale(0.97 1.08)" font-size="9" text-anchor="middle">10</text>
<text transform="translate(383.28 289) scale(0.97 1.08)" font-size="9" text-anchor="middle">15</text>
<text transform="translate(404.74 289) scale(0.97 1.08)" font-size="9" text-anchor="middle">20</text>
<text transform="translate(426.20 289) scale(0.97 1.08)" font-size="9" text-anchor="middle">25</text>
<text x="372.3" y="302.5" font-size="9.2" text-anchor="middle">ranking %</text>
<text x="444.6" y="7.8" font-size="11" font-weight="bold">e</text>
<text transform="translate(513.6 11.3) scale(1 1.08)" font-size="9.5" text-anchor="middle">Characterization</text>
<circle cx="573.7" cy="5" r="4.2" fill="#ba55d3"/>
<text x="579" y="8.1" font-size="9.5">CPD-DIS</text>
<circle cx="627.9" cy="5" r="4.2" fill="#4169e1"/>
<text x="633.4" y="8.1" font-size="9.5">CPD</text>
<circle cx="662.7" cy="5" r="4.2" fill="#ff6347"/>
<text x="668.6" y="8.1" font-size="9.5">DIS</text>
<path d="M460.20 15.4V40.6M481.32 15.4V40.6M502.44 15.4V40.6M523.56 15.4V40.6M544.68 15.4V40.6M460.20 40.6V156.7M481.32 40.6V156.7M502.44 40.6V156.7M523.56 40.6V156.7M544.68 40.6V156.7M460.20 156.7V272.4M481.32 156.7V272.4M502.44 156.7V272.4M523.56 156.7V272.4M544.68 156.7V272.4" stroke="#c8c8c8" stroke-width="0.75" stroke-dasharray="3.8 1.6" fill="none"/>
<path d="M523.56 21.7H565.8" stroke="#cf7fe6" stroke-width="1.3"/>
<circle cx="523.56" cy="21.7" r="4.25" fill="#ba55d3"/>
<text x="575.6" y="25.40" font-size="9.5">drug treatment</text>
<path d="M559.04 34.3H565.8" stroke="#cf7fe6" stroke-width="1.3"/>
<circle cx="559.04" cy="34.3" r="4.25" fill="#ba55d3"/>
<text x="575.6" y="38.00" font-size="9.5">side effects</text>
<path d="M461.89 51.8H565.8" stroke="#5b80ea" stroke-width="1.3"/>
<circle cx="461.89" cy="51.8" r="4.25" fill="#4169e1"/>
<text x="575.6" y="55.50" font-size="9.5">drug targets</text>
<path d="M472.45 65.8H565.8" stroke="#5b80ea" stroke-width="1.3"/>
<circle cx="472.45" cy="65.8" r="4.25" fill="#4169e1"/>
<text x="575.6" y="69.50" font-size="9.5">mechanism of action</text>
<path d="M489.77 79.8H565.8" stroke="#5b80ea" stroke-width="1.3"/>
<circle cx="489.77" cy="79.8" r="4.25" fill="#4169e1"/>
<text x="575.6" y="83.50" font-size="9.5">structure 2D</text>
<path d="M491.46 93.8H565.8" stroke="#5b80ea" stroke-width="1.3"/>
<circle cx="491.46" cy="93.8" r="4.25" fill="#4169e1"/>
<text x="575.6" y="97.50" font-size="9.5">pharmacological action</text>
<path d="M508.14 107.7H565.8" stroke="#5b80ea" stroke-width="1.3"/>
<circle cx="508.14" cy="107.7" r="4.25" fill="#4169e1"/>
<text x="575.6" y="111.40" font-size="9.5">drug treatment</text>
<path d="M535.81 121.7H565.8" stroke="#5b80ea" stroke-width="1.3"/>
<circle cx="535.81" cy="121.7" r="4.25" fill="#4169e1"/>
<text x="575.6" y="125.40" font-size="9.5">cell sensitivity</text>
<path d="M537.92 135.7H565.8" stroke="#5b80ea" stroke-width="1.3"/>
<circle cx="537.92" cy="135.7" r="4.25" fill="#4169e1"/>
<text x="575.6" y="139.40" font-size="9.5">side effects</text>
<path d="M544.47 149.6H565.8" stroke="#5b80ea" stroke-width="1.3"/>
<circle cx="544.47" cy="149.6" r="4.25" fill="#4169e1"/>
<text x="575.6" y="153.30" font-size="9.5">sens. biomarkers</text>
<path d="M474.56 167.5H565.8" stroke="#ff6f55" stroke-width="1.3"/>
<circle cx="474.56" cy="167.5" r="4.25" fill="#ff6347"/>
<text x="575.6" y="171.20" font-size="9.5">ontology</text>
<path d="M493.78 181.4H565.8" stroke="#ff6f55" stroke-width="1.3"/>
<circle cx="493.78" cy="181.4" r="4.25" fill="#ff6347"/>
<text x="575.6" y="185.10" font-size="9.5">cell models</text>
<path d="M502.44 195.4H565.8" stroke="#ff6f55" stroke-width="1.3"/>
<circle cx="502.44" cy="195.4" r="4.25" fill="#ff6347"/>
<text x="575.6" y="199.10" font-size="9.5">gene associations</text>
<path d="M513.21 209.4H565.8" stroke="#ff6f55" stroke-width="1.3"/>
<circle cx="513.21" cy="209.4" r="4.25" fill="#ff6347"/>
<text x="575.6" y="213.10" font-size="9.5">drug treatment</text>
<path d="M515.11 223.4H565.8" stroke="#ff6f55" stroke-width="1.3"/>
<circle cx="515.11" cy="223.4" r="4.25" fill="#ff6347"/>
<text x="575.6" y="227.10" font-size="9.5">transcription-up</text>
<path d="M515.11 237.3H565.8" stroke="#ff6f55" stroke-width="1.3"/>
<circle cx="515.11" cy="237.3" r="4.25" fill="#ff6347"/>
<text x="575.6" y="241.00" font-size="9.5">transcription-down</text>
<path d="M529.90 251.3H565.8" stroke="#ff6f55" stroke-width="1.3"/>
<circle cx="529.90" cy="251.3" r="4.25" fill="#ff6347"/>
<text x="575.6" y="255.00" font-size="9.5">tissue localization</text>
<path d="M548.69 265.2H565.8" stroke="#ff6f55" stroke-width="1.3"/>
<circle cx="548.69" cy="265.2" r="4.25" fill="#ff6347"/>
<text x="575.6" y="268.90" font-size="9.5">side effects</text>
<path d="M565.8 15.4V272.4M457.70 40.6H565.8M460.20 40.6V44.6M481.32 40.6V44.6M502.44 40.6V44.6M523.56 40.6V44.6M544.68 40.6V44.6M565.8 40.6V44.6M457.70 156.7H565.8M460.20 156.7V160.7M481.32 156.7V160.7M502.44 156.7V160.7M523.56 156.7V160.7M544.68 156.7V160.7M565.8 156.7V160.7M457.70 272.4H565.8M460.20 272.4V278.9M481.32 272.4V278.9M502.44 272.4V278.9M523.56 272.4V278.9M544.68 272.4V278.9M565.8 272.4V278.9M565.8 21.7H572.8M565.8 34.3H572.8M565.8 51.8H572.8M565.8 65.8H572.8M565.8 79.8H572.8M565.8 93.8H572.8M565.8 107.7H572.8M565.8 121.7H572.8M565.8 135.7H572.8M565.8 149.6H572.8M565.8 167.5H572.8M565.8 181.4H572.8M565.8 195.4H572.8M565.8 209.4H572.8M565.8 223.4H572.8M565.8 237.3H572.8M565.8 251.3H572.8M565.8 265.2H572.8" stroke="#111" stroke-width="1.2" fill="none"/>
<text transform="translate(460.20 288.5) scale(0.97 1.08)" font-size="9" text-anchor="middle">1</text>
<text transform="translate(481.32 288.5) scale(0.97 1.08)" font-size="9" text-anchor="middle">0.9</text>
<text transform="translate(502.44 288.5) scale(0.97 1.08)" font-size="9" text-anchor="middle">0.8</text>
<text transform="translate(523.56 288.5) scale(0.97 1.08)" font-size="9" text-anchor="middle">0.7</text>
<text transform="translate(544.68 288.5) scale(0.97 1.08)" font-size="9" text-anchor="middle">0.6</text>
<text transform="translate(565.80 288.5) scale(0.97 1.08)" font-size="9" text-anchor="middle">0.5</text>
<text x="511.7" y="302.6" font-size="9" text-anchor="middle">AUROC</text>
</svg></body></html>
